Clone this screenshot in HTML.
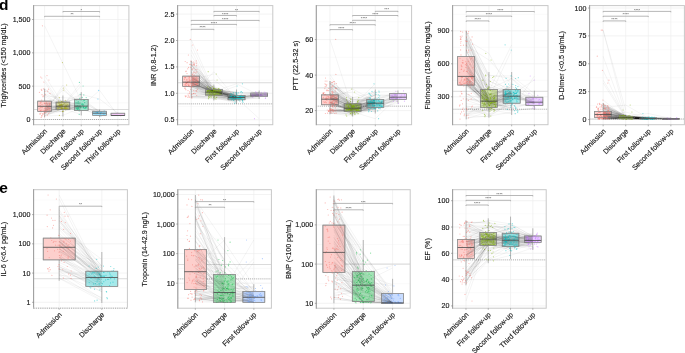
<!DOCTYPE html>
<html><head><meta charset="utf-8"><style>
html,body{margin:0;padding:0;background:#fff;width:685px;height:353px;overflow:hidden;font-family:"Liberation Sans", sans-serif;}
</style></head><body>
<svg width="685" height="353" viewBox="0 0 685 353" style="position:absolute;left:0;top:0;filter:blur(0.3px)"><style>text{font-family:"Liberation Sans", sans-serif} .ax{font-size:7.1px;fill:#1a1a1a;stroke:#1a1a1a;stroke-width:0.15px} .xl{font-size:7.2px}</style><rect width="685" height="353" fill="#fff"/><clipPath id="c0"><rect x="33.6" y="5.6" width="95.30000000000001" height="119.10000000000001"/></clipPath><g clip-path="url(#c0)"><line x1="33.6" x2="128.9" y1="102.83" y2="102.83" stroke="#f6f6f6" stroke-width="0.6"/><line x1="33.6" x2="128.9" y1="69.50" y2="69.50" stroke="#f6f6f6" stroke-width="0.6"/><line x1="33.6" x2="128.9" y1="36.17" y2="36.17" stroke="#f6f6f6" stroke-width="0.6"/><line x1="33.6" x2="128.9" y1="119.50" y2="119.50" stroke="#eeeeee" stroke-width="0.7"/><line x1="33.6" x2="128.9" y1="86.17" y2="86.17" stroke="#eeeeee" stroke-width="0.7"/><line x1="33.6" x2="128.9" y1="52.83" y2="52.83" stroke="#eeeeee" stroke-width="0.7"/><line x1="33.6" x2="128.9" y1="19.50" y2="19.50" stroke="#eeeeee" stroke-width="0.7"/><line x1="44.60" x2="44.60" y1="5.6" y2="124.7" stroke="#eeeeee" stroke-width="0.7"/><line x1="62.92" x2="62.92" y1="5.6" y2="124.7" stroke="#eeeeee" stroke-width="0.7"/><line x1="81.25" x2="81.25" y1="5.6" y2="124.7" stroke="#eeeeee" stroke-width="0.7"/><line x1="99.58" x2="99.58" y1="5.6" y2="124.7" stroke="#eeeeee" stroke-width="0.7"/><line x1="117.90" x2="117.90" y1="5.6" y2="124.7" stroke="#eeeeee" stroke-width="0.7"/><line x1="33.6" x2="128.9" y1="109.50" y2="109.50" stroke="#c2c2c2" stroke-width="0.6"/><line x1="33.6" x2="128.9" y1="119.50" y2="119.50" stroke="#7a7a7a" stroke-width="0.65" stroke-dasharray="1 0.95"/><line x1="44.60" x2="44.60" y1="88.7" y2="117.5" stroke="#8a8a8a" stroke-width="0.6"/><rect x="37.72" y="101.1" width="13.75" height="10.40" fill="#fdcfcc" stroke="#777" stroke-width="0.6"/><line x1="62.92" x2="62.92" y1="95.5" y2="116.5" stroke="#8a8a8a" stroke-width="0.6"/><rect x="56.05" y="102.1" width="13.75" height="7.60" fill="#dfe0a6" stroke="#777" stroke-width="0.6"/><line x1="81.25" x2="81.25" y1="92.1" y2="115.5" stroke="#8a8a8a" stroke-width="0.6"/><rect x="74.38" y="99.4" width="13.75" height="11.20" fill="#a6e9d2" stroke="#777" stroke-width="0.6"/><line x1="99.58" x2="99.58" y1="109.5" y2="117.2" stroke="#8a8a8a" stroke-width="0.6"/><rect x="92.70" y="111.2" width="13.75" height="4.10" fill="#a6e3fc" stroke="#777" stroke-width="0.6"/><line x1="117.90" x2="117.90" y1="112.8" y2="116" stroke="#8a8a8a" stroke-width="0.6"/><rect x="111.03" y="113.2" width="13.75" height="2.40" fill="#f7cbfb" stroke="#777" stroke-width="0.6"/><path d="M44.6 25.8L81.3 101.0M44.6 111.8L62.9 107.9M62.9 107.9L81.3 109.7M81.3 109.7L99.6 114.0M99.6 114.0L117.9 115.5M44.6 115.9L62.9 115.4M62.9 115.4L81.3 107.7M81.3 107.7L99.6 116.0M99.6 116.0L117.9 115.8M44.6 88.9L62.9 101.9M62.9 101.9L81.3 94.3M81.3 94.3L99.6 99.0M99.6 99.0L117.9 113.1M44.6 113.9L62.9 108.0M62.9 108.0L81.3 106.6M81.3 106.6L99.6 90.3M99.6 90.3L117.9 115.5M44.6 102.7L62.9 107.6M62.9 107.6L81.3 100.5M81.3 100.5L99.6 112.1M44.6 110.4L62.9 111.6M62.9 111.6L81.3 104.6M81.3 104.6L99.6 114.2M44.6 101.7L62.9 101.0M62.9 101.0L81.3 100.3M81.3 100.3L99.6 110.8M44.6 108.5L62.9 104.9M62.9 104.9L81.3 107.6M81.3 107.6L99.6 112.1M44.6 94.7L62.9 105.8M62.9 105.8L81.3 104.9M81.3 104.9L99.6 112.6M44.6 90.4L62.9 102.5M62.9 102.5L81.3 97.6M81.3 97.6L99.6 111.9M44.6 106.1L62.9 106.9M62.9 106.9L81.3 107.2M81.3 107.2L99.6 112.9M44.6 104.5L62.9 102.5M62.9 102.5L81.3 102.7M81.3 102.7L99.6 111.3M44.6 95.8L62.9 97.7M62.9 97.7L81.3 98.7M44.6 113.6L62.9 106.5M62.9 106.5L81.3 105.5M44.6 93.4L62.9 102.0M62.9 102.0L81.3 97.4M44.6 112.4L62.9 106.3M62.9 106.3L81.3 108.4M44.6 110.8L62.9 111.5M62.9 111.5L81.3 105.0M44.6 89.2L62.9 104.8M62.9 104.8L81.3 94.9M44.6 108.2L62.9 109.1M62.9 109.1L81.3 108.7M44.6 100.2L62.9 100.4M62.9 100.4L81.3 107.1M44.6 103.9L62.9 108.2M62.9 108.2L81.3 101.8M44.6 109.8L62.9 104.9M62.9 104.9L81.3 102.8M44.6 106.2L62.9 102.5M62.9 102.5L81.3 107.6M44.6 115.7L62.9 108.8M62.9 108.8L81.3 114.4M44.6 82.0L62.9 109.1M62.9 109.1L81.3 108.2M44.6 113.8L62.9 85.0M62.9 85.0L81.3 106.5M44.6 110.2L62.9 90.0M62.9 90.0L81.3 104.1M44.6 108.8L62.9 107.4M62.9 107.4L81.3 107.1M44.6 103.3L62.9 104.2M62.9 104.2L81.3 103.3M44.6 103.8L62.9 101.7M62.9 101.7L81.3 104.2M44.6 107.7L62.9 105.2M62.9 105.2L81.3 86.0M44.6 110.4L62.9 104.5M62.9 104.5L81.3 107.9M44.6 105.3L62.9 108.9M62.9 108.9L81.3 106.3M44.6 104.6L62.9 108.6M62.9 108.6L81.3 103.5M44.6 103.6L62.9 108.0M62.9 108.0L81.3 102.6M44.6 107.0L62.9 105.2M62.9 105.2L81.3 107.6M44.6 102.0L62.9 102.6M62.9 102.6L81.3 107.9M44.6 116.0L62.9 108.5M62.9 108.5L81.3 106.7M44.6 111.5L62.9 88.0M62.9 88.0L81.3 107.8M44.6 110.0L62.9 108.4M62.9 108.4L81.3 109.4M44.6 80.0L62.9 106.6M62.9 106.6L81.3 109.0M44.6 108.9L62.9 105.3M62.9 105.3L81.3 82.4M44.6 75.6L62.9 103.8M62.9 103.8L81.3 107.0M44.6 112.2L62.9 106.4M62.9 106.4L81.3 111.0M44.6 113.0L62.9 109.0M62.9 109.0L81.3 107.6M44.6 115.1L62.9 111.0M44.6 109.8L62.9 105.2M44.6 107.6L62.9 104.1M44.6 113.4L62.9 109.8M44.6 103.2L62.9 101.9M44.6 107.3L62.9 108.3M44.6 114.6L62.9 108.9M44.6 112.9L62.9 106.6M44.6 96.7L62.9 105.5M44.6 110.9L62.9 105.9M44.6 103.3L62.9 102.7M44.6 109.5L62.9 109.7M44.6 110.6L62.9 105.9M44.6 111.1L62.9 108.9M44.6 108.0L62.9 107.3" fill="none" stroke="#000" stroke-opacity="0.11" stroke-width="0.4"/><g fill="#F8766D" fill-opacity="0.5"><circle cx="42.4" cy="25.8" r=".6"/><circle cx="49.4" cy="111.8" r=".6"/><circle cx="41.8" cy="115.9" r=".6"/><circle cx="43.4" cy="88.9" r=".6"/><circle cx="40.0" cy="113.9" r=".6"/><circle cx="40.9" cy="102.7" r=".6"/><circle cx="44.8" cy="110.4" r=".6"/><circle cx="40.7" cy="101.7" r=".6"/><circle cx="44.8" cy="108.5" r=".6"/><circle cx="42.0" cy="94.7" r=".6"/><circle cx="41.7" cy="90.4" r=".6"/><circle cx="46.9" cy="106.1" r=".6"/><circle cx="42.0" cy="104.5" r=".6"/><circle cx="43.3" cy="95.8" r=".6"/><circle cx="42.6" cy="113.6" r=".6"/><circle cx="50.0" cy="93.4" r=".6"/><circle cx="44.2" cy="112.4" r=".6"/><circle cx="45.2" cy="110.8" r=".6"/><circle cx="48.5" cy="89.2" r=".6"/><circle cx="49.7" cy="108.2" r=".6"/><circle cx="41.7" cy="100.2" r=".6"/><circle cx="49.6" cy="103.9" r=".6"/><circle cx="41.2" cy="109.8" r=".6"/><circle cx="46.8" cy="106.2" r=".6"/><circle cx="41.9" cy="115.7" r=".6"/><circle cx="43.8" cy="82.0" r=".6"/><circle cx="40.1" cy="113.8" r=".6"/><circle cx="43.0" cy="110.2" r=".6"/><circle cx="39.2" cy="108.8" r=".6"/><circle cx="44.4" cy="103.3" r=".6"/><circle cx="49.6" cy="103.8" r=".6"/><circle cx="40.4" cy="107.7" r=".6"/><circle cx="40.3" cy="110.4" r=".6"/><circle cx="40.2" cy="105.3" r=".6"/><circle cx="47.6" cy="104.6" r=".6"/><circle cx="46.5" cy="103.6" r=".6"/><circle cx="42.0" cy="107.0" r=".6"/><circle cx="46.5" cy="102.0" r=".6"/><circle cx="44.5" cy="116.0" r=".6"/><circle cx="46.6" cy="111.5" r=".6"/><circle cx="46.2" cy="110.0" r=".6"/><circle cx="48.9" cy="80.0" r=".6"/><circle cx="49.3" cy="108.9" r=".6"/><circle cx="47.0" cy="75.6" r=".6"/><circle cx="46.2" cy="112.2" r=".6"/><circle cx="41.0" cy="113.0" r=".6"/><circle cx="47.4" cy="115.1" r=".6"/><circle cx="47.2" cy="109.8" r=".6"/><circle cx="42.0" cy="107.6" r=".6"/><circle cx="48.7" cy="113.4" r=".6"/><circle cx="44.6" cy="103.2" r=".6"/><circle cx="47.6" cy="107.3" r=".6"/><circle cx="42.8" cy="114.6" r=".6"/><circle cx="45.1" cy="112.9" r=".6"/><circle cx="43.0" cy="96.7" r=".6"/><circle cx="40.3" cy="110.9" r=".6"/><circle cx="40.2" cy="103.3" r=".6"/><circle cx="47.7" cy="109.5" r=".6"/><circle cx="41.1" cy="110.6" r=".6"/><circle cx="43.7" cy="111.1" r=".6"/><circle cx="48.1" cy="108.0" r=".6"/><circle cx="45.6" cy="108.2" r=".6"/><circle cx="40.7" cy="77.0" r=".6"/><circle cx="43.5" cy="113.8" r=".6"/><circle cx="41.2" cy="117.4" r=".6"/><circle cx="44.9" cy="91.5" r=".6"/><circle cx="45.3" cy="94.7" r=".6"/><circle cx="41.3" cy="89.3" r=".6"/><circle cx="41.8" cy="78.0" r=".6"/><circle cx="47.7" cy="91.2" r=".6"/><circle cx="39.4" cy="92.3" r=".6"/></g><g fill="#A3A500" fill-opacity="0.5"><circle cx="62.4" cy="62.6" r=".6"/><circle cx="58.1" cy="107.9" r=".6"/><circle cx="59.4" cy="115.4" r=".6"/><circle cx="61.5" cy="101.9" r=".6"/><circle cx="62.9" cy="108.0" r=".6"/><circle cx="65.0" cy="107.6" r=".6"/><circle cx="62.7" cy="111.6" r=".6"/><circle cx="58.5" cy="101.0" r=".6"/><circle cx="62.3" cy="104.9" r=".6"/><circle cx="59.6" cy="105.8" r=".6"/><circle cx="65.0" cy="102.5" r=".6"/><circle cx="62.0" cy="106.9" r=".6"/><circle cx="59.8" cy="102.5" r=".6"/><circle cx="59.3" cy="97.7" r=".6"/><circle cx="65.9" cy="106.5" r=".6"/><circle cx="62.7" cy="102.0" r=".6"/><circle cx="66.6" cy="106.3" r=".6"/><circle cx="62.7" cy="111.5" r=".6"/><circle cx="61.8" cy="104.8" r=".6"/><circle cx="62.6" cy="109.1" r=".6"/><circle cx="65.3" cy="100.4" r=".6"/><circle cx="66.8" cy="108.2" r=".6"/><circle cx="60.3" cy="104.9" r=".6"/><circle cx="66.9" cy="102.5" r=".6"/><circle cx="66.9" cy="108.8" r=".6"/><circle cx="65.4" cy="109.1" r=".6"/><circle cx="66.6" cy="85.0" r=".6"/><circle cx="63.8" cy="90.0" r=".6"/><circle cx="61.1" cy="107.4" r=".6"/><circle cx="59.7" cy="104.2" r=".6"/><circle cx="61.7" cy="101.7" r=".6"/><circle cx="60.4" cy="105.2" r=".6"/><circle cx="67.2" cy="104.5" r=".6"/><circle cx="67.8" cy="108.9" r=".6"/><circle cx="65.8" cy="108.6" r=".6"/><circle cx="64.6" cy="108.0" r=".6"/><circle cx="65.7" cy="105.2" r=".6"/><circle cx="63.3" cy="102.6" r=".6"/><circle cx="61.3" cy="108.5" r=".6"/><circle cx="63.7" cy="88.0" r=".6"/><circle cx="64.4" cy="108.4" r=".6"/><circle cx="64.6" cy="106.6" r=".6"/><circle cx="59.0" cy="105.3" r=".6"/><circle cx="64.0" cy="103.8" r=".6"/><circle cx="62.5" cy="106.4" r=".6"/><circle cx="58.2" cy="109.0" r=".6"/><circle cx="63.4" cy="111.0" r=".6"/><circle cx="61.4" cy="105.2" r=".6"/><circle cx="61.6" cy="104.1" r=".6"/><circle cx="57.9" cy="109.8" r=".6"/><circle cx="60.1" cy="101.9" r=".6"/><circle cx="61.3" cy="108.3" r=".6"/><circle cx="61.9" cy="108.9" r=".6"/><circle cx="65.9" cy="106.6" r=".6"/><circle cx="66.7" cy="105.5" r=".6"/><circle cx="60.4" cy="105.9" r=".6"/><circle cx="58.7" cy="102.7" r=".6"/><circle cx="65.4" cy="109.7" r=".6"/><circle cx="59.5" cy="105.9" r=".6"/><circle cx="65.6" cy="108.9" r=".6"/><circle cx="65.7" cy="107.3" r=".6"/></g><g fill="#00BF7D" fill-opacity="0.5"><circle cx="79.3" cy="109.7" r=".6"/><circle cx="78.5" cy="107.7" r=".6"/><circle cx="80.1" cy="94.3" r=".6"/><circle cx="86.5" cy="106.6" r=".6"/><circle cx="84.1" cy="100.5" r=".6"/><circle cx="82.8" cy="104.6" r=".6"/><circle cx="84.0" cy="100.3" r=".6"/><circle cx="83.7" cy="107.6" r=".6"/><circle cx="82.2" cy="104.9" r=".6"/><circle cx="86.2" cy="97.6" r=".6"/><circle cx="85.1" cy="107.2" r=".6"/><circle cx="76.0" cy="102.7" r=".6"/><circle cx="79.7" cy="98.7" r=".6"/><circle cx="77.3" cy="105.5" r=".6"/><circle cx="82.3" cy="97.4" r=".6"/><circle cx="84.8" cy="108.4" r=".6"/><circle cx="83.7" cy="105.0" r=".6"/><circle cx="83.8" cy="94.9" r=".6"/><circle cx="78.3" cy="108.7" r=".6"/><circle cx="83.2" cy="107.1" r=".6"/><circle cx="78.4" cy="101.8" r=".6"/><circle cx="77.8" cy="102.8" r=".6"/><circle cx="85.6" cy="107.6" r=".6"/><circle cx="79.2" cy="114.4" r=".6"/><circle cx="76.7" cy="108.2" r=".6"/><circle cx="79.0" cy="106.5" r=".6"/><circle cx="83.2" cy="104.1" r=".6"/><circle cx="80.5" cy="107.1" r=".6"/><circle cx="82.2" cy="103.3" r=".6"/><circle cx="81.7" cy="104.2" r=".6"/><circle cx="83.1" cy="86.0" r=".6"/><circle cx="85.7" cy="107.9" r=".6"/><circle cx="79.9" cy="106.3" r=".6"/><circle cx="79.0" cy="103.5" r=".6"/><circle cx="84.6" cy="102.6" r=".6"/><circle cx="86.3" cy="107.6" r=".6"/><circle cx="77.0" cy="107.9" r=".6"/><circle cx="83.6" cy="106.7" r=".6"/><circle cx="77.8" cy="107.8" r=".6"/><circle cx="77.7" cy="109.4" r=".6"/><circle cx="77.1" cy="109.0" r=".6"/><circle cx="79.4" cy="82.4" r=".6"/><circle cx="81.9" cy="107.0" r=".6"/><circle cx="79.2" cy="111.0" r=".6"/><circle cx="83.6" cy="107.6" r=".6"/></g><g fill="#00B0F6" fill-opacity="0.5"><circle cx="100.3" cy="114.0" r=".6"/><circle cx="100.9" cy="116.0" r=".6"/><circle cx="97.9" cy="99.0" r=".6"/><circle cx="98.6" cy="90.3" r=".6"/><circle cx="101.5" cy="112.1" r=".6"/><circle cx="103.9" cy="114.2" r=".6"/><circle cx="104.2" cy="110.8" r=".6"/><circle cx="96.1" cy="112.1" r=".6"/><circle cx="97.5" cy="112.6" r=".6"/><circle cx="97.3" cy="111.9" r=".6"/><circle cx="100.5" cy="112.9" r=".6"/><circle cx="99.4" cy="111.3" r=".6"/></g><g fill="#E76BF3" fill-opacity="0.5"><circle cx="121.5" cy="115.5" r=".6"/><circle cx="120.7" cy="115.8" r=".6"/><circle cx="117.0" cy="113.1" r=".6"/><circle cx="120.6" cy="115.5" r=".6"/></g><rect x="37.72" y="101.1" width="13.75" height="10.40" fill="none" stroke="#939393" stroke-width="0.6"/><line x1="37.72" x2="51.47" y1="106.3" y2="106.3" stroke="#4a4a4a" stroke-width="0.8"/><rect x="56.05" y="102.1" width="13.75" height="7.60" fill="none" stroke="#939393" stroke-width="0.6"/><line x1="56.05" x2="69.80" y1="106.2" y2="106.2" stroke="#4a4a4a" stroke-width="0.8"/><rect x="74.38" y="99.4" width="13.75" height="11.20" fill="none" stroke="#939393" stroke-width="0.6"/><line x1="74.38" x2="88.12" y1="106.1" y2="106.1" stroke="#4a4a4a" stroke-width="0.8"/><rect x="92.70" y="111.2" width="13.75" height="4.10" fill="none" stroke="#939393" stroke-width="0.6"/><line x1="92.70" x2="106.45" y1="113.2" y2="113.2" stroke="#4a4a4a" stroke-width="0.8"/><rect x="111.03" y="113.2" width="13.75" height="2.40" fill="none" stroke="#939393" stroke-width="0.6"/><line x1="111.03" x2="124.78" y1="115.5" y2="115.5" stroke="#4a4a4a" stroke-width="0.8"/></g><path d="M62.92 12.40V11.50H99.58V12.40" fill="none" stroke="#9a9a9a" stroke-width="0.7"/><text x="81.25" y="11.60" font-size="4" text-anchor="middle" fill="#444" font-family='"Liberation Sans", sans-serif'>*</text><path d="M44.60 17.20V16.30H99.58V17.20" fill="none" stroke="#9a9a9a" stroke-width="0.7"/><text x="72.09" y="16.40" font-size="4" text-anchor="middle" fill="#444" font-family='"Liberation Sans", sans-serif'>**</text><rect x="33.6" y="5.6" width="95.30" height="119.10" fill="none" stroke="#c8c8c8" stroke-width="1.0"/><line x1="33.6" x2="33.6" y1="5.1" y2="125.2" stroke="#959595" stroke-width="0.85"/><line x1="32.1" x2="33.6" y1="119.50" y2="119.50" stroke="#777" stroke-width="0.6"/><text x="30.40" y="122.00" class="ax" text-anchor="end">0</text><line x1="32.1" x2="33.6" y1="86.17" y2="86.17" stroke="#777" stroke-width="0.6"/><text x="30.40" y="88.67" class="ax" text-anchor="end">500</text><line x1="32.1" x2="33.6" y1="52.83" y2="52.83" stroke="#777" stroke-width="0.6"/><text x="30.40" y="55.33" class="ax" text-anchor="end">1,000</text><line x1="32.1" x2="33.6" y1="19.50" y2="19.50" stroke="#777" stroke-width="0.6"/><text x="30.40" y="22.00" class="ax" text-anchor="end">1,500</text><line x1="44.60" x2="44.60" y1="124.7" y2="126.3" stroke="#888" stroke-width="0.6"/><text transform="translate(47.70,131.60) rotate(-45)" class="ax xl" text-anchor="end">Admission</text><line x1="62.92" x2="62.92" y1="124.7" y2="126.3" stroke="#888" stroke-width="0.6"/><text transform="translate(66.02,131.60) rotate(-45)" class="ax xl" text-anchor="end">Discharge</text><line x1="81.25" x2="81.25" y1="124.7" y2="126.3" stroke="#888" stroke-width="0.6"/><text transform="translate(84.35,131.60) rotate(-45)" class="ax xl" text-anchor="end">First follow-up</text><line x1="99.58" x2="99.58" y1="124.7" y2="126.3" stroke="#888" stroke-width="0.6"/><text transform="translate(102.68,131.60) rotate(-45)" class="ax xl" text-anchor="end">Second follow-up</text><line x1="117.90" x2="117.90" y1="124.7" y2="126.3" stroke="#888" stroke-width="0.6"/><text transform="translate(121.00,131.60) rotate(-45)" class="ax xl" text-anchor="end">Third follow-up</text><text transform="translate(5.80,65.45) rotate(-90)" class="ax" text-anchor="middle">Triglycerides (<150 mg/dL)</text><clipPath id="c1"><rect x="177.6" y="5.6" width="95.20000000000002" height="119.10000000000001"/></clipPath><g clip-path="url(#c1)"><line x1="177.6" x2="272.8" y1="106.50" y2="106.50" stroke="#f6f6f6" stroke-width="0.6"/><line x1="177.6" x2="272.8" y1="80.10" y2="80.10" stroke="#f6f6f6" stroke-width="0.6"/><line x1="177.6" x2="272.8" y1="53.70" y2="53.70" stroke="#f6f6f6" stroke-width="0.6"/><line x1="177.6" x2="272.8" y1="27.30" y2="27.30" stroke="#f6f6f6" stroke-width="0.6"/><line x1="177.6" x2="272.8" y1="119.70" y2="119.70" stroke="#eeeeee" stroke-width="0.7"/><line x1="177.6" x2="272.8" y1="93.30" y2="93.30" stroke="#eeeeee" stroke-width="0.7"/><line x1="177.6" x2="272.8" y1="66.90" y2="66.90" stroke="#eeeeee" stroke-width="0.7"/><line x1="177.6" x2="272.8" y1="40.50" y2="40.50" stroke="#eeeeee" stroke-width="0.7"/><line x1="177.6" x2="272.8" y1="14.10" y2="14.10" stroke="#eeeeee" stroke-width="0.7"/><line x1="191.20" x2="191.20" y1="5.6" y2="124.7" stroke="#eeeeee" stroke-width="0.7"/><line x1="213.87" x2="213.87" y1="5.6" y2="124.7" stroke="#eeeeee" stroke-width="0.7"/><line x1="236.53" x2="236.53" y1="5.6" y2="124.7" stroke="#eeeeee" stroke-width="0.7"/><line x1="259.20" x2="259.20" y1="5.6" y2="124.7" stroke="#eeeeee" stroke-width="0.7"/><line x1="177.6" x2="272.8" y1="82.74" y2="82.74" stroke="#c2c2c2" stroke-width="0.6"/><line x1="177.6" x2="272.8" y1="103.86" y2="103.86" stroke="#7a7a7a" stroke-width="0.65" stroke-dasharray="1 0.95"/><line x1="191.20" x2="191.20" y1="60.8" y2="98.2" stroke="#8a8a8a" stroke-width="0.6"/><rect x="182.70" y="76.1" width="17.00" height="10.50" fill="#fdcfcc" stroke="#777" stroke-width="0.6"/><line x1="213.87" x2="213.87" y1="84.5" y2="100.5" stroke="#8a8a8a" stroke-width="0.6"/><rect x="205.37" y="89.5" width="17.00" height="5.60" fill="#d1e3a6" stroke="#777" stroke-width="0.6"/><line x1="236.53" x2="236.53" y1="89.5" y2="104" stroke="#8a8a8a" stroke-width="0.6"/><rect x="228.03" y="95.3" width="17.00" height="4.50" fill="#a6e9ea" stroke="#777" stroke-width="0.6"/><line x1="259.20" x2="259.20" y1="90.5" y2="99" stroke="#8a8a8a" stroke-width="0.6"/><rect x="250.70" y="93.1" width="17.00" height="3.50" fill="#ebd1ff" stroke="#777" stroke-width="0.6"/><path d="M191.2 62.1L213.9 89.6M213.9 89.6L236.5 92.7M236.5 92.7L259.2 91.9M191.2 88.2L213.9 97.2M213.9 97.2L236.5 98.5M236.5 98.5L259.2 97.3M191.2 84.3L213.9 90.9M213.9 90.9L236.5 96.6M236.5 96.6L259.2 96.5M191.2 94.4L213.9 97.4M213.9 97.4L236.5 98.3M236.5 98.3L259.2 98.5M191.2 50.0L213.9 96.8M213.9 96.8L236.5 101.0M236.5 101.0L259.2 95.9M191.2 89.7L213.9 94.7M213.9 94.7L236.5 98.1M236.5 98.1L259.2 95.5M191.2 83.7L213.9 91.2M213.9 91.2L236.5 97.6M236.5 97.6L259.2 94.2M191.2 86.7L213.9 94.5M213.9 94.5L236.5 98.4M236.5 98.4L259.2 94.5M191.2 79.3L213.9 91.5M213.9 91.5L236.5 97.9M236.5 97.9L259.2 118.7M191.2 88.2L213.9 91.4M213.9 91.4L236.5 97.3M236.5 97.3L259.2 94.8M191.2 81.5L213.9 91.0M213.9 91.0L236.5 98.2M236.5 98.2L259.2 94.9M191.2 91.4L213.9 94.9M213.9 94.9L236.5 100.7M236.5 100.7L259.2 97.8M191.2 65.7L213.9 91.6M213.9 91.6L236.5 92.5M236.5 92.5L259.2 92.4M191.2 94.0L213.9 94.9M213.9 94.9L236.5 97.5M236.5 97.5L259.2 95.0M191.2 80.7L213.9 90.5M213.9 90.5L236.5 96.4M236.5 96.4L259.2 95.4M191.2 81.0L213.9 91.4M213.9 91.4L236.5 97.7M236.5 97.7L259.2 93.7M191.2 83.2L213.9 91.3M213.9 91.3L236.5 99.6M236.5 99.6L259.2 95.4M191.2 96.1L213.9 94.3M213.9 94.3L236.5 98.3M236.5 98.3L259.2 96.5M191.2 80.6L213.9 91.2M213.9 91.2L236.5 83.8M236.5 83.8L259.2 95.1M191.2 80.3L213.9 91.0M213.9 91.0L236.5 97.6M236.5 97.6L259.2 94.7M191.2 85.2L213.9 92.9M213.9 92.9L236.5 97.6M236.5 97.6L259.2 96.1M191.2 77.7L213.9 89.3M213.9 89.3L236.5 96.5M236.5 96.5L259.2 92.4M191.2 85.6L213.9 91.2M213.9 91.2L236.5 99.8M236.5 99.8L259.2 96.1M191.2 72.0L213.9 92.5M213.9 92.5L236.5 95.5M236.5 95.5L259.2 92.1M191.2 64.2L213.9 88.0M213.9 88.0L236.5 96.0M236.5 96.0L259.2 93.7M191.2 79.0L213.9 93.6M213.9 93.6L236.5 98.8M236.5 98.8L259.2 93.1M191.2 45.0L213.9 93.1M213.9 93.1L236.5 97.2M236.5 97.2L259.2 95.2M191.2 68.8L213.9 91.0M213.9 91.0L236.5 94.0M236.5 94.0L259.2 92.4M191.2 85.4L213.9 94.6M213.9 94.6L236.5 98.3M236.5 98.3L259.2 95.9M191.2 79.9L213.9 92.4M213.9 92.4L236.5 95.9M236.5 95.9L259.2 94.9M191.2 91.9L213.9 93.0M213.9 93.0L236.5 97.7M191.2 77.8L213.9 90.8M213.9 90.8L236.5 94.9M191.2 64.9L213.9 91.9M213.9 91.9L236.5 95.4M191.2 97.3L213.9 97.0M213.9 97.0L236.5 102.0M191.2 82.9L213.9 91.5M213.9 91.5L236.5 96.3M191.2 86.4L213.9 97.3M213.9 97.3L236.5 96.7M191.2 74.1L213.9 90.3M213.9 90.3L236.5 97.7M191.2 95.8L213.9 71.7M213.9 71.7L236.5 99.6M191.2 69.4L213.9 88.0M213.9 88.0L236.5 93.9M191.2 72.7L213.9 91.5M213.9 91.5L236.5 97.0M191.2 83.4L213.9 91.2M213.9 91.2L236.5 96.7M191.2 75.6L213.9 90.3M213.9 90.3L236.5 96.3M191.2 89.2L213.9 93.2M213.9 93.2L236.5 98.4M191.2 39.4L213.9 91.0M213.9 91.0L236.5 95.5M191.2 64.3L213.9 91.4M213.9 91.4L236.5 96.2M191.2 79.4L213.9 90.6M213.9 90.6L236.5 97.8M191.2 65.0L213.9 89.8M213.9 89.8L236.5 92.8M191.2 95.8L213.9 97.2M213.9 97.2L236.5 103.3M191.2 73.6L213.9 90.3M213.9 90.3L236.5 92.7M191.2 79.6L213.9 92.3M213.9 92.3L236.5 97.6M191.2 84.4L213.9 94.6M213.9 94.6L236.5 99.8M191.2 78.5L213.9 92.1M213.9 92.1L236.5 97.0M191.2 77.1L213.9 92.0M213.9 92.0L236.5 96.7M191.2 85.3L213.9 94.2M213.9 94.2L236.5 97.7M191.2 93.6L213.9 95.4M213.9 95.4L236.5 102.3M191.2 78.1L213.9 92.1M213.9 92.1L236.5 94.1M191.2 82.5L213.9 91.4M213.9 91.4L236.5 97.5M191.2 71.8L213.9 89.2M213.9 89.2L236.5 95.4M191.2 96.7L213.9 98.7M213.9 98.7L236.5 98.8M191.2 83.7L213.9 90.4M213.9 90.4L236.5 97.4M191.2 71.6L213.9 88.7M213.9 88.7L236.5 92.1M191.2 78.3L213.9 88.8M213.9 88.8L236.5 97.0M191.2 86.3L213.9 96.3M213.9 96.3L236.5 99.7M191.2 67.3L213.9 88.7M213.9 88.7L236.5 97.4M191.2 96.9L213.9 95.7M213.9 95.7L236.5 99.7M191.2 84.6L213.9 96.0M213.9 96.0L236.5 99.2M191.2 68.3L213.9 88.3M213.9 88.3L236.5 93.0M191.2 86.3L213.9 92.7M213.9 92.7L236.5 100.0M191.2 85.7L213.9 91.1M213.9 91.1L236.5 99.7M191.2 85.9L213.9 95.0M213.9 95.0L236.5 97.0M191.2 77.6L213.9 90.6M213.9 90.6L236.5 95.0M191.2 82.8L213.9 90.4M213.9 90.4L236.5 96.6M191.2 55.0L213.9 94.8M213.9 94.8L236.5 98.4M191.2 83.1L213.9 91.1M213.9 91.1L236.5 97.2M191.2 76.3L213.9 90.2M213.9 90.2L236.5 97.3M191.2 76.2L213.9 87.5M213.9 87.5L236.5 95.8M191.2 77.1L213.9 92.1M213.9 92.1L236.5 98.0M191.2 83.1L213.9 92.0M213.9 92.0L236.5 96.9M191.2 82.7L213.9 92.0M213.9 92.0L236.5 99.3M191.2 96.0L213.9 98.7M213.9 98.7L236.5 101.1M191.2 86.9L213.9 96.2M213.9 96.2L236.5 99.5M191.2 85.1L213.9 91.5M213.9 91.5L236.5 96.6M191.2 61.2L213.9 86.9M213.9 86.9L236.5 97.0M191.2 87.2L213.9 91.3M213.9 91.3L236.5 98.0M191.2 69.5L213.9 91.5M213.9 91.5L236.5 96.8M191.2 93.6L213.9 94.6M213.9 94.6L236.5 100.3M191.2 82.7L213.9 94.2M213.9 94.2L236.5 86.0M191.2 84.2L213.9 90.8M213.9 90.8L236.5 97.4M191.2 80.5L213.9 94.0M213.9 94.0L236.5 97.4M191.2 84.5L213.9 92.3M213.9 92.3L236.5 98.6M191.2 72.9L213.9 91.4M213.9 91.4L236.5 94.9M191.2 98.0L213.9 99.0M213.9 99.0L236.5 98.8M191.2 69.8L213.9 91.0M213.9 91.0L236.5 97.0M191.2 63.2L213.9 88.6M213.9 88.6L236.5 96.9M191.2 61.5L213.9 88.5M213.9 88.5L236.5 95.9M191.2 82.1L213.9 92.8M213.9 92.8L236.5 97.2M191.2 83.7L213.9 80.0M213.9 80.0L236.5 97.0M191.2 85.6L213.9 91.7M213.9 91.7L236.5 97.5M191.2 64.3L213.9 91.2M213.9 91.2L236.5 91.7M191.2 77.0L213.9 92.4M213.9 92.4L236.5 94.1M191.2 82.1L213.9 93.8M213.9 93.8L236.5 98.7M191.2 60.9L213.9 86.3M213.9 86.3L236.5 96.1M191.2 67.4L213.9 92.0M213.9 92.0L236.5 94.0M191.2 79.0L213.9 89.6M213.9 89.6L236.5 95.1M191.2 76.5L213.9 88.9M213.9 88.9L236.5 96.5M191.2 64.9L213.9 89.9M191.2 76.6L213.9 89.6M191.2 83.9L213.9 91.2M191.2 76.9L213.9 92.5M191.2 80.1L213.9 74.0M191.2 79.9L213.9 94.0M191.2 77.3L213.9 91.4M191.2 76.4L213.9 92.0M191.2 97.2L213.9 95.7M191.2 78.8L213.9 90.0M191.2 81.2L213.9 90.1M191.2 90.6L213.9 97.4M191.2 83.9L213.9 91.9M191.2 75.1L213.9 92.7M191.2 79.8L213.9 92.3M191.2 81.5L213.9 94.1M191.2 90.7L213.9 93.6M191.2 85.0L213.9 90.8M191.2 82.0L213.9 92.9M191.2 89.5L213.9 94.0" fill="none" stroke="#000" stroke-opacity="0.11" stroke-width="0.4"/><g fill="#F8766D" fill-opacity="0.5"><circle cx="193.4" cy="62.1" r=".6"/><circle cx="185.3" cy="88.2" r=".6"/><circle cx="193.3" cy="84.3" r=".6"/><circle cx="191.6" cy="94.4" r=".6"/><circle cx="197.5" cy="50.0" r=".6"/><circle cx="185.8" cy="89.7" r=".6"/><circle cx="190.6" cy="83.7" r=".6"/><circle cx="189.2" cy="86.7" r=".6"/><circle cx="184.4" cy="79.3" r=".6"/><circle cx="184.7" cy="88.2" r=".6"/><circle cx="188.8" cy="81.5" r=".6"/><circle cx="196.8" cy="91.4" r=".6"/><circle cx="196.6" cy="65.7" r=".6"/><circle cx="188.1" cy="94.0" r=".6"/><circle cx="193.7" cy="80.7" r=".6"/><circle cx="189.8" cy="81.0" r=".6"/><circle cx="186.1" cy="83.2" r=".6"/><circle cx="186.3" cy="96.1" r=".6"/><circle cx="195.7" cy="80.6" r=".6"/><circle cx="197.6" cy="80.3" r=".6"/><circle cx="194.8" cy="85.2" r=".6"/><circle cx="185.0" cy="77.7" r=".6"/><circle cx="188.8" cy="85.6" r=".6"/><circle cx="194.0" cy="72.0" r=".6"/><circle cx="193.9" cy="64.2" r=".6"/><circle cx="193.1" cy="79.0" r=".6"/><circle cx="192.7" cy="45.0" r=".6"/><circle cx="187.7" cy="68.8" r=".6"/><circle cx="193.4" cy="85.4" r=".6"/><circle cx="186.7" cy="79.9" r=".6"/><circle cx="189.5" cy="91.9" r=".6"/><circle cx="197.0" cy="77.8" r=".6"/><circle cx="193.6" cy="64.9" r=".6"/><circle cx="187.9" cy="97.3" r=".6"/><circle cx="194.9" cy="82.9" r=".6"/><circle cx="189.4" cy="86.4" r=".6"/><circle cx="192.7" cy="74.1" r=".6"/><circle cx="188.2" cy="95.8" r=".6"/><circle cx="192.3" cy="69.4" r=".6"/><circle cx="193.9" cy="72.7" r=".6"/><circle cx="196.4" cy="83.4" r=".6"/><circle cx="193.2" cy="75.6" r=".6"/><circle cx="197.4" cy="89.2" r=".6"/><circle cx="190.3" cy="39.4" r=".6"/><circle cx="189.7" cy="64.3" r=".6"/><circle cx="196.6" cy="79.4" r=".6"/><circle cx="192.5" cy="65.0" r=".6"/><circle cx="185.2" cy="95.8" r=".6"/><circle cx="187.0" cy="73.6" r=".6"/><circle cx="194.9" cy="79.6" r=".6"/><circle cx="196.7" cy="84.4" r=".6"/><circle cx="192.8" cy="78.5" r=".6"/><circle cx="189.6" cy="77.1" r=".6"/><circle cx="186.5" cy="85.3" r=".6"/><circle cx="189.4" cy="93.6" r=".6"/><circle cx="194.7" cy="78.1" r=".6"/><circle cx="186.7" cy="82.5" r=".6"/><circle cx="196.8" cy="71.8" r=".6"/><circle cx="185.5" cy="96.7" r=".6"/><circle cx="195.7" cy="83.7" r=".6"/><circle cx="185.9" cy="71.6" r=".6"/><circle cx="189.1" cy="78.3" r=".6"/><circle cx="191.1" cy="86.3" r=".6"/><circle cx="190.7" cy="67.3" r=".6"/><circle cx="192.1" cy="96.9" r=".6"/><circle cx="188.1" cy="84.6" r=".6"/><circle cx="193.1" cy="68.3" r=".6"/><circle cx="191.7" cy="86.3" r=".6"/><circle cx="188.9" cy="85.7" r=".6"/><circle cx="188.4" cy="85.9" r=".6"/><circle cx="194.0" cy="77.6" r=".6"/><circle cx="186.4" cy="82.8" r=".6"/><circle cx="188.4" cy="55.0" r=".6"/><circle cx="186.9" cy="83.1" r=".6"/><circle cx="188.2" cy="76.3" r=".6"/><circle cx="193.0" cy="76.2" r=".6"/><circle cx="195.6" cy="77.1" r=".6"/><circle cx="192.4" cy="83.1" r=".6"/><circle cx="187.7" cy="82.7" r=".6"/><circle cx="188.9" cy="96.0" r=".6"/><circle cx="191.9" cy="86.9" r=".6"/><circle cx="185.4" cy="85.1" r=".6"/><circle cx="191.0" cy="61.2" r=".6"/><circle cx="191.3" cy="87.2" r=".6"/><circle cx="196.9" cy="69.5" r=".6"/><circle cx="193.3" cy="93.6" r=".6"/><circle cx="193.3" cy="82.7" r=".6"/><circle cx="185.3" cy="84.2" r=".6"/><circle cx="190.2" cy="80.5" r=".6"/><circle cx="196.5" cy="84.5" r=".6"/><circle cx="195.8" cy="72.9" r=".6"/><circle cx="191.8" cy="98.0" r=".6"/><circle cx="195.1" cy="69.8" r=".6"/><circle cx="196.4" cy="63.2" r=".6"/><circle cx="185.2" cy="61.5" r=".6"/><circle cx="185.8" cy="82.1" r=".6"/><circle cx="197.6" cy="83.7" r=".6"/><circle cx="191.7" cy="85.6" r=".6"/><circle cx="190.9" cy="64.3" r=".6"/><circle cx="189.1" cy="77.0" r=".6"/><circle cx="187.5" cy="82.1" r=".6"/><circle cx="196.2" cy="60.9" r=".6"/><circle cx="188.6" cy="67.4" r=".6"/><circle cx="193.3" cy="79.0" r=".6"/><circle cx="189.3" cy="76.5" r=".6"/><circle cx="194.5" cy="64.9" r=".6"/><circle cx="191.4" cy="76.6" r=".6"/><circle cx="192.8" cy="83.9" r=".6"/><circle cx="192.9" cy="76.9" r=".6"/><circle cx="192.9" cy="80.1" r=".6"/><circle cx="189.1" cy="79.9" r=".6"/><circle cx="185.5" cy="77.3" r=".6"/><circle cx="196.3" cy="76.4" r=".6"/><circle cx="189.4" cy="97.2" r=".6"/><circle cx="196.2" cy="78.8" r=".6"/><circle cx="197.3" cy="81.2" r=".6"/><circle cx="188.0" cy="90.6" r=".6"/><circle cx="188.9" cy="83.9" r=".6"/><circle cx="194.6" cy="75.1" r=".6"/><circle cx="187.0" cy="79.8" r=".6"/><circle cx="195.4" cy="81.5" r=".6"/><circle cx="196.1" cy="90.7" r=".6"/><circle cx="185.0" cy="85.0" r=".6"/><circle cx="193.9" cy="82.0" r=".6"/><circle cx="190.6" cy="89.5" r=".6"/><circle cx="187.9" cy="81.9" r=".6"/><circle cx="185.2" cy="86.5" r=".6"/><circle cx="187.1" cy="62.7" r=".6"/><circle cx="189.7" cy="82.0" r=".6"/><circle cx="192.2" cy="74.7" r=".6"/><circle cx="184.9" cy="77.7" r=".6"/><circle cx="186.1" cy="71.1" r=".6"/><circle cx="193.7" cy="93.4" r=".6"/><circle cx="194.6" cy="63.1" r=".6"/><circle cx="192.7" cy="79.8" r=".6"/><circle cx="193.7" cy="90.6" r=".6"/><circle cx="189.8" cy="79.9" r=".6"/><circle cx="196.7" cy="95.5" r=".6"/><circle cx="186.2" cy="83.6" r=".6"/><circle cx="195.2" cy="93.7" r=".6"/></g><g fill="#7CAE00" fill-opacity="0.5"><circle cx="217.4" cy="89.6" r=".6"/><circle cx="216.8" cy="97.2" r=".6"/><circle cx="213.8" cy="90.9" r=".6"/><circle cx="209.7" cy="97.4" r=".6"/><circle cx="208.6" cy="96.8" r=".6"/><circle cx="213.0" cy="94.7" r=".6"/><circle cx="208.2" cy="91.2" r=".6"/><circle cx="220.0" cy="94.5" r=".6"/><circle cx="211.7" cy="91.5" r=".6"/><circle cx="211.0" cy="91.4" r=".6"/><circle cx="218.3" cy="91.0" r=".6"/><circle cx="218.9" cy="94.9" r=".6"/><circle cx="219.8" cy="91.6" r=".6"/><circle cx="216.0" cy="94.9" r=".6"/><circle cx="207.8" cy="90.5" r=".6"/><circle cx="213.8" cy="91.4" r=".6"/><circle cx="210.4" cy="91.3" r=".6"/><circle cx="215.0" cy="94.3" r=".6"/><circle cx="216.6" cy="91.2" r=".6"/><circle cx="213.1" cy="91.0" r=".6"/><circle cx="216.1" cy="92.9" r=".6"/><circle cx="219.0" cy="89.3" r=".6"/><circle cx="211.5" cy="91.2" r=".6"/><circle cx="211.8" cy="92.5" r=".6"/><circle cx="209.0" cy="88.0" r=".6"/><circle cx="209.1" cy="93.6" r=".6"/><circle cx="218.7" cy="93.1" r=".6"/><circle cx="208.4" cy="91.0" r=".6"/><circle cx="214.1" cy="94.6" r=".6"/><circle cx="209.3" cy="92.4" r=".6"/><circle cx="218.8" cy="93.0" r=".6"/><circle cx="219.3" cy="90.8" r=".6"/><circle cx="215.7" cy="91.9" r=".6"/><circle cx="208.7" cy="97.0" r=".6"/><circle cx="211.7" cy="91.5" r=".6"/><circle cx="216.3" cy="97.3" r=".6"/><circle cx="215.9" cy="90.3" r=".6"/><circle cx="208.2" cy="71.7" r=".6"/><circle cx="214.1" cy="88.0" r=".6"/><circle cx="208.2" cy="91.5" r=".6"/><circle cx="212.8" cy="91.2" r=".6"/><circle cx="213.7" cy="90.3" r=".6"/><circle cx="215.9" cy="93.2" r=".6"/><circle cx="215.0" cy="91.0" r=".6"/><circle cx="210.2" cy="91.4" r=".6"/><circle cx="220.5" cy="90.6" r=".6"/><circle cx="215.9" cy="89.8" r=".6"/><circle cx="211.3" cy="97.2" r=".6"/><circle cx="214.3" cy="90.3" r=".6"/><circle cx="211.8" cy="92.3" r=".6"/><circle cx="214.8" cy="94.6" r=".6"/><circle cx="209.3" cy="92.1" r=".6"/><circle cx="212.1" cy="92.0" r=".6"/><circle cx="213.6" cy="94.2" r=".6"/><circle cx="211.8" cy="95.4" r=".6"/><circle cx="209.9" cy="92.1" r=".6"/><circle cx="213.1" cy="91.4" r=".6"/><circle cx="213.7" cy="89.2" r=".6"/><circle cx="215.0" cy="98.7" r=".6"/><circle cx="209.0" cy="90.4" r=".6"/><circle cx="213.9" cy="88.7" r=".6"/><circle cx="210.3" cy="88.8" r=".6"/><circle cx="210.8" cy="96.3" r=".6"/><circle cx="215.8" cy="88.7" r=".6"/><circle cx="214.1" cy="95.7" r=".6"/><circle cx="209.1" cy="96.0" r=".6"/><circle cx="219.0" cy="88.3" r=".6"/><circle cx="213.9" cy="92.7" r=".6"/><circle cx="207.4" cy="91.1" r=".6"/><circle cx="209.8" cy="95.0" r=".6"/><circle cx="220.5" cy="90.6" r=".6"/><circle cx="210.2" cy="90.4" r=".6"/><circle cx="211.3" cy="94.8" r=".6"/><circle cx="214.0" cy="91.1" r=".6"/><circle cx="218.7" cy="90.2" r=".6"/><circle cx="210.9" cy="87.5" r=".6"/><circle cx="213.7" cy="92.1" r=".6"/><circle cx="217.7" cy="92.0" r=".6"/><circle cx="219.4" cy="92.0" r=".6"/><circle cx="208.5" cy="98.7" r=".6"/><circle cx="214.6" cy="96.2" r=".6"/><circle cx="211.0" cy="91.5" r=".6"/><circle cx="207.4" cy="86.9" r=".6"/><circle cx="218.2" cy="91.3" r=".6"/><circle cx="211.2" cy="91.5" r=".6"/><circle cx="219.8" cy="94.6" r=".6"/><circle cx="217.8" cy="94.2" r=".6"/><circle cx="218.0" cy="90.8" r=".6"/><circle cx="211.1" cy="94.0" r=".6"/><circle cx="220.1" cy="92.3" r=".6"/><circle cx="207.5" cy="91.4" r=".6"/><circle cx="216.1" cy="99.0" r=".6"/><circle cx="207.8" cy="91.0" r=".6"/><circle cx="213.5" cy="88.6" r=".6"/><circle cx="218.3" cy="88.5" r=".6"/><circle cx="213.8" cy="92.8" r=".6"/><circle cx="217.1" cy="80.0" r=".6"/><circle cx="217.9" cy="91.7" r=".6"/><circle cx="215.2" cy="91.2" r=".6"/><circle cx="207.3" cy="92.4" r=".6"/><circle cx="209.8" cy="93.8" r=".6"/><circle cx="212.8" cy="86.3" r=".6"/><circle cx="215.0" cy="92.0" r=".6"/><circle cx="217.6" cy="89.6" r=".6"/><circle cx="214.0" cy="88.9" r=".6"/><circle cx="209.0" cy="89.9" r=".6"/><circle cx="212.4" cy="89.6" r=".6"/><circle cx="210.6" cy="91.2" r=".6"/><circle cx="214.6" cy="92.5" r=".6"/><circle cx="216.3" cy="74.0" r=".6"/><circle cx="210.6" cy="94.0" r=".6"/><circle cx="215.9" cy="91.4" r=".6"/><circle cx="210.0" cy="92.0" r=".6"/><circle cx="209.1" cy="95.7" r=".6"/><circle cx="216.3" cy="90.0" r=".6"/><circle cx="213.7" cy="90.1" r=".6"/><circle cx="214.0" cy="97.4" r=".6"/><circle cx="212.1" cy="91.9" r=".6"/><circle cx="214.3" cy="92.7" r=".6"/><circle cx="211.6" cy="92.3" r=".6"/><circle cx="215.3" cy="94.1" r=".6"/><circle cx="217.8" cy="93.6" r=".6"/><circle cx="211.3" cy="90.8" r=".6"/><circle cx="212.2" cy="92.9" r=".6"/><circle cx="216.9" cy="94.0" r=".6"/></g><g fill="#00BFC4" fill-opacity="0.5"><circle cx="233.3" cy="92.7" r=".6"/><circle cx="230.2" cy="98.5" r=".6"/><circle cx="243.2" cy="96.6" r=".6"/><circle cx="240.7" cy="98.3" r=".6"/><circle cx="239.7" cy="101.0" r=".6"/><circle cx="239.6" cy="98.1" r=".6"/><circle cx="234.9" cy="97.6" r=".6"/><circle cx="238.1" cy="98.4" r=".6"/><circle cx="240.2" cy="97.9" r=".6"/><circle cx="231.6" cy="97.3" r=".6"/><circle cx="240.4" cy="98.2" r=".6"/><circle cx="242.5" cy="100.7" r=".6"/><circle cx="236.0" cy="92.5" r=".6"/><circle cx="230.0" cy="97.5" r=".6"/><circle cx="242.8" cy="96.4" r=".6"/><circle cx="242.8" cy="97.7" r=".6"/><circle cx="232.1" cy="99.6" r=".6"/><circle cx="238.6" cy="98.3" r=".6"/><circle cx="242.4" cy="83.8" r=".6"/><circle cx="240.1" cy="97.6" r=".6"/><circle cx="231.9" cy="97.6" r=".6"/><circle cx="239.8" cy="96.5" r=".6"/><circle cx="231.4" cy="99.8" r=".6"/><circle cx="235.6" cy="95.5" r=".6"/><circle cx="232.8" cy="96.0" r=".6"/><circle cx="236.1" cy="98.8" r=".6"/><circle cx="240.6" cy="97.2" r=".6"/><circle cx="233.4" cy="94.0" r=".6"/><circle cx="239.9" cy="98.3" r=".6"/><circle cx="239.4" cy="95.9" r=".6"/><circle cx="233.5" cy="97.7" r=".6"/><circle cx="232.1" cy="94.9" r=".6"/><circle cx="233.2" cy="95.4" r=".6"/><circle cx="235.1" cy="102.0" r=".6"/><circle cx="240.4" cy="96.3" r=".6"/><circle cx="234.3" cy="96.7" r=".6"/><circle cx="236.4" cy="97.7" r=".6"/><circle cx="232.0" cy="99.6" r=".6"/><circle cx="230.6" cy="93.9" r=".6"/><circle cx="231.7" cy="97.0" r=".6"/><circle cx="235.3" cy="96.7" r=".6"/><circle cx="234.1" cy="96.3" r=".6"/><circle cx="236.5" cy="98.4" r=".6"/><circle cx="240.9" cy="95.5" r=".6"/><circle cx="231.1" cy="96.2" r=".6"/><circle cx="240.7" cy="97.8" r=".6"/><circle cx="238.5" cy="92.8" r=".6"/><circle cx="234.8" cy="103.3" r=".6"/><circle cx="242.3" cy="92.7" r=".6"/><circle cx="235.8" cy="97.6" r=".6"/><circle cx="233.7" cy="99.8" r=".6"/><circle cx="240.7" cy="97.0" r=".6"/><circle cx="240.7" cy="96.7" r=".6"/><circle cx="231.5" cy="97.7" r=".6"/><circle cx="243.0" cy="102.3" r=".6"/><circle cx="231.6" cy="94.1" r=".6"/><circle cx="238.7" cy="97.5" r=".6"/><circle cx="231.8" cy="95.4" r=".6"/><circle cx="239.2" cy="98.8" r=".6"/><circle cx="230.9" cy="97.4" r=".6"/><circle cx="240.5" cy="92.1" r=".6"/><circle cx="231.5" cy="97.0" r=".6"/><circle cx="238.6" cy="99.7" r=".6"/><circle cx="231.8" cy="97.4" r=".6"/><circle cx="238.9" cy="99.7" r=".6"/><circle cx="232.4" cy="99.2" r=".6"/><circle cx="237.1" cy="93.0" r=".6"/><circle cx="242.5" cy="100.0" r=".6"/><circle cx="234.5" cy="99.7" r=".6"/><circle cx="234.5" cy="97.0" r=".6"/><circle cx="229.8" cy="95.0" r=".6"/><circle cx="239.9" cy="96.6" r=".6"/><circle cx="237.3" cy="98.4" r=".6"/><circle cx="230.1" cy="97.2" r=".6"/><circle cx="236.7" cy="97.3" r=".6"/><circle cx="231.8" cy="95.8" r=".6"/><circle cx="234.2" cy="98.0" r=".6"/><circle cx="239.6" cy="96.9" r=".6"/><circle cx="235.2" cy="99.3" r=".6"/><circle cx="242.7" cy="101.1" r=".6"/><circle cx="242.3" cy="99.5" r=".6"/><circle cx="230.7" cy="96.6" r=".6"/><circle cx="242.3" cy="97.0" r=".6"/><circle cx="241.4" cy="98.0" r=".6"/><circle cx="238.4" cy="96.8" r=".6"/><circle cx="233.6" cy="100.3" r=".6"/><circle cx="237.1" cy="86.0" r=".6"/><circle cx="230.3" cy="97.4" r=".6"/><circle cx="235.7" cy="97.4" r=".6"/><circle cx="241.9" cy="98.6" r=".6"/><circle cx="237.7" cy="94.9" r=".6"/><circle cx="235.6" cy="98.8" r=".6"/><circle cx="240.8" cy="97.0" r=".6"/><circle cx="237.2" cy="96.9" r=".6"/><circle cx="240.9" cy="95.9" r=".6"/><circle cx="231.7" cy="97.2" r=".6"/><circle cx="241.4" cy="97.0" r=".6"/><circle cx="232.8" cy="97.5" r=".6"/><circle cx="241.4" cy="91.7" r=".6"/><circle cx="236.2" cy="94.1" r=".6"/><circle cx="232.6" cy="98.7" r=".6"/><circle cx="234.3" cy="96.1" r=".6"/><circle cx="236.5" cy="94.0" r=".6"/><circle cx="241.1" cy="95.1" r=".6"/><circle cx="240.9" cy="96.5" r=".6"/></g><g fill="#C77CFF" fill-opacity="0.5"><circle cx="255.5" cy="91.9" r=".6"/><circle cx="252.7" cy="97.3" r=".6"/><circle cx="254.3" cy="96.5" r=".6"/><circle cx="265.4" cy="98.5" r=".6"/><circle cx="259.9" cy="95.9" r=".6"/><circle cx="262.2" cy="95.5" r=".6"/><circle cx="256.8" cy="94.2" r=".6"/><circle cx="261.0" cy="94.5" r=".6"/><circle cx="254.5" cy="118.7" r=".6"/><circle cx="260.2" cy="94.8" r=".6"/><circle cx="257.5" cy="94.9" r=".6"/><circle cx="265.5" cy="97.8" r=".6"/><circle cx="265.9" cy="92.4" r=".6"/><circle cx="265.9" cy="95.0" r=".6"/><circle cx="261.0" cy="95.4" r=".6"/><circle cx="264.9" cy="93.7" r=".6"/><circle cx="252.9" cy="95.4" r=".6"/><circle cx="262.9" cy="96.5" r=".6"/><circle cx="252.7" cy="95.1" r=".6"/><circle cx="260.5" cy="94.7" r=".6"/><circle cx="259.7" cy="96.1" r=".6"/><circle cx="256.5" cy="92.4" r=".6"/><circle cx="259.7" cy="96.1" r=".6"/><circle cx="264.2" cy="92.1" r=".6"/><circle cx="264.7" cy="93.7" r=".6"/><circle cx="257.5" cy="93.1" r=".6"/><circle cx="256.5" cy="95.2" r=".6"/><circle cx="261.3" cy="92.4" r=".6"/><circle cx="253.8" cy="95.9" r=".6"/><circle cx="261.3" cy="94.9" r=".6"/></g><rect x="182.70" y="76.1" width="17.00" height="10.50" fill="none" stroke="#939393" stroke-width="0.6"/><line x1="182.70" x2="199.70" y1="82.2" y2="82.2" stroke="#4a4a4a" stroke-width="0.8"/><rect x="205.37" y="89.5" width="17.00" height="5.60" fill="none" stroke="#939393" stroke-width="0.6"/><line x1="205.37" x2="222.37" y1="92.1" y2="92.1" stroke="#4a4a4a" stroke-width="0.8"/><rect x="228.03" y="95.3" width="17.00" height="4.50" fill="none" stroke="#939393" stroke-width="0.6"/><line x1="228.03" x2="245.03" y1="97.5" y2="97.5" stroke="#4a4a4a" stroke-width="0.8"/><rect x="250.70" y="93.1" width="17.00" height="3.50" fill="none" stroke="#939393" stroke-width="0.6"/><line x1="250.70" x2="267.70" y1="95.0" y2="95.0" stroke="#4a4a4a" stroke-width="0.8"/></g><path d="M213.87 12.30V11.40H259.20V12.30" fill="none" stroke="#9a9a9a" stroke-width="0.7"/><text x="236.53" y="11.50" font-size="4" text-anchor="middle" fill="#444" font-family='"Liberation Sans", sans-serif'>**</text><path d="M213.87 16.40V15.50H236.53V16.40" fill="none" stroke="#9a9a9a" stroke-width="0.7"/><text x="225.20" y="15.60" font-size="4" text-anchor="middle" fill="#444" font-family='"Liberation Sans", sans-serif'>****</text><path d="M191.20 21.30V20.40H259.20V21.30" fill="none" stroke="#9a9a9a" stroke-width="0.7"/><text x="225.20" y="20.50" font-size="4" text-anchor="middle" fill="#444" font-family='"Liberation Sans", sans-serif'>****</text><path d="M191.20 25.30V24.40H236.53V25.30" fill="none" stroke="#9a9a9a" stroke-width="0.7"/><text x="213.87" y="24.50" font-size="4" text-anchor="middle" fill="#444" font-family='"Liberation Sans", sans-serif'>****</text><path d="M191.20 30.20V29.30H213.87V30.20" fill="none" stroke="#9a9a9a" stroke-width="0.7"/><text x="202.53" y="29.40" font-size="4" text-anchor="middle" fill="#444" font-family='"Liberation Sans", sans-serif'>****</text><rect x="177.6" y="5.6" width="95.20" height="119.10" fill="none" stroke="#c8c8c8" stroke-width="1.0"/><line x1="177.6" x2="177.6" y1="5.1" y2="125.2" stroke="#959595" stroke-width="0.85"/><line x1="176.1" x2="177.6" y1="119.70" y2="119.70" stroke="#777" stroke-width="0.6"/><text x="174.40" y="122.20" class="ax" text-anchor="end">0.5</text><line x1="176.1" x2="177.6" y1="93.30" y2="93.30" stroke="#777" stroke-width="0.6"/><text x="174.40" y="95.80" class="ax" text-anchor="end">1.0</text><line x1="176.1" x2="177.6" y1="66.90" y2="66.90" stroke="#777" stroke-width="0.6"/><text x="174.40" y="69.40" class="ax" text-anchor="end">1.5</text><line x1="176.1" x2="177.6" y1="40.50" y2="40.50" stroke="#777" stroke-width="0.6"/><text x="174.40" y="43.00" class="ax" text-anchor="end">2.0</text><line x1="176.1" x2="177.6" y1="14.10" y2="14.10" stroke="#777" stroke-width="0.6"/><text x="174.40" y="16.60" class="ax" text-anchor="end">2.5</text><line x1="191.20" x2="191.20" y1="124.7" y2="126.3" stroke="#888" stroke-width="0.6"/><text transform="translate(194.30,131.60) rotate(-45)" class="ax xl" text-anchor="end">Admission</text><line x1="213.87" x2="213.87" y1="124.7" y2="126.3" stroke="#888" stroke-width="0.6"/><text transform="translate(216.97,131.60) rotate(-45)" class="ax xl" text-anchor="end">Discharge</text><line x1="236.53" x2="236.53" y1="124.7" y2="126.3" stroke="#888" stroke-width="0.6"/><text transform="translate(239.63,131.60) rotate(-45)" class="ax xl" text-anchor="end">First follow-up</text><line x1="259.20" x2="259.20" y1="124.7" y2="126.3" stroke="#888" stroke-width="0.6"/><text transform="translate(262.30,131.60) rotate(-45)" class="ax xl" text-anchor="end">Second follow-up</text><text transform="translate(156.10,65.45) rotate(-90)" class="ax" text-anchor="middle">INR (0.8-1.2)</text><clipPath id="c2"><rect x="316.3" y="5.6" width="95.30000000000001" height="119.10000000000001"/></clipPath><g clip-path="url(#c2)"><line x1="316.3" x2="411.6" y1="92.85" y2="92.85" stroke="#f6f6f6" stroke-width="0.6"/><line x1="316.3" x2="411.6" y1="57.35" y2="57.35" stroke="#f6f6f6" stroke-width="0.6"/><line x1="316.3" x2="411.6" y1="21.85" y2="21.85" stroke="#f6f6f6" stroke-width="0.6"/><line x1="316.3" x2="411.6" y1="110.60" y2="110.60" stroke="#eeeeee" stroke-width="0.7"/><line x1="316.3" x2="411.6" y1="75.10" y2="75.10" stroke="#eeeeee" stroke-width="0.7"/><line x1="316.3" x2="411.6" y1="39.60" y2="39.60" stroke="#eeeeee" stroke-width="0.7"/><line x1="329.91" x2="329.91" y1="5.6" y2="124.7" stroke="#eeeeee" stroke-width="0.7"/><line x1="352.60" x2="352.60" y1="5.6" y2="124.7" stroke="#eeeeee" stroke-width="0.7"/><line x1="375.30" x2="375.30" y1="5.6" y2="124.7" stroke="#eeeeee" stroke-width="0.7"/><line x1="397.99" x2="397.99" y1="5.6" y2="124.7" stroke="#eeeeee" stroke-width="0.7"/><line x1="316.3" x2="411.6" y1="87.88" y2="87.88" stroke="#c2c2c2" stroke-width="0.6"/><line x1="316.3" x2="411.6" y1="106.16" y2="106.16" stroke="#7a7a7a" stroke-width="0.65" stroke-dasharray="1 0.95"/><line x1="329.91" x2="329.91" y1="81" y2="114.3" stroke="#8a8a8a" stroke-width="0.6"/><rect x="321.41" y="94.9" width="17.02" height="9.90" fill="#fdcfcc" stroke="#777" stroke-width="0.6"/><line x1="352.60" x2="352.60" y1="96.8" y2="116.5" stroke="#8a8a8a" stroke-width="0.6"/><rect x="344.10" y="103.8" width="17.02" height="7.60" fill="#d1e3a6" stroke="#777" stroke-width="0.6"/><line x1="375.30" x2="375.30" y1="89.5" y2="113.5" stroke="#8a8a8a" stroke-width="0.6"/><rect x="366.79" y="99.6" width="17.02" height="7.80" fill="#a6e9ea" stroke="#777" stroke-width="0.6"/><line x1="397.99" x2="397.99" y1="90.5" y2="103.5" stroke="#8a8a8a" stroke-width="0.6"/><rect x="389.48" y="93.7" width="17.02" height="5.90" fill="#ebd1ff" stroke="#777" stroke-width="0.6"/><path d="M329.9 110.9L352.6 109.1M352.6 109.1L375.3 106.2M375.3 106.2L398.0 101.2M329.9 93.2L352.6 104.7M352.6 104.7L375.3 97.5M375.3 97.5L398.0 94.3M329.9 78.0L352.6 103.9M352.6 103.9L375.3 102.4M375.3 102.4L398.0 97.8M329.9 86.7L352.6 107.4M352.6 107.4L375.3 99.7M375.3 99.7L398.0 91.3M329.9 102.5L352.6 110.6M352.6 110.6L375.3 105.5M375.3 105.5L398.0 99.3M329.9 94.9L352.6 107.4M352.6 107.4L375.3 104.1M375.3 104.1L398.0 94.7M329.9 104.6L352.6 111.9M352.6 111.9L375.3 118.7M375.3 118.7L398.0 96.9M329.9 101.9L352.6 108.5M352.6 108.5L375.3 104.5M375.3 104.5L398.0 95.8M329.9 111.7L352.6 110.5M352.6 110.5L375.3 104.7M375.3 104.7L398.0 100.9M329.9 100.7L352.6 109.6M352.6 109.6L375.3 105.1M375.3 105.1L398.0 94.9M329.9 105.6L352.6 108.7M352.6 108.7L375.3 109.9M375.3 109.9L398.0 97.4M329.9 111.2L352.6 109.5M352.6 109.5L375.3 111.7M375.3 111.7L398.0 101.3M329.9 104.5L352.6 111.1M352.6 111.1L375.3 103.3M375.3 103.3L398.0 98.4M329.9 112.6L352.6 114.3M352.6 114.3L375.3 108.3M375.3 108.3L398.0 98.7M329.9 96.8L352.6 107.0M352.6 107.0L375.3 100.1M375.3 100.1L398.0 93.3M329.9 83.8L352.6 97.7M352.6 97.7L375.3 92.1M375.3 92.1L398.0 90.9M329.9 95.5L352.6 104.6M352.6 104.6L375.3 100.9M375.3 100.9L398.0 96.2M329.9 90.1L352.6 105.9M352.6 105.9L375.3 94.8M375.3 94.8L398.0 95.0M329.9 113.5L352.6 109.6M352.6 109.6L375.3 107.9M375.3 107.9L398.0 103.3M329.9 91.1L352.6 102.2M352.6 102.2L375.3 95.8M375.3 95.8L398.0 95.0M329.9 107.9L352.6 112.6M352.6 112.6L375.3 106.0M375.3 106.0L398.0 98.2M329.9 98.2L352.6 109.3M352.6 109.3L375.3 105.3M375.3 105.3L398.0 93.8M329.9 81.1L352.6 97.6M352.6 97.6L375.3 98.3M375.3 98.3L398.0 96.0M329.9 105.9L352.6 109.9M352.6 109.9L375.3 103.0M375.3 103.0L398.0 97.8M329.9 110.2L352.6 108.6M352.6 108.6L375.3 105.7M375.3 105.7L398.0 99.6M329.9 93.8L352.6 106.3M352.6 106.3L375.3 100.8M375.3 100.8L398.0 97.8M329.9 111.4L352.6 108.7M352.6 108.7L375.3 107.8M375.3 107.8L398.0 98.2M329.9 102.1L352.6 109.7M352.6 109.7L375.3 107.3M375.3 107.3L398.0 95.7M329.9 104.7L352.6 108.4M352.6 108.4L375.3 108.2M375.3 108.2L398.0 99.4M329.9 110.9L352.6 110.0M352.6 110.0L375.3 103.8M375.3 103.8L398.0 98.8M329.9 39.4L352.6 108.6M352.6 108.6L375.3 98.3M329.9 110.0L352.6 112.9M352.6 112.9L375.3 106.3M329.9 96.8L352.6 108.4M352.6 108.4L375.3 101.5M329.9 109.9L352.6 114.8M352.6 114.8L375.3 107.3M329.9 97.9L352.6 104.4M352.6 104.4L375.3 102.8M329.9 84.6L352.6 100.7M352.6 100.7L375.3 91.4M329.9 95.6L352.6 106.8M352.6 106.8L375.3 100.7M329.9 95.9L352.6 108.3M352.6 108.3L375.3 103.9M329.9 103.2L352.6 109.2M352.6 109.2L375.3 108.6M329.9 102.4L352.6 111.3M352.6 111.3L375.3 101.5M329.9 100.3L352.6 108.1M352.6 108.1L375.3 106.4M329.9 100.3L352.6 89.0M352.6 89.0L375.3 101.4M329.9 85.9L352.6 106.9M352.6 106.9L375.3 94.0M329.9 91.6L352.6 106.2M352.6 106.2L375.3 101.8M329.9 85.9L352.6 105.8M352.6 105.8L375.3 83.8M329.9 96.7L352.6 106.8M352.6 106.8L375.3 102.5M329.9 100.9L352.6 107.2M352.6 107.2L375.3 102.4M329.9 100.3L352.6 105.2M352.6 105.2L375.3 105.4M329.9 104.1L352.6 110.4M352.6 110.4L375.3 109.7M329.9 99.1L352.6 108.3M352.6 108.3L375.3 104.9M329.9 74.4L352.6 108.7M352.6 108.7L375.3 103.1M329.9 98.4L352.6 108.8M352.6 108.8L375.3 103.8M329.9 88.4L352.6 108.1M352.6 108.1L375.3 94.5M329.9 109.2L352.6 113.4M352.6 113.4L375.3 107.1M329.9 81.7L352.6 105.7M352.6 105.7L375.3 102.2M329.9 94.4L352.6 105.6M352.6 105.6L375.3 103.6M329.9 87.1L352.6 103.7M352.6 103.7L375.3 97.8M329.9 110.0L352.6 110.3M352.6 110.3L375.3 111.5M329.9 104.7L352.6 109.5M352.6 109.5L375.3 101.9M329.9 84.8L352.6 106.5M352.6 106.5L375.3 92.7M329.9 86.7L352.6 107.6M352.6 107.6L375.3 102.9M329.9 106.5L352.6 107.1M352.6 107.1L375.3 107.9M329.9 98.5L352.6 106.5M352.6 106.5L375.3 103.4M329.9 102.8L352.6 109.0M352.6 109.0L375.3 102.5M329.9 105.9L352.6 113.7M352.6 113.7L375.3 106.2M329.9 83.5L352.6 99.3M352.6 99.3L375.3 102.4M329.9 95.3L352.6 102.2M352.6 102.2L375.3 98.6M329.9 113.2L352.6 116.1M352.6 116.1L375.3 108.1M329.9 83.9L352.6 98.8M352.6 98.8L375.3 101.0M329.9 83.7L352.6 100.0M352.6 100.0L375.3 100.1M329.9 107.4L352.6 113.2M352.6 113.2L375.3 107.3M329.9 111.1L352.6 111.1M352.6 111.1L375.3 106.2M329.9 82.4L352.6 106.9M352.6 106.9L375.3 102.1M329.9 97.4L352.6 109.4M352.6 109.4L375.3 104.8M329.9 97.7L352.6 105.8M352.6 105.8L375.3 100.8M329.9 102.2L352.6 111.2M352.6 111.2L375.3 108.5M329.9 92.6L352.6 103.4M352.6 103.4L375.3 103.6M329.9 97.9L352.6 110.3M352.6 110.3L375.3 102.9M329.9 90.2L352.6 99.8M352.6 99.8L375.3 100.0M329.9 88.6L352.6 104.7M352.6 104.7L375.3 93.2M329.9 105.5L352.6 113.7M352.6 113.7L375.3 105.8M329.9 81.5L352.6 101.5M352.6 101.5L375.3 95.5M329.9 93.3L352.6 103.9M352.6 103.9L375.3 99.1M329.9 102.7L352.6 110.2M352.6 110.2L375.3 102.1M329.9 104.7L352.6 109.8M352.6 109.8L375.3 107.5M329.9 96.6L352.6 107.0M352.6 107.0L375.3 99.2M329.9 103.3L352.6 111.3M352.6 111.3L375.3 109.1M329.9 113.5L352.6 113.9M352.6 113.9L375.3 105.1M329.9 81.1L352.6 106.3M352.6 106.3L375.3 91.0M329.9 111.0L352.6 109.5M352.6 109.5L375.3 108.0M329.9 110.2L352.6 112.4M352.6 112.4L375.3 103.6M329.9 95.0L352.6 105.0M352.6 105.0L375.3 99.7M329.9 88.4L352.6 104.8M352.6 104.8L375.3 94.8M329.9 90.7L352.6 103.7M352.6 103.7L375.3 100.5M329.9 88.7L352.6 108.2M352.6 108.2L375.3 101.9M329.9 95.3L352.6 92.0M352.6 92.0L375.3 102.4M329.9 110.2L352.6 109.9M352.6 109.9L375.3 110.9M329.9 93.2L352.6 104.2M352.6 104.2L375.3 104.0M329.9 103.5L352.6 107.2M352.6 107.2L375.3 105.4M329.9 95.6L352.6 105.3M352.6 105.3L375.3 102.8M329.9 97.2L352.6 106.7M352.6 106.7L375.3 100.2M329.9 89.1L352.6 106.0M352.6 106.0L375.3 102.4M329.9 97.8L352.6 109.8M352.6 109.8L375.3 100.6M329.9 99.2L352.6 110.2M352.6 110.2L375.3 102.6M329.9 109.7L352.6 110.9M352.6 110.9L375.3 108.9M329.9 98.3L352.6 105.1M329.9 82.5L352.6 103.9M329.9 104.4L352.6 109.8M329.9 94.7L352.6 101.4M329.9 96.1L352.6 103.8M329.9 101.6L352.6 111.6M329.9 96.8L352.6 107.8M329.9 108.6L352.6 112.4M329.9 102.7L352.6 111.3M329.9 101.8L352.6 108.5M329.9 102.7L352.6 110.4M329.9 99.1L352.6 108.7M329.9 110.9L352.6 110.5M329.9 113.2L352.6 109.3M329.9 93.7L352.6 108.7M329.9 97.3L352.6 107.5M329.9 98.0L352.6 107.7M329.9 94.6L352.6 106.2M329.9 92.7L352.6 101.8M329.9 110.4L352.6 114.9" fill="none" stroke="#000" stroke-opacity="0.11" stroke-width="0.4"/><g fill="#F8766D" fill-opacity="0.5"><circle cx="332.6" cy="110.9" r=".6"/><circle cx="323.1" cy="93.2" r=".6"/><circle cx="325.5" cy="78.0" r=".6"/><circle cx="333.0" cy="86.7" r=".6"/><circle cx="324.6" cy="102.5" r=".6"/><circle cx="333.6" cy="94.9" r=".6"/><circle cx="334.2" cy="104.6" r=".6"/><circle cx="325.4" cy="101.9" r=".6"/><circle cx="333.4" cy="111.7" r=".6"/><circle cx="333.3" cy="100.7" r=".6"/><circle cx="335.8" cy="105.6" r=".6"/><circle cx="335.0" cy="111.2" r=".6"/><circle cx="331.7" cy="104.5" r=".6"/><circle cx="330.6" cy="112.6" r=".6"/><circle cx="328.1" cy="96.8" r=".6"/><circle cx="325.0" cy="83.8" r=".6"/><circle cx="334.0" cy="95.5" r=".6"/><circle cx="326.4" cy="90.1" r=".6"/><circle cx="334.7" cy="113.5" r=".6"/><circle cx="335.3" cy="91.1" r=".6"/><circle cx="335.4" cy="107.9" r=".6"/><circle cx="336.3" cy="98.2" r=".6"/><circle cx="326.9" cy="81.1" r=".6"/><circle cx="333.1" cy="105.9" r=".6"/><circle cx="336.2" cy="110.2" r=".6"/><circle cx="323.6" cy="93.8" r=".6"/><circle cx="328.5" cy="111.4" r=".6"/><circle cx="331.9" cy="102.1" r=".6"/><circle cx="327.9" cy="104.7" r=".6"/><circle cx="328.6" cy="110.9" r=".6"/><circle cx="335.7" cy="39.4" r=".6"/><circle cx="331.0" cy="110.0" r=".6"/><circle cx="328.4" cy="96.8" r=".6"/><circle cx="331.6" cy="109.9" r=".6"/><circle cx="336.5" cy="97.9" r=".6"/><circle cx="325.8" cy="84.6" r=".6"/><circle cx="333.1" cy="95.6" r=".6"/><circle cx="332.0" cy="95.9" r=".6"/><circle cx="332.1" cy="103.2" r=".6"/><circle cx="334.9" cy="102.4" r=".6"/><circle cx="333.8" cy="100.3" r=".6"/><circle cx="326.9" cy="100.3" r=".6"/><circle cx="332.2" cy="85.9" r=".6"/><circle cx="332.2" cy="91.6" r=".6"/><circle cx="326.4" cy="85.9" r=".6"/><circle cx="332.4" cy="96.7" r=".6"/><circle cx="329.4" cy="100.9" r=".6"/><circle cx="336.1" cy="100.3" r=".6"/><circle cx="334.6" cy="104.1" r=".6"/><circle cx="325.7" cy="99.1" r=".6"/><circle cx="335.9" cy="74.4" r=".6"/><circle cx="336.5" cy="98.4" r=".6"/><circle cx="328.8" cy="88.4" r=".6"/><circle cx="330.0" cy="109.2" r=".6"/><circle cx="334.5" cy="81.7" r=".6"/><circle cx="325.5" cy="94.4" r=".6"/><circle cx="331.7" cy="87.1" r=".6"/><circle cx="327.3" cy="110.0" r=".6"/><circle cx="324.4" cy="104.7" r=".6"/><circle cx="326.8" cy="84.8" r=".6"/><circle cx="325.2" cy="86.7" r=".6"/><circle cx="331.3" cy="106.5" r=".6"/><circle cx="334.7" cy="98.5" r=".6"/><circle cx="336.6" cy="102.8" r=".6"/><circle cx="332.8" cy="105.9" r=".6"/><circle cx="336.3" cy="83.5" r=".6"/><circle cx="335.8" cy="95.3" r=".6"/><circle cx="336.2" cy="113.2" r=".6"/><circle cx="334.5" cy="83.9" r=".6"/><circle cx="330.2" cy="83.7" r=".6"/><circle cx="332.9" cy="107.4" r=".6"/><circle cx="330.9" cy="111.1" r=".6"/><circle cx="331.8" cy="82.4" r=".6"/><circle cx="323.3" cy="97.4" r=".6"/><circle cx="326.2" cy="97.7" r=".6"/><circle cx="330.0" cy="102.2" r=".6"/><circle cx="324.1" cy="92.6" r=".6"/><circle cx="335.0" cy="97.9" r=".6"/><circle cx="327.5" cy="90.2" r=".6"/><circle cx="324.8" cy="88.6" r=".6"/><circle cx="332.4" cy="105.5" r=".6"/><circle cx="333.4" cy="81.5" r=".6"/><circle cx="323.4" cy="93.3" r=".6"/><circle cx="326.3" cy="102.7" r=".6"/><circle cx="331.3" cy="104.7" r=".6"/><circle cx="330.4" cy="96.6" r=".6"/><circle cx="334.4" cy="103.3" r=".6"/><circle cx="325.4" cy="113.5" r=".6"/><circle cx="325.2" cy="81.1" r=".6"/><circle cx="329.5" cy="111.0" r=".6"/><circle cx="330.5" cy="110.2" r=".6"/><circle cx="330.0" cy="95.0" r=".6"/><circle cx="336.3" cy="88.4" r=".6"/><circle cx="328.5" cy="90.7" r=".6"/><circle cx="335.5" cy="88.7" r=".6"/><circle cx="332.6" cy="95.3" r=".6"/><circle cx="329.2" cy="110.2" r=".6"/><circle cx="323.2" cy="93.2" r=".6"/><circle cx="329.3" cy="103.5" r=".6"/><circle cx="331.6" cy="95.6" r=".6"/><circle cx="331.7" cy="97.2" r=".6"/><circle cx="332.0" cy="89.1" r=".6"/><circle cx="330.2" cy="97.8" r=".6"/><circle cx="326.3" cy="99.2" r=".6"/><circle cx="332.6" cy="109.7" r=".6"/><circle cx="326.9" cy="98.3" r=".6"/><circle cx="332.6" cy="82.5" r=".6"/><circle cx="334.6" cy="104.4" r=".6"/><circle cx="330.2" cy="94.7" r=".6"/><circle cx="327.0" cy="96.1" r=".6"/><circle cx="335.8" cy="101.6" r=".6"/><circle cx="334.2" cy="96.8" r=".6"/><circle cx="331.0" cy="108.6" r=".6"/><circle cx="329.3" cy="102.7" r=".6"/><circle cx="323.8" cy="101.8" r=".6"/><circle cx="331.9" cy="102.7" r=".6"/><circle cx="330.9" cy="99.1" r=".6"/><circle cx="328.8" cy="110.9" r=".6"/><circle cx="327.6" cy="113.2" r=".6"/><circle cx="332.6" cy="93.7" r=".6"/><circle cx="329.0" cy="97.3" r=".6"/><circle cx="332.5" cy="98.0" r=".6"/><circle cx="324.6" cy="94.6" r=".6"/><circle cx="332.1" cy="92.7" r=".6"/><circle cx="333.5" cy="110.4" r=".6"/><circle cx="333.8" cy="109.8" r=".6"/><circle cx="330.2" cy="108.9" r=".6"/><circle cx="325.0" cy="94.7" r=".6"/><circle cx="330.7" cy="98.0" r=".6"/><circle cx="332.5" cy="109.5" r=".6"/><circle cx="332.9" cy="99.5" r=".6"/><circle cx="325.9" cy="98.9" r=".6"/><circle cx="332.0" cy="91.7" r=".6"/><circle cx="333.1" cy="92.6" r=".6"/><circle cx="334.4" cy="105.0" r=".6"/><circle cx="330.7" cy="102.6" r=".6"/><circle cx="331.8" cy="112.9" r=".6"/><circle cx="327.0" cy="90.8" r=".6"/><circle cx="332.3" cy="101.7" r=".6"/><circle cx="327.9" cy="98.4" r=".6"/></g><g fill="#7CAE00" fill-opacity="0.5"><circle cx="354.4" cy="109.1" r=".6"/><circle cx="355.7" cy="104.7" r=".6"/><circle cx="347.5" cy="103.9" r=".6"/><circle cx="353.7" cy="107.4" r=".6"/><circle cx="357.5" cy="110.6" r=".6"/><circle cx="358.8" cy="107.4" r=".6"/><circle cx="351.1" cy="111.9" r=".6"/><circle cx="356.1" cy="108.5" r=".6"/><circle cx="359.3" cy="110.5" r=".6"/><circle cx="357.6" cy="109.6" r=".6"/><circle cx="358.1" cy="108.7" r=".6"/><circle cx="356.3" cy="109.5" r=".6"/><circle cx="346.7" cy="111.1" r=".6"/><circle cx="354.8" cy="114.3" r=".6"/><circle cx="349.6" cy="107.0" r=".6"/><circle cx="346.4" cy="97.7" r=".6"/><circle cx="350.9" cy="104.6" r=".6"/><circle cx="348.5" cy="105.9" r=".6"/><circle cx="346.4" cy="109.6" r=".6"/><circle cx="357.9" cy="102.2" r=".6"/><circle cx="356.9" cy="112.6" r=".6"/><circle cx="358.4" cy="109.3" r=".6"/><circle cx="358.8" cy="97.6" r=".6"/><circle cx="351.2" cy="109.9" r=".6"/><circle cx="359.0" cy="108.6" r=".6"/><circle cx="353.1" cy="106.3" r=".6"/><circle cx="349.2" cy="108.7" r=".6"/><circle cx="354.0" cy="109.7" r=".6"/><circle cx="350.1" cy="108.4" r=".6"/><circle cx="358.1" cy="110.0" r=".6"/><circle cx="350.0" cy="108.6" r=".6"/><circle cx="354.2" cy="112.9" r=".6"/><circle cx="349.7" cy="108.4" r=".6"/><circle cx="346.0" cy="114.8" r=".6"/><circle cx="350.5" cy="104.4" r=".6"/><circle cx="358.8" cy="100.7" r=".6"/><circle cx="354.3" cy="106.8" r=".6"/><circle cx="355.2" cy="108.3" r=".6"/><circle cx="353.0" cy="109.2" r=".6"/><circle cx="349.7" cy="111.3" r=".6"/><circle cx="354.2" cy="108.1" r=".6"/><circle cx="351.7" cy="89.0" r=".6"/><circle cx="352.4" cy="106.9" r=".6"/><circle cx="354.1" cy="106.2" r=".6"/><circle cx="353.0" cy="105.8" r=".6"/><circle cx="353.1" cy="106.8" r=".6"/><circle cx="352.0" cy="107.2" r=".6"/><circle cx="353.2" cy="105.2" r=".6"/><circle cx="356.4" cy="110.4" r=".6"/><circle cx="352.9" cy="108.3" r=".6"/><circle cx="350.7" cy="108.7" r=".6"/><circle cx="350.3" cy="108.8" r=".6"/><circle cx="358.7" cy="108.1" r=".6"/><circle cx="350.7" cy="113.4" r=".6"/><circle cx="352.1" cy="105.7" r=".6"/><circle cx="351.3" cy="105.6" r=".6"/><circle cx="352.9" cy="103.7" r=".6"/><circle cx="351.1" cy="110.3" r=".6"/><circle cx="349.8" cy="109.5" r=".6"/><circle cx="353.8" cy="106.5" r=".6"/><circle cx="352.7" cy="107.6" r=".6"/><circle cx="358.3" cy="107.1" r=".6"/><circle cx="356.1" cy="106.5" r=".6"/><circle cx="346.7" cy="109.0" r=".6"/><circle cx="358.1" cy="113.7" r=".6"/><circle cx="350.9" cy="99.3" r=".6"/><circle cx="347.5" cy="102.2" r=".6"/><circle cx="346.7" cy="116.1" r=".6"/><circle cx="350.8" cy="98.8" r=".6"/><circle cx="357.8" cy="100.0" r=".6"/><circle cx="351.9" cy="113.2" r=".6"/><circle cx="359.0" cy="111.1" r=".6"/><circle cx="351.9" cy="106.9" r=".6"/><circle cx="349.6" cy="109.4" r=".6"/><circle cx="353.1" cy="105.8" r=".6"/><circle cx="350.8" cy="111.2" r=".6"/><circle cx="350.4" cy="103.4" r=".6"/><circle cx="356.5" cy="110.3" r=".6"/><circle cx="346.6" cy="99.8" r=".6"/><circle cx="357.3" cy="104.7" r=".6"/><circle cx="350.2" cy="113.7" r=".6"/><circle cx="357.8" cy="101.5" r=".6"/><circle cx="349.1" cy="103.9" r=".6"/><circle cx="356.0" cy="110.2" r=".6"/><circle cx="355.9" cy="109.8" r=".6"/><circle cx="354.0" cy="107.0" r=".6"/><circle cx="353.1" cy="111.3" r=".6"/><circle cx="355.2" cy="113.9" r=".6"/><circle cx="356.7" cy="106.3" r=".6"/><circle cx="348.8" cy="109.5" r=".6"/><circle cx="352.1" cy="112.4" r=".6"/><circle cx="346.6" cy="105.0" r=".6"/><circle cx="354.6" cy="104.8" r=".6"/><circle cx="356.8" cy="103.7" r=".6"/><circle cx="354.9" cy="108.2" r=".6"/><circle cx="354.6" cy="92.0" r=".6"/><circle cx="352.0" cy="109.9" r=".6"/><circle cx="350.3" cy="104.2" r=".6"/><circle cx="351.7" cy="107.2" r=".6"/><circle cx="353.2" cy="105.3" r=".6"/><circle cx="348.2" cy="106.7" r=".6"/><circle cx="359.0" cy="106.0" r=".6"/><circle cx="356.4" cy="109.8" r=".6"/><circle cx="348.3" cy="110.2" r=".6"/><circle cx="356.4" cy="110.9" r=".6"/><circle cx="347.1" cy="105.1" r=".6"/><circle cx="349.2" cy="103.9" r=".6"/><circle cx="347.8" cy="109.8" r=".6"/><circle cx="350.5" cy="101.4" r=".6"/><circle cx="346.4" cy="103.8" r=".6"/><circle cx="354.5" cy="111.6" r=".6"/><circle cx="352.1" cy="107.8" r=".6"/><circle cx="354.2" cy="112.4" r=".6"/><circle cx="346.1" cy="111.3" r=".6"/><circle cx="356.8" cy="108.5" r=".6"/><circle cx="358.1" cy="110.4" r=".6"/><circle cx="349.4" cy="108.7" r=".6"/><circle cx="358.0" cy="110.5" r=".6"/><circle cx="348.6" cy="109.3" r=".6"/><circle cx="346.7" cy="108.7" r=".6"/><circle cx="347.1" cy="107.5" r=".6"/><circle cx="348.6" cy="107.7" r=".6"/><circle cx="348.5" cy="106.2" r=".6"/><circle cx="357.4" cy="101.8" r=".6"/><circle cx="351.9" cy="114.9" r=".6"/></g><g fill="#00BFC4" fill-opacity="0.5"><circle cx="376.3" cy="106.2" r=".6"/><circle cx="378.7" cy="97.5" r=".6"/><circle cx="372.6" cy="102.4" r=".6"/><circle cx="373.5" cy="99.7" r=".6"/><circle cx="374.5" cy="105.5" r=".6"/><circle cx="378.2" cy="104.1" r=".6"/><circle cx="378.6" cy="118.7" r=".6"/><circle cx="368.9" cy="104.5" r=".6"/><circle cx="376.9" cy="104.7" r=".6"/><circle cx="372.8" cy="105.1" r=".6"/><circle cx="369.3" cy="109.9" r=".6"/><circle cx="368.7" cy="111.7" r=".6"/><circle cx="381.8" cy="103.3" r=".6"/><circle cx="374.0" cy="108.3" r=".6"/><circle cx="371.1" cy="100.1" r=".6"/><circle cx="379.1" cy="92.1" r=".6"/><circle cx="379.0" cy="100.9" r=".6"/><circle cx="370.3" cy="94.8" r=".6"/><circle cx="376.1" cy="107.9" r=".6"/><circle cx="379.7" cy="95.8" r=".6"/><circle cx="377.7" cy="106.0" r=".6"/><circle cx="379.6" cy="105.3" r=".6"/><circle cx="377.0" cy="98.3" r=".6"/><circle cx="373.3" cy="103.0" r=".6"/><circle cx="381.1" cy="105.7" r=".6"/><circle cx="373.4" cy="100.8" r=".6"/><circle cx="370.4" cy="107.8" r=".6"/><circle cx="381.0" cy="107.3" r=".6"/><circle cx="375.1" cy="108.2" r=".6"/><circle cx="381.0" cy="103.8" r=".6"/><circle cx="370.5" cy="98.3" r=".6"/><circle cx="381.9" cy="106.3" r=".6"/><circle cx="379.7" cy="101.5" r=".6"/><circle cx="370.3" cy="107.3" r=".6"/><circle cx="371.7" cy="102.8" r=".6"/><circle cx="372.0" cy="91.4" r=".6"/><circle cx="374.4" cy="100.7" r=".6"/><circle cx="380.2" cy="103.9" r=".6"/><circle cx="380.2" cy="108.6" r=".6"/><circle cx="370.7" cy="101.5" r=".6"/><circle cx="382.0" cy="106.4" r=".6"/><circle cx="378.0" cy="101.4" r=".6"/><circle cx="369.4" cy="94.0" r=".6"/><circle cx="370.7" cy="101.8" r=".6"/><circle cx="374.0" cy="83.8" r=".6"/><circle cx="370.5" cy="102.5" r=".6"/><circle cx="374.1" cy="102.4" r=".6"/><circle cx="374.4" cy="105.4" r=".6"/><circle cx="368.6" cy="109.7" r=".6"/><circle cx="378.1" cy="104.9" r=".6"/><circle cx="374.7" cy="103.1" r=".6"/><circle cx="369.8" cy="103.8" r=".6"/><circle cx="376.0" cy="94.5" r=".6"/><circle cx="381.8" cy="107.1" r=".6"/><circle cx="382.0" cy="102.2" r=".6"/><circle cx="376.7" cy="103.6" r=".6"/><circle cx="370.0" cy="97.8" r=".6"/><circle cx="371.5" cy="111.5" r=".6"/><circle cx="376.3" cy="101.9" r=".6"/><circle cx="376.0" cy="92.7" r=".6"/><circle cx="372.1" cy="102.9" r=".6"/><circle cx="378.6" cy="107.9" r=".6"/><circle cx="374.6" cy="103.4" r=".6"/><circle cx="381.4" cy="102.5" r=".6"/><circle cx="374.0" cy="106.2" r=".6"/><circle cx="368.7" cy="102.4" r=".6"/><circle cx="369.2" cy="98.6" r=".6"/><circle cx="379.1" cy="108.1" r=".6"/><circle cx="368.7" cy="101.0" r=".6"/><circle cx="382.1" cy="100.1" r=".6"/><circle cx="370.5" cy="107.3" r=".6"/><circle cx="380.1" cy="106.2" r=".6"/><circle cx="371.2" cy="102.1" r=".6"/><circle cx="368.8" cy="104.8" r=".6"/><circle cx="376.2" cy="100.8" r=".6"/><circle cx="371.1" cy="108.5" r=".6"/><circle cx="372.7" cy="103.6" r=".6"/><circle cx="369.9" cy="102.9" r=".6"/><circle cx="373.9" cy="100.0" r=".6"/><circle cx="369.0" cy="93.2" r=".6"/><circle cx="372.7" cy="105.8" r=".6"/><circle cx="371.0" cy="95.5" r=".6"/><circle cx="379.4" cy="99.1" r=".6"/><circle cx="372.6" cy="102.1" r=".6"/><circle cx="368.9" cy="107.5" r=".6"/><circle cx="374.5" cy="99.2" r=".6"/><circle cx="373.0" cy="109.1" r=".6"/><circle cx="379.2" cy="105.1" r=".6"/><circle cx="378.9" cy="91.0" r=".6"/><circle cx="378.9" cy="108.0" r=".6"/><circle cx="376.3" cy="103.6" r=".6"/><circle cx="376.5" cy="99.7" r=".6"/><circle cx="378.3" cy="94.8" r=".6"/><circle cx="373.7" cy="100.5" r=".6"/><circle cx="381.4" cy="101.9" r=".6"/><circle cx="372.0" cy="102.4" r=".6"/><circle cx="377.7" cy="110.9" r=".6"/><circle cx="373.0" cy="104.0" r=".6"/><circle cx="379.7" cy="105.4" r=".6"/><circle cx="373.3" cy="102.8" r=".6"/><circle cx="378.4" cy="100.2" r=".6"/><circle cx="369.2" cy="102.4" r=".6"/><circle cx="374.0" cy="100.6" r=".6"/><circle cx="371.2" cy="102.6" r=".6"/><circle cx="375.1" cy="108.9" r=".6"/></g><g fill="#C77CFF" fill-opacity="0.5"><circle cx="404.5" cy="101.2" r=".6"/><circle cx="404.6" cy="94.3" r=".6"/><circle cx="400.9" cy="97.8" r=".6"/><circle cx="395.8" cy="91.3" r=".6"/><circle cx="391.6" cy="99.3" r=".6"/><circle cx="395.4" cy="94.7" r=".6"/><circle cx="400.9" cy="96.9" r=".6"/><circle cx="404.7" cy="95.8" r=".6"/><circle cx="396.8" cy="100.9" r=".6"/><circle cx="394.4" cy="94.9" r=".6"/><circle cx="393.6" cy="97.4" r=".6"/><circle cx="393.4" cy="101.3" r=".6"/><circle cx="393.1" cy="98.4" r=".6"/><circle cx="396.1" cy="98.7" r=".6"/><circle cx="393.1" cy="93.3" r=".6"/><circle cx="403.5" cy="90.9" r=".6"/><circle cx="392.2" cy="96.2" r=".6"/><circle cx="395.1" cy="95.0" r=".6"/><circle cx="398.5" cy="103.3" r=".6"/><circle cx="401.6" cy="95.0" r=".6"/><circle cx="399.2" cy="98.2" r=".6"/><circle cx="398.8" cy="93.8" r=".6"/><circle cx="397.1" cy="96.0" r=".6"/><circle cx="397.4" cy="97.8" r=".6"/><circle cx="394.6" cy="99.6" r=".6"/><circle cx="391.5" cy="97.8" r=".6"/><circle cx="396.7" cy="98.2" r=".6"/><circle cx="392.2" cy="95.7" r=".6"/><circle cx="404.7" cy="99.4" r=".6"/><circle cx="391.6" cy="98.8" r=".6"/></g><rect x="321.41" y="94.9" width="17.02" height="9.90" fill="none" stroke="#939393" stroke-width="0.6"/><line x1="321.41" x2="338.42" y1="99.2" y2="99.2" stroke="#4a4a4a" stroke-width="0.8"/><rect x="344.10" y="103.8" width="17.02" height="7.60" fill="none" stroke="#939393" stroke-width="0.6"/><line x1="344.10" x2="361.11" y1="108.2" y2="108.2" stroke="#4a4a4a" stroke-width="0.8"/><rect x="366.79" y="99.6" width="17.02" height="7.80" fill="none" stroke="#939393" stroke-width="0.6"/><line x1="366.79" x2="383.80" y1="103.2" y2="103.2" stroke="#4a4a4a" stroke-width="0.8"/><rect x="389.48" y="93.7" width="17.02" height="5.90" fill="none" stroke="#939393" stroke-width="0.6"/><line x1="389.48" x2="406.49" y1="97.2" y2="97.2" stroke="#4a4a4a" stroke-width="0.8"/></g><path d="M375.30 12.20V11.30H397.99V12.20" fill="none" stroke="#9a9a9a" stroke-width="0.7"/><text x="386.64" y="11.40" font-size="4" text-anchor="middle" fill="#444" font-family='"Liberation Sans", sans-serif'>***</text><path d="M352.60 16.40V15.50H397.99V16.40" fill="none" stroke="#9a9a9a" stroke-width="0.7"/><text x="375.30" y="15.60" font-size="4" text-anchor="middle" fill="#444" font-family='"Liberation Sans", sans-serif'>****</text><path d="M352.60 21.20V20.30H375.30V21.20" fill="none" stroke="#9a9a9a" stroke-width="0.7"/><text x="363.95" y="20.40" font-size="4" text-anchor="middle" fill="#444" font-family='"Liberation Sans", sans-serif'>****</text><path d="M329.91 25.60V24.70H375.30V25.60" fill="none" stroke="#9a9a9a" stroke-width="0.7"/><text x="352.60" y="24.80" font-size="4" text-anchor="middle" fill="#444" font-family='"Liberation Sans", sans-serif'>****</text><path d="M329.91 30.50V29.60H352.60V30.50" fill="none" stroke="#9a9a9a" stroke-width="0.7"/><text x="341.26" y="29.70" font-size="4" text-anchor="middle" fill="#444" font-family='"Liberation Sans", sans-serif'>****</text><rect x="316.3" y="5.6" width="95.30" height="119.10" fill="none" stroke="#c8c8c8" stroke-width="1.0"/><line x1="316.3" x2="316.3" y1="5.1" y2="125.2" stroke="#959595" stroke-width="0.85"/><line x1="314.8" x2="316.3" y1="110.60" y2="110.60" stroke="#777" stroke-width="0.6"/><text x="313.10" y="113.10" class="ax" text-anchor="end">20</text><line x1="314.8" x2="316.3" y1="75.10" y2="75.10" stroke="#777" stroke-width="0.6"/><text x="313.10" y="77.60" class="ax" text-anchor="end">40</text><line x1="314.8" x2="316.3" y1="39.60" y2="39.60" stroke="#777" stroke-width="0.6"/><text x="313.10" y="42.10" class="ax" text-anchor="end">60</text><line x1="329.91" x2="329.91" y1="124.7" y2="126.3" stroke="#888" stroke-width="0.6"/><text transform="translate(333.01,131.60) rotate(-45)" class="ax xl" text-anchor="end">Admission</text><line x1="352.60" x2="352.60" y1="124.7" y2="126.3" stroke="#888" stroke-width="0.6"/><text transform="translate(355.70,131.60) rotate(-45)" class="ax xl" text-anchor="end">Discharge</text><line x1="375.30" x2="375.30" y1="124.7" y2="126.3" stroke="#888" stroke-width="0.6"/><text transform="translate(378.40,131.60) rotate(-45)" class="ax xl" text-anchor="end">First follow-up</text><line x1="397.99" x2="397.99" y1="124.7" y2="126.3" stroke="#888" stroke-width="0.6"/><text transform="translate(401.09,131.60) rotate(-45)" class="ax xl" text-anchor="end">Second follow-up</text><text transform="translate(298.10,65.45) rotate(-90)" class="ax" text-anchor="middle">PTT (22.5-32 s)</text><clipPath id="c3"><rect x="452.6" y="5.6" width="95.39999999999998" height="119.10000000000001"/></clipPath><g clip-path="url(#c3)"><line x1="452.6" x2="548.0" y1="113.30" y2="113.30" stroke="#f6f6f6" stroke-width="0.6"/><line x1="452.6" x2="548.0" y1="80.30" y2="80.30" stroke="#f6f6f6" stroke-width="0.6"/><line x1="452.6" x2="548.0" y1="47.30" y2="47.30" stroke="#f6f6f6" stroke-width="0.6"/><line x1="452.6" x2="548.0" y1="14.30" y2="14.30" stroke="#f6f6f6" stroke-width="0.6"/><line x1="452.6" x2="548.0" y1="96.80" y2="96.80" stroke="#eeeeee" stroke-width="0.7"/><line x1="452.6" x2="548.0" y1="63.80" y2="63.80" stroke="#eeeeee" stroke-width="0.7"/><line x1="452.6" x2="548.0" y1="30.80" y2="30.80" stroke="#eeeeee" stroke-width="0.7"/><line x1="466.23" x2="466.23" y1="5.6" y2="124.7" stroke="#eeeeee" stroke-width="0.7"/><line x1="488.94" x2="488.94" y1="5.6" y2="124.7" stroke="#eeeeee" stroke-width="0.7"/><line x1="511.66" x2="511.66" y1="5.6" y2="124.7" stroke="#eeeeee" stroke-width="0.7"/><line x1="534.37" x2="534.37" y1="5.6" y2="124.7" stroke="#eeeeee" stroke-width="0.7"/><line x1="452.6" x2="548.0" y1="91.30" y2="91.30" stroke="#c2c2c2" stroke-width="0.6"/><line x1="452.6" x2="548.0" y1="109.23" y2="109.23" stroke="#7a7a7a" stroke-width="0.65" stroke-dasharray="1 0.95"/><line x1="466.23" x2="466.23" y1="30.8" y2="119.3" stroke="#8a8a8a" stroke-width="0.6"/><rect x="457.71" y="56.5" width="17.04" height="28.60" fill="#fdcfcc" stroke="#777" stroke-width="0.6"/><line x1="488.94" x2="488.94" y1="72" y2="117.7" stroke="#8a8a8a" stroke-width="0.6"/><rect x="480.43" y="89.5" width="17.04" height="18.10" fill="#d1e3a6" stroke="#777" stroke-width="0.6"/><line x1="511.66" x2="511.66" y1="72" y2="115" stroke="#8a8a8a" stroke-width="0.6"/><rect x="503.14" y="89.3" width="17.04" height="13.90" fill="#a6e9ea" stroke="#777" stroke-width="0.6"/><line x1="534.37" x2="534.37" y1="90.7" y2="110" stroke="#8a8a8a" stroke-width="0.6"/><rect x="525.85" y="97.2" width="17.04" height="8.40" fill="#ebd1ff" stroke="#777" stroke-width="0.6"/><path d="M466.2 115.0L488.9 102.4M488.9 102.4L511.7 110.0M511.7 110.0L534.4 76.0M466.2 36.3L488.9 94.8M488.9 94.8L511.7 89.1M511.7 89.1L534.4 98.2M466.2 79.5L488.9 97.4M488.9 97.4L511.7 93.5M511.7 93.5L534.4 104.4M466.2 72.9L488.9 96.2M488.9 96.2L511.7 94.4M511.7 94.4L534.4 80.0M466.2 80.2L488.9 102.8M488.9 102.8L511.7 92.6M511.7 92.6L534.4 100.5M466.2 62.5L488.9 101.3M488.9 101.3L511.7 86.3M511.7 86.3L534.4 102.5M466.2 82.0L488.9 107.4M488.9 107.4L511.7 97.6M511.7 97.6L534.4 101.3M466.2 60.3L488.9 88.9M488.9 88.9L511.7 90.6M511.7 90.6L534.4 98.6M466.2 85.0L488.9 97.9M488.9 97.9L511.7 93.9M511.7 93.9L534.4 102.6M466.2 31.1L488.9 75.8M488.9 75.8L511.7 75.9M511.7 75.9L534.4 93.6M466.2 50.1L488.9 89.0M488.9 89.0L511.7 96.1M511.7 96.1L534.4 95.3M466.2 81.5L488.9 101.6M488.9 101.6L511.7 93.5M511.7 93.5L534.4 103.3M466.2 84.4L488.9 103.8M488.9 103.8L511.7 95.0M511.7 95.0L534.4 101.7M466.2 31.4L488.9 75.1M488.9 75.1L511.7 78.3M511.7 78.3L534.4 96.8M466.2 94.3L488.9 100.3M488.9 100.3L511.7 109.4M511.7 109.4L534.4 101.7M466.2 65.3L488.9 102.3M488.9 102.3L511.7 98.3M511.7 98.3L534.4 98.7M466.2 109.4L488.9 108.3M488.9 108.3L511.7 110.9M511.7 110.9L534.4 108.2M466.2 85.1L488.9 102.9M488.9 102.9L511.7 107.9M511.7 107.9L534.4 101.8M466.2 66.0L488.9 102.2M488.9 102.2L511.7 91.6M511.7 91.6L534.4 103.9M466.2 85.0L488.9 104.6M488.9 104.6L511.7 95.5M511.7 95.5L534.4 103.0M466.2 113.9L488.9 102.4M488.9 102.4L511.7 110.7M511.7 110.7L534.4 108.2M466.2 70.2L488.9 105.1M488.9 105.1L511.7 96.1M511.7 96.1L534.4 103.4M466.2 78.1L488.9 103.6M488.9 103.6L511.7 98.0M511.7 98.0L534.4 103.5M466.2 77.1L488.9 98.4M488.9 98.4L511.7 97.5M511.7 97.5L534.4 102.2M466.2 83.5L488.9 105.2M488.9 105.2L511.7 105.6M511.7 105.6L534.4 104.0M466.2 76.1L488.9 105.1M488.9 105.1L511.7 98.4M511.7 98.4L534.4 101.6M466.2 76.9L488.9 98.8M488.9 98.8L511.7 99.5M511.7 99.5L534.4 99.5M466.2 98.9L488.9 101.3M488.9 101.3L511.7 103.9M511.7 103.9L534.4 106.4M466.2 82.1L488.9 96.0M488.9 96.0L511.7 96.3M511.7 96.3L534.4 100.0M466.2 31.7L488.9 89.2M488.9 89.2L511.7 78.5M511.7 78.5L534.4 100.9M466.2 50.0L488.9 98.3M488.9 98.3L511.7 93.5M466.2 62.8L488.9 96.6M488.9 96.6L511.7 93.0M466.2 82.7L488.9 105.0M488.9 105.0L511.7 93.7M466.2 115.7L488.9 116.7M488.9 116.7L511.7 101.7M466.2 108.0L488.9 111.2M488.9 111.2L511.7 107.1M466.2 115.7L488.9 110.0M488.9 110.0L511.7 97.5M466.2 45.2L488.9 101.4M488.9 101.4L511.7 77.7M466.2 40.8L488.9 80.2M488.9 80.2L511.7 94.1M466.2 82.7L488.9 107.7M488.9 107.7L511.7 96.0M466.2 59.0L488.9 100.3M488.9 100.3L511.7 84.0M466.2 58.3L488.9 90.8M488.9 90.8L511.7 93.7M466.2 45.5L488.9 60.0M488.9 60.0L511.7 84.3M466.2 39.6L488.9 53.3M488.9 53.3L511.7 95.5M466.2 87.0L488.9 99.1M488.9 99.1L511.7 102.4M466.2 80.7L488.9 102.3M488.9 102.3L511.7 97.5M466.2 78.2L488.9 95.8M488.9 95.8L511.7 97.4M466.2 54.9L488.9 101.7M488.9 101.7L511.7 88.7M466.2 77.6L488.9 101.6M488.9 101.6L511.7 101.3M466.2 44.2L488.9 99.2M488.9 99.2L511.7 84.3M466.2 74.7L488.9 106.5M488.9 106.5L511.7 90.2M466.2 56.6L488.9 102.3M488.9 102.3L511.7 96.4M466.2 37.4L488.9 90.9M488.9 90.9L511.7 44.8M466.2 79.2L488.9 108.3M488.9 108.3L511.7 102.8M466.2 84.4L488.9 109.4M488.9 109.4L511.7 100.9M466.2 80.2L488.9 98.5M488.9 98.5L511.7 50.0M466.2 63.1L488.9 101.7M488.9 101.7L511.7 92.1M466.2 81.9L488.9 108.8M488.9 108.8L511.7 95.9M466.2 109.9L488.9 103.6M488.9 103.6L511.7 106.3M466.2 103.8L488.9 105.6M488.9 105.6L511.7 100.0M466.2 32.0L488.9 94.6M488.9 94.6L511.7 93.8M466.2 38.5L488.9 95.1M488.9 95.1L511.7 86.6M466.2 71.2L488.9 89.3M488.9 89.3L511.7 94.0M466.2 50.2L488.9 99.8M488.9 99.8L511.7 85.6M466.2 77.0L488.9 96.1M488.9 96.1L511.7 94.8M466.2 100.4L488.9 107.4M488.9 107.4L511.7 100.3M466.2 93.5L488.9 107.6M488.9 107.6L511.7 103.9M466.2 77.8L488.9 94.3M488.9 94.3L511.7 91.3M466.2 65.1L488.9 93.9M488.9 93.9L511.7 87.6M466.2 45.0L488.9 90.3M488.9 90.3L511.7 96.5M466.2 81.8L488.9 106.0M488.9 106.0L511.7 97.2M466.2 79.9L488.9 106.9M488.9 106.9L511.7 95.8M466.2 79.1L488.9 102.6M488.9 102.6L511.7 92.7M466.2 49.9L488.9 100.9M488.9 100.9L511.7 91.3M466.2 61.6L488.9 102.0M488.9 102.0L511.7 95.5M466.2 52.1L488.9 81.5M488.9 81.5L511.7 89.0M466.2 79.1L488.9 99.5M488.9 99.5L511.7 92.4M466.2 107.0L488.9 114.4M488.9 114.4L511.7 101.2M466.2 36.9L488.9 76.7M488.9 76.7L511.7 92.9M466.2 81.6L488.9 99.7M488.9 99.7L511.7 99.7M466.2 96.0L488.9 106.1M488.9 106.1L511.7 100.1M466.2 83.8L488.9 101.5M488.9 101.5L511.7 98.5M466.2 77.8L488.9 104.4M488.9 104.4L511.7 91.0M466.2 111.1L488.9 110.6M488.9 110.6L511.7 105.3M466.2 77.7L488.9 104.5M488.9 104.5L511.7 91.7M466.2 84.2L488.9 100.5M488.9 100.5L511.7 98.9M466.2 58.0L488.9 87.0M488.9 87.0L511.7 93.5M466.2 114.2L488.9 109.3M488.9 109.3L511.7 113.7M466.2 117.8L488.9 116.1M488.9 116.1L511.7 112.2M466.2 43.0L488.9 84.3M488.9 84.3L511.7 93.5M466.2 108.4L488.9 115.4M488.9 115.4L511.7 103.8M466.2 78.1L488.9 94.0M488.9 94.0L511.7 98.4M466.2 71.5L488.9 97.6M488.9 97.6L511.7 98.9M466.2 85.9L488.9 108.4M488.9 108.4L511.7 102.0M466.2 66.7L488.9 99.7M488.9 99.7L511.7 89.8M466.2 67.6L488.9 102.9M488.9 102.9L511.7 96.6M466.2 41.3L488.9 101.1M488.9 101.1L511.7 91.5M466.2 77.5L488.9 105.5M488.9 105.5L511.7 93.3M466.2 36.1L488.9 93.8M488.9 93.8L511.7 90.9M466.2 84.8L488.9 102.3M488.9 102.3L511.7 108.2M466.2 77.6L488.9 106.4M488.9 106.4L511.7 94.2M466.2 69.2L488.9 97.7M488.9 97.7L511.7 92.5M466.2 99.0L488.9 101.3M488.9 101.3L511.7 96.9M466.2 84.6L488.9 103.7M488.9 103.7L511.7 99.4M466.2 39.9L488.9 87.2M488.9 87.2L511.7 90.1M466.2 93.3L488.9 108.1M488.9 108.1L511.7 100.8M466.2 119.1L488.9 111.2M466.2 81.8L488.9 101.6M466.2 63.8L488.9 103.6M466.2 83.6L488.9 99.4M466.2 111.9L488.9 109.8M466.2 105.9L488.9 110.6M466.2 33.6L488.9 90.2M466.2 41.4L488.9 100.0M466.2 67.4L488.9 97.7M466.2 85.5L488.9 101.7M466.2 98.8L488.9 104.6M466.2 64.2L488.9 103.8M466.2 69.5L488.9 102.5M466.2 39.4L488.9 77.5M466.2 83.5L488.9 97.6M466.2 80.2L488.9 103.3M466.2 71.3L488.9 95.4M466.2 68.0L488.9 88.3M466.2 83.0L488.9 98.5M466.2 106.2L488.9 107.3" fill="none" stroke="#000" stroke-opacity="0.11" stroke-width="0.4"/><g fill="#F8766D" fill-opacity="0.5"><circle cx="468.2" cy="115.0" r=".6"/><circle cx="460.3" cy="36.3" r=".6"/><circle cx="471.1" cy="79.5" r=".6"/><circle cx="469.8" cy="72.9" r=".6"/><circle cx="472.7" cy="80.2" r=".6"/><circle cx="462.3" cy="62.5" r=".6"/><circle cx="462.2" cy="82.0" r=".6"/><circle cx="462.8" cy="60.3" r=".6"/><circle cx="468.9" cy="85.0" r=".6"/><circle cx="466.3" cy="31.1" r=".6"/><circle cx="471.0" cy="50.1" r=".6"/><circle cx="467.0" cy="81.5" r=".6"/><circle cx="462.3" cy="84.4" r=".6"/><circle cx="460.7" cy="31.4" r=".6"/><circle cx="468.9" cy="94.3" r=".6"/><circle cx="466.5" cy="65.3" r=".6"/><circle cx="462.4" cy="109.4" r=".6"/><circle cx="461.1" cy="85.1" r=".6"/><circle cx="461.4" cy="66.0" r=".6"/><circle cx="470.6" cy="85.0" r=".6"/><circle cx="460.5" cy="113.9" r=".6"/><circle cx="464.2" cy="70.2" r=".6"/><circle cx="469.2" cy="78.1" r=".6"/><circle cx="461.8" cy="77.1" r=".6"/><circle cx="463.7" cy="83.5" r=".6"/><circle cx="471.7" cy="76.1" r=".6"/><circle cx="469.9" cy="76.9" r=".6"/><circle cx="471.2" cy="98.9" r=".6"/><circle cx="465.5" cy="82.1" r=".6"/><circle cx="468.6" cy="31.7" r=".6"/><circle cx="466.5" cy="50.0" r=".6"/><circle cx="463.1" cy="62.8" r=".6"/><circle cx="469.6" cy="82.7" r=".6"/><circle cx="466.6" cy="115.7" r=".6"/><circle cx="463.1" cy="108.0" r=".6"/><circle cx="464.2" cy="115.7" r=".6"/><circle cx="463.5" cy="45.2" r=".6"/><circle cx="465.4" cy="40.8" r=".6"/><circle cx="459.5" cy="82.7" r=".6"/><circle cx="470.8" cy="59.0" r=".6"/><circle cx="460.0" cy="58.3" r=".6"/><circle cx="460.8" cy="45.5" r=".6"/><circle cx="461.0" cy="39.6" r=".6"/><circle cx="470.4" cy="87.0" r=".6"/><circle cx="461.2" cy="80.7" r=".6"/><circle cx="471.9" cy="78.2" r=".6"/><circle cx="461.0" cy="54.9" r=".6"/><circle cx="472.7" cy="77.6" r=".6"/><circle cx="472.5" cy="44.2" r=".6"/><circle cx="470.3" cy="74.7" r=".6"/><circle cx="469.4" cy="56.6" r=".6"/><circle cx="461.0" cy="37.4" r=".6"/><circle cx="464.6" cy="79.2" r=".6"/><circle cx="461.7" cy="84.4" r=".6"/><circle cx="465.7" cy="80.2" r=".6"/><circle cx="462.8" cy="63.1" r=".6"/><circle cx="466.5" cy="81.9" r=".6"/><circle cx="467.1" cy="109.9" r=".6"/><circle cx="462.5" cy="103.8" r=".6"/><circle cx="462.6" cy="32.0" r=".6"/><circle cx="460.7" cy="38.5" r=".6"/><circle cx="467.6" cy="71.2" r=".6"/><circle cx="468.4" cy="50.2" r=".6"/><circle cx="461.2" cy="77.0" r=".6"/><circle cx="468.4" cy="100.4" r=".6"/><circle cx="461.8" cy="93.5" r=".6"/><circle cx="471.6" cy="77.8" r=".6"/><circle cx="461.3" cy="65.1" r=".6"/><circle cx="466.2" cy="45.0" r=".6"/><circle cx="463.7" cy="81.8" r=".6"/><circle cx="464.2" cy="79.9" r=".6"/><circle cx="466.1" cy="79.1" r=".6"/><circle cx="460.6" cy="49.9" r=".6"/><circle cx="465.9" cy="61.6" r=".6"/><circle cx="468.3" cy="52.1" r=".6"/><circle cx="466.3" cy="79.1" r=".6"/><circle cx="471.6" cy="107.0" r=".6"/><circle cx="472.1" cy="36.9" r=".6"/><circle cx="470.6" cy="81.6" r=".6"/><circle cx="460.1" cy="96.0" r=".6"/><circle cx="460.9" cy="83.8" r=".6"/><circle cx="465.4" cy="77.8" r=".6"/><circle cx="463.7" cy="111.1" r=".6"/><circle cx="471.1" cy="77.7" r=".6"/><circle cx="472.8" cy="84.2" r=".6"/><circle cx="471.4" cy="58.0" r=".6"/><circle cx="464.4" cy="114.2" r=".6"/><circle cx="468.6" cy="117.8" r=".6"/><circle cx="460.6" cy="43.0" r=".6"/><circle cx="466.4" cy="108.4" r=".6"/><circle cx="472.2" cy="78.1" r=".6"/><circle cx="466.4" cy="71.5" r=".6"/><circle cx="463.8" cy="85.9" r=".6"/><circle cx="461.9" cy="66.7" r=".6"/><circle cx="473.0" cy="67.6" r=".6"/><circle cx="467.2" cy="41.3" r=".6"/><circle cx="462.4" cy="77.5" r=".6"/><circle cx="462.1" cy="36.1" r=".6"/><circle cx="460.1" cy="84.8" r=".6"/><circle cx="468.4" cy="77.6" r=".6"/><circle cx="461.5" cy="69.2" r=".6"/><circle cx="466.2" cy="99.0" r=".6"/><circle cx="468.4" cy="84.6" r=".6"/><circle cx="471.0" cy="39.9" r=".6"/><circle cx="471.3" cy="93.3" r=".6"/><circle cx="460.0" cy="119.1" r=".6"/><circle cx="467.7" cy="81.8" r=".6"/><circle cx="466.6" cy="63.8" r=".6"/><circle cx="465.2" cy="83.6" r=".6"/><circle cx="461.5" cy="111.9" r=".6"/><circle cx="459.5" cy="105.9" r=".6"/><circle cx="468.1" cy="33.6" r=".6"/><circle cx="466.5" cy="41.4" r=".6"/><circle cx="465.9" cy="67.4" r=".6"/><circle cx="472.4" cy="85.5" r=".6"/><circle cx="463.3" cy="98.8" r=".6"/><circle cx="470.0" cy="64.2" r=".6"/><circle cx="461.2" cy="69.5" r=".6"/><circle cx="460.4" cy="39.4" r=".6"/><circle cx="467.0" cy="83.5" r=".6"/><circle cx="464.2" cy="80.2" r=".6"/><circle cx="463.7" cy="71.3" r=".6"/><circle cx="468.6" cy="68.0" r=".6"/><circle cx="460.0" cy="83.0" r=".6"/><circle cx="472.3" cy="106.2" r=".6"/><circle cx="460.0" cy="104.9" r=".6"/><circle cx="461.8" cy="93.9" r=".6"/><circle cx="466.5" cy="37.1" r=".6"/><circle cx="461.2" cy="91.7" r=".6"/><circle cx="461.0" cy="41.5" r=".6"/><circle cx="466.8" cy="63.1" r=".6"/><circle cx="461.6" cy="79.1" r=".6"/><circle cx="472.0" cy="75.8" r=".6"/><circle cx="459.7" cy="72.6" r=".6"/><circle cx="464.7" cy="83.2" r=".6"/><circle cx="469.6" cy="81.6" r=".6"/><circle cx="468.3" cy="61.3" r=".6"/><circle cx="465.5" cy="64.6" r=".6"/><circle cx="461.2" cy="100.4" r=".6"/><circle cx="460.4" cy="82.1" r=".6"/></g><g fill="#7CAE00" fill-opacity="0.5"><circle cx="493.0" cy="102.4" r=".6"/><circle cx="489.4" cy="94.8" r=".6"/><circle cx="490.5" cy="97.4" r=".6"/><circle cx="482.8" cy="96.2" r=".6"/><circle cx="495.3" cy="102.8" r=".6"/><circle cx="482.5" cy="101.3" r=".6"/><circle cx="494.8" cy="107.4" r=".6"/><circle cx="485.5" cy="88.9" r=".6"/><circle cx="484.7" cy="97.9" r=".6"/><circle cx="485.7" cy="75.8" r=".6"/><circle cx="487.9" cy="89.0" r=".6"/><circle cx="495.5" cy="101.6" r=".6"/><circle cx="483.4" cy="103.8" r=".6"/><circle cx="485.7" cy="75.1" r=".6"/><circle cx="486.7" cy="100.3" r=".6"/><circle cx="493.1" cy="102.3" r=".6"/><circle cx="487.0" cy="108.3" r=".6"/><circle cx="491.4" cy="102.9" r=".6"/><circle cx="492.2" cy="102.2" r=".6"/><circle cx="485.2" cy="104.6" r=".6"/><circle cx="490.0" cy="102.4" r=".6"/><circle cx="483.9" cy="105.1" r=".6"/><circle cx="490.4" cy="103.6" r=".6"/><circle cx="490.3" cy="98.4" r=".6"/><circle cx="489.4" cy="105.2" r=".6"/><circle cx="495.6" cy="105.1" r=".6"/><circle cx="494.4" cy="98.8" r=".6"/><circle cx="488.1" cy="101.3" r=".6"/><circle cx="484.0" cy="96.0" r=".6"/><circle cx="487.7" cy="89.2" r=".6"/><circle cx="482.6" cy="98.3" r=".6"/><circle cx="486.7" cy="96.6" r=".6"/><circle cx="489.4" cy="105.0" r=".6"/><circle cx="484.9" cy="116.7" r=".6"/><circle cx="493.9" cy="111.2" r=".6"/><circle cx="491.6" cy="110.0" r=".6"/><circle cx="485.7" cy="101.4" r=".6"/><circle cx="482.7" cy="80.2" r=".6"/><circle cx="484.8" cy="107.7" r=".6"/><circle cx="491.1" cy="100.3" r=".6"/><circle cx="485.0" cy="90.8" r=".6"/><circle cx="491.1" cy="60.0" r=".6"/><circle cx="485.8" cy="53.3" r=".6"/><circle cx="486.7" cy="99.1" r=".6"/><circle cx="491.7" cy="102.3" r=".6"/><circle cx="493.8" cy="95.8" r=".6"/><circle cx="488.4" cy="101.7" r=".6"/><circle cx="487.8" cy="101.6" r=".6"/><circle cx="490.1" cy="99.2" r=".6"/><circle cx="483.9" cy="106.5" r=".6"/><circle cx="494.2" cy="102.3" r=".6"/><circle cx="482.4" cy="90.9" r=".6"/><circle cx="491.0" cy="108.3" r=".6"/><circle cx="494.1" cy="109.4" r=".6"/><circle cx="493.4" cy="98.5" r=".6"/><circle cx="488.2" cy="101.7" r=".6"/><circle cx="489.2" cy="108.8" r=".6"/><circle cx="490.7" cy="103.6" r=".6"/><circle cx="489.5" cy="105.6" r=".6"/><circle cx="483.1" cy="94.6" r=".6"/><circle cx="494.5" cy="95.1" r=".6"/><circle cx="488.7" cy="89.3" r=".6"/><circle cx="486.2" cy="99.8" r=".6"/><circle cx="491.4" cy="96.1" r=".6"/><circle cx="484.1" cy="107.4" r=".6"/><circle cx="490.1" cy="107.6" r=".6"/><circle cx="490.5" cy="94.3" r=".6"/><circle cx="491.1" cy="93.9" r=".6"/><circle cx="490.5" cy="90.3" r=".6"/><circle cx="491.8" cy="106.0" r=".6"/><circle cx="486.7" cy="106.9" r=".6"/><circle cx="494.6" cy="102.6" r=".6"/><circle cx="493.9" cy="100.9" r=".6"/><circle cx="482.6" cy="102.0" r=".6"/><circle cx="490.4" cy="81.5" r=".6"/><circle cx="486.3" cy="99.5" r=".6"/><circle cx="484.5" cy="114.4" r=".6"/><circle cx="493.8" cy="76.7" r=".6"/><circle cx="487.5" cy="99.7" r=".6"/><circle cx="495.5" cy="106.1" r=".6"/><circle cx="487.8" cy="101.5" r=".6"/><circle cx="494.5" cy="104.4" r=".6"/><circle cx="494.8" cy="110.6" r=".6"/><circle cx="494.2" cy="104.5" r=".6"/><circle cx="494.5" cy="100.5" r=".6"/><circle cx="489.4" cy="87.0" r=".6"/><circle cx="493.7" cy="109.3" r=".6"/><circle cx="490.8" cy="116.1" r=".6"/><circle cx="486.5" cy="84.3" r=".6"/><circle cx="485.2" cy="115.4" r=".6"/><circle cx="490.0" cy="94.0" r=".6"/><circle cx="494.3" cy="97.6" r=".6"/><circle cx="491.4" cy="108.4" r=".6"/><circle cx="486.4" cy="99.7" r=".6"/><circle cx="484.5" cy="102.9" r=".6"/><circle cx="482.8" cy="101.1" r=".6"/><circle cx="489.2" cy="105.5" r=".6"/><circle cx="486.0" cy="93.8" r=".6"/><circle cx="491.5" cy="102.3" r=".6"/><circle cx="495.7" cy="106.4" r=".6"/><circle cx="494.6" cy="97.7" r=".6"/><circle cx="492.9" cy="101.3" r=".6"/><circle cx="484.6" cy="103.7" r=".6"/><circle cx="488.5" cy="87.2" r=".6"/><circle cx="492.1" cy="108.1" r=".6"/><circle cx="489.9" cy="111.2" r=".6"/><circle cx="490.1" cy="101.6" r=".6"/><circle cx="488.4" cy="103.6" r=".6"/><circle cx="484.2" cy="99.4" r=".6"/><circle cx="490.2" cy="109.8" r=".6"/><circle cx="482.7" cy="110.6" r=".6"/><circle cx="482.5" cy="90.2" r=".6"/><circle cx="493.4" cy="100.0" r=".6"/><circle cx="482.7" cy="97.7" r=".6"/><circle cx="494.8" cy="101.7" r=".6"/><circle cx="488.6" cy="104.6" r=".6"/><circle cx="490.7" cy="103.8" r=".6"/><circle cx="490.9" cy="102.5" r=".6"/><circle cx="492.6" cy="77.5" r=".6"/><circle cx="487.8" cy="97.6" r=".6"/><circle cx="482.3" cy="103.3" r=".6"/><circle cx="485.5" cy="95.4" r=".6"/><circle cx="487.6" cy="88.3" r=".6"/><circle cx="494.0" cy="98.5" r=".6"/><circle cx="495.5" cy="107.3" r=".6"/></g><g fill="#00BFC4" fill-opacity="0.5"><circle cx="516.8" cy="110.0" r=".6"/><circle cx="516.5" cy="89.1" r=".6"/><circle cx="515.0" cy="93.5" r=".6"/><circle cx="505.4" cy="94.4" r=".6"/><circle cx="505.3" cy="92.6" r=".6"/><circle cx="507.0" cy="86.3" r=".6"/><circle cx="516.0" cy="97.6" r=".6"/><circle cx="517.9" cy="90.6" r=".6"/><circle cx="505.6" cy="93.9" r=".6"/><circle cx="511.1" cy="75.9" r=".6"/><circle cx="508.1" cy="96.1" r=".6"/><circle cx="514.6" cy="93.5" r=".6"/><circle cx="513.8" cy="95.0" r=".6"/><circle cx="506.1" cy="78.3" r=".6"/><circle cx="507.2" cy="109.4" r=".6"/><circle cx="510.9" cy="98.3" r=".6"/><circle cx="517.9" cy="110.9" r=".6"/><circle cx="515.5" cy="107.9" r=".6"/><circle cx="509.1" cy="91.6" r=".6"/><circle cx="505.4" cy="95.5" r=".6"/><circle cx="514.6" cy="110.7" r=".6"/><circle cx="517.3" cy="96.1" r=".6"/><circle cx="516.7" cy="98.0" r=".6"/><circle cx="508.3" cy="97.5" r=".6"/><circle cx="514.3" cy="105.6" r=".6"/><circle cx="514.7" cy="98.4" r=".6"/><circle cx="506.9" cy="99.5" r=".6"/><circle cx="505.3" cy="103.9" r=".6"/><circle cx="517.4" cy="96.3" r=".6"/><circle cx="515.6" cy="78.5" r=".6"/><circle cx="515.9" cy="93.5" r=".6"/><circle cx="516.4" cy="93.0" r=".6"/><circle cx="508.1" cy="93.7" r=".6"/><circle cx="516.9" cy="101.7" r=".6"/><circle cx="510.5" cy="107.1" r=".6"/><circle cx="506.9" cy="97.5" r=".6"/><circle cx="518.3" cy="77.7" r=".6"/><circle cx="514.3" cy="94.1" r=".6"/><circle cx="515.9" cy="96.0" r=".6"/><circle cx="508.7" cy="84.0" r=".6"/><circle cx="506.3" cy="93.7" r=".6"/><circle cx="512.9" cy="84.3" r=".6"/><circle cx="513.4" cy="95.5" r=".6"/><circle cx="506.8" cy="102.4" r=".6"/><circle cx="514.7" cy="97.5" r=".6"/><circle cx="511.3" cy="97.4" r=".6"/><circle cx="516.6" cy="88.7" r=".6"/><circle cx="508.8" cy="101.3" r=".6"/><circle cx="505.5" cy="84.3" r=".6"/><circle cx="515.7" cy="90.2" r=".6"/><circle cx="512.1" cy="96.4" r=".6"/><circle cx="505.1" cy="44.8" r=".6"/><circle cx="512.0" cy="102.8" r=".6"/><circle cx="505.5" cy="100.9" r=".6"/><circle cx="511.2" cy="50.0" r=".6"/><circle cx="513.1" cy="92.1" r=".6"/><circle cx="510.2" cy="95.9" r=".6"/><circle cx="515.0" cy="106.3" r=".6"/><circle cx="509.6" cy="100.0" r=".6"/><circle cx="505.0" cy="93.8" r=".6"/><circle cx="517.9" cy="86.6" r=".6"/><circle cx="511.1" cy="94.0" r=".6"/><circle cx="515.7" cy="85.6" r=".6"/><circle cx="511.2" cy="94.8" r=".6"/><circle cx="510.9" cy="100.3" r=".6"/><circle cx="512.1" cy="103.9" r=".6"/><circle cx="505.3" cy="91.3" r=".6"/><circle cx="515.7" cy="87.6" r=".6"/><circle cx="508.3" cy="96.5" r=".6"/><circle cx="505.4" cy="97.2" r=".6"/><circle cx="514.0" cy="95.8" r=".6"/><circle cx="513.8" cy="92.7" r=".6"/><circle cx="510.1" cy="91.3" r=".6"/><circle cx="516.8" cy="95.5" r=".6"/><circle cx="506.4" cy="89.0" r=".6"/><circle cx="516.9" cy="92.4" r=".6"/><circle cx="510.4" cy="101.2" r=".6"/><circle cx="506.0" cy="92.9" r=".6"/><circle cx="512.9" cy="99.7" r=".6"/><circle cx="516.6" cy="100.1" r=".6"/><circle cx="514.8" cy="98.5" r=".6"/><circle cx="515.3" cy="91.0" r=".6"/><circle cx="510.8" cy="105.3" r=".6"/><circle cx="517.8" cy="91.7" r=".6"/><circle cx="508.0" cy="98.9" r=".6"/><circle cx="516.4" cy="93.5" r=".6"/><circle cx="515.2" cy="113.7" r=".6"/><circle cx="517.6" cy="112.2" r=".6"/><circle cx="505.6" cy="93.5" r=".6"/><circle cx="512.4" cy="103.8" r=".6"/><circle cx="512.0" cy="98.4" r=".6"/><circle cx="517.7" cy="98.9" r=".6"/><circle cx="508.0" cy="102.0" r=".6"/><circle cx="518.1" cy="89.8" r=".6"/><circle cx="514.7" cy="96.6" r=".6"/><circle cx="505.7" cy="91.5" r=".6"/><circle cx="515.7" cy="93.3" r=".6"/><circle cx="507.2" cy="90.9" r=".6"/><circle cx="516.1" cy="108.2" r=".6"/><circle cx="509.5" cy="94.2" r=".6"/><circle cx="513.7" cy="92.5" r=".6"/><circle cx="511.9" cy="96.9" r=".6"/><circle cx="512.5" cy="99.4" r=".6"/><circle cx="508.4" cy="90.1" r=".6"/><circle cx="511.8" cy="100.8" r=".6"/></g><g fill="#C77CFF" fill-opacity="0.5"><circle cx="530.3" cy="76.0" r=".6"/><circle cx="536.2" cy="98.2" r=".6"/><circle cx="528.4" cy="104.4" r=".6"/><circle cx="534.3" cy="80.0" r=".6"/><circle cx="541.0" cy="100.5" r=".6"/><circle cx="541.1" cy="102.5" r=".6"/><circle cx="533.4" cy="101.3" r=".6"/><circle cx="532.9" cy="98.6" r=".6"/><circle cx="534.0" cy="102.6" r=".6"/><circle cx="528.9" cy="93.6" r=".6"/><circle cx="537.8" cy="95.3" r=".6"/><circle cx="540.9" cy="103.3" r=".6"/><circle cx="532.6" cy="101.7" r=".6"/><circle cx="532.2" cy="96.8" r=".6"/><circle cx="540.9" cy="101.7" r=".6"/><circle cx="533.5" cy="98.7" r=".6"/><circle cx="534.9" cy="108.2" r=".6"/><circle cx="530.3" cy="101.8" r=".6"/><circle cx="539.3" cy="103.9" r=".6"/><circle cx="534.4" cy="103.0" r=".6"/><circle cx="532.7" cy="108.2" r=".6"/><circle cx="539.1" cy="103.4" r=".6"/><circle cx="528.0" cy="103.5" r=".6"/><circle cx="529.9" cy="102.2" r=".6"/><circle cx="539.0" cy="104.0" r=".6"/><circle cx="527.9" cy="101.6" r=".6"/><circle cx="539.6" cy="99.5" r=".6"/><circle cx="533.9" cy="106.4" r=".6"/><circle cx="538.6" cy="100.0" r=".6"/><circle cx="531.0" cy="100.9" r=".6"/></g><rect x="457.71" y="56.5" width="17.04" height="28.60" fill="none" stroke="#939393" stroke-width="0.6"/><line x1="457.71" x2="474.75" y1="76.4" y2="76.4" stroke="#4a4a4a" stroke-width="0.8"/><rect x="480.43" y="89.5" width="17.04" height="18.10" fill="none" stroke="#939393" stroke-width="0.6"/><line x1="480.43" x2="497.46" y1="101.2" y2="101.2" stroke="#4a4a4a" stroke-width="0.8"/><rect x="503.14" y="89.3" width="17.04" height="13.90" fill="none" stroke="#939393" stroke-width="0.6"/><line x1="503.14" x2="520.17" y1="96.2" y2="96.2" stroke="#4a4a4a" stroke-width="0.8"/><rect x="525.85" y="97.2" width="17.04" height="8.40" fill="none" stroke="#939393" stroke-width="0.6"/><line x1="525.85" x2="542.89" y1="102.2" y2="102.2" stroke="#4a4a4a" stroke-width="0.8"/></g><path d="M466.23 12.40V11.50H534.37V12.40" fill="none" stroke="#9a9a9a" stroke-width="0.7"/><text x="500.30" y="11.60" font-size="4" text-anchor="middle" fill="#444" font-family='"Liberation Sans", sans-serif'>****</text><path d="M466.23 17.00V16.10H511.66V17.00" fill="none" stroke="#9a9a9a" stroke-width="0.7"/><text x="488.94" y="16.20" font-size="4" text-anchor="middle" fill="#444" font-family='"Liberation Sans", sans-serif'>****</text><path d="M466.23 21.80V20.90H488.94V21.80" fill="none" stroke="#9a9a9a" stroke-width="0.7"/><text x="477.59" y="21.00" font-size="4" text-anchor="middle" fill="#444" font-family='"Liberation Sans", sans-serif'>****</text><rect x="452.6" y="5.6" width="95.40" height="119.10" fill="none" stroke="#c8c8c8" stroke-width="1.0"/><line x1="452.6" x2="452.6" y1="5.1" y2="125.2" stroke="#959595" stroke-width="0.85"/><line x1="451.1" x2="452.6" y1="96.80" y2="96.80" stroke="#777" stroke-width="0.6"/><text x="449.40" y="99.30" class="ax" text-anchor="end">300</text><line x1="451.1" x2="452.6" y1="63.80" y2="63.80" stroke="#777" stroke-width="0.6"/><text x="449.40" y="66.30" class="ax" text-anchor="end">600</text><line x1="451.1" x2="452.6" y1="30.80" y2="30.80" stroke="#777" stroke-width="0.6"/><text x="449.40" y="33.30" class="ax" text-anchor="end">900</text><line x1="466.23" x2="466.23" y1="124.7" y2="126.3" stroke="#888" stroke-width="0.6"/><text transform="translate(469.33,131.60) rotate(-45)" class="ax xl" text-anchor="end">Admission</text><line x1="488.94" x2="488.94" y1="124.7" y2="126.3" stroke="#888" stroke-width="0.6"/><text transform="translate(492.04,131.60) rotate(-45)" class="ax xl" text-anchor="end">Discharge</text><line x1="511.66" x2="511.66" y1="124.7" y2="126.3" stroke="#888" stroke-width="0.6"/><text transform="translate(514.76,131.60) rotate(-45)" class="ax xl" text-anchor="end">First follow-up</text><line x1="534.37" x2="534.37" y1="124.7" y2="126.3" stroke="#888" stroke-width="0.6"/><text transform="translate(537.47,131.60) rotate(-45)" class="ax xl" text-anchor="end">Second follow-up</text><text transform="translate(430.30,65.45) rotate(-90)" class="ax" text-anchor="middle">Fibrinogen (180-350 mg/dL)</text><clipPath id="c4"><rect x="589.6" y="5.6" width="94.79999999999995" height="119.10000000000001"/></clipPath><g clip-path="url(#c4)"><line x1="589.6" x2="684.4" y1="105.56" y2="105.56" stroke="#f6f6f6" stroke-width="0.6"/><line x1="589.6" x2="684.4" y1="77.69" y2="77.69" stroke="#f6f6f6" stroke-width="0.6"/><line x1="589.6" x2="684.4" y1="49.81" y2="49.81" stroke="#f6f6f6" stroke-width="0.6"/><line x1="589.6" x2="684.4" y1="21.94" y2="21.94" stroke="#f6f6f6" stroke-width="0.6"/><line x1="589.6" x2="684.4" y1="119.50" y2="119.50" stroke="#eeeeee" stroke-width="0.7"/><line x1="589.6" x2="684.4" y1="91.62" y2="91.62" stroke="#eeeeee" stroke-width="0.7"/><line x1="589.6" x2="684.4" y1="63.75" y2="63.75" stroke="#eeeeee" stroke-width="0.7"/><line x1="589.6" x2="684.4" y1="35.88" y2="35.88" stroke="#eeeeee" stroke-width="0.7"/><line x1="589.6" x2="684.4" y1="8.00" y2="8.00" stroke="#eeeeee" stroke-width="0.7"/><line x1="603.14" x2="603.14" y1="5.6" y2="124.7" stroke="#eeeeee" stroke-width="0.7"/><line x1="625.71" x2="625.71" y1="5.6" y2="124.7" stroke="#eeeeee" stroke-width="0.7"/><line x1="648.29" x2="648.29" y1="5.6" y2="124.7" stroke="#eeeeee" stroke-width="0.7"/><line x1="670.86" x2="670.86" y1="5.6" y2="124.7" stroke="#eeeeee" stroke-width="0.7"/><line x1="589.6" x2="684.4" y1="118.94" y2="118.94" stroke="#7a7a7a" stroke-width="0.65" stroke-dasharray="1 0.95"/><line x1="603.14" x2="603.14" y1="103" y2="119.3" stroke="#8a8a8a" stroke-width="0.6"/><rect x="594.68" y="111.5" width="16.93" height="5.80" fill="#fdcfcc" stroke="#777" stroke-width="0.6"/><line x1="625.71" x2="625.71" y1="114.5" y2="119.3" stroke="#8a8a8a" stroke-width="0.6"/><rect x="617.25" y="116.6" width="16.93" height="2.00" fill="#d1e3a6" stroke="#777" stroke-width="0.6"/><line x1="648.29" x2="648.29" y1="116.5" y2="119.3" stroke="#8a8a8a" stroke-width="0.6"/><rect x="639.82" y="117.9" width="16.93" height="1.00" fill="#a6e9ea" stroke="#777" stroke-width="0.6"/><line x1="670.86" x2="670.86" y1="117.6" y2="119.4" stroke="#8a8a8a" stroke-width="0.6"/><rect x="662.39" y="118.5" width="16.93" height="0.70" fill="#ebd1ff" stroke="#777" stroke-width="0.6"/><path d="M603.1 117.3L625.7 118.5M625.7 118.5L648.3 118.5M648.3 118.5L670.9 118.8M603.1 103.3L625.7 115.6M625.7 115.6L648.3 117.8M648.3 117.8L670.9 117.6M603.1 107.1L625.7 115.7M625.7 115.7L648.3 117.5M648.3 117.5L670.9 118.0M603.1 115.6L625.7 117.6M625.7 117.6L648.3 118.1M648.3 118.1L670.9 118.9M603.1 107.1L625.7 115.4M625.7 115.4L648.3 118.4M648.3 118.4L670.9 118.8M603.1 111.3L625.7 115.7M625.7 115.7L648.3 118.1M648.3 118.1L670.9 118.4M603.1 111.7L625.7 117.2M625.7 117.2L648.3 117.8M648.3 117.8L670.9 118.5M603.1 104.1L625.7 115.6M625.7 115.6L648.3 118.4M648.3 118.4L670.9 118.2M603.1 110.0L625.7 116.5M625.7 116.5L648.3 118.3M648.3 118.3L670.9 118.7M603.1 116.0L625.7 117.3M625.7 117.3L648.3 118.5M648.3 118.5L670.9 118.7M603.1 118.4L625.7 118.4M625.7 118.4L648.3 118.6M648.3 118.6L670.9 119.2M603.1 104.9L625.7 116.4M625.7 116.4L648.3 117.8M648.3 117.8L670.9 118.2M603.1 80.2L625.7 117.2M625.7 117.2L648.3 118.5M648.3 118.5L670.9 118.7M603.1 118.5L625.7 118.9M625.7 118.9L648.3 119.2M648.3 119.2L670.9 119.1M603.1 105.8L625.7 115.9M625.7 115.9L648.3 113.5M648.3 113.5L670.9 118.5M603.1 112.0L625.7 117.4M625.7 117.4L648.3 118.3M648.3 118.3L670.9 118.3M603.1 112.7L625.7 117.6M625.7 117.6L648.3 118.5M648.3 118.5L670.9 118.9M603.1 114.7L625.7 118.3M625.7 118.3L648.3 118.5M648.3 118.5L670.9 119.1M603.1 118.1L625.7 118.6M625.7 118.6L648.3 118.6M648.3 118.6L670.9 119.2M603.1 113.3L625.7 117.2M625.7 117.2L648.3 118.7M648.3 118.7L670.9 119.1M603.1 116.1L625.7 117.3M625.7 117.3L648.3 118.8M648.3 118.8L670.9 118.7M603.1 117.0L625.7 117.8M625.7 117.8L648.3 118.9M648.3 118.9L670.9 119.0M603.1 117.9L625.7 118.5M625.7 118.5L648.3 118.6M648.3 118.6L670.9 118.9M603.1 115.1L625.7 118.3M625.7 118.3L648.3 118.1M648.3 118.1L670.9 119.2M603.1 117.1L625.7 117.5M625.7 117.5L648.3 118.6M648.3 118.6L670.9 118.8M603.1 108.3L625.7 117.1M625.7 117.1L648.3 117.3M648.3 117.3L670.9 118.7M603.1 116.4L625.7 117.7M625.7 117.7L648.3 118.3M648.3 118.3L670.9 119.1M603.1 115.8L625.7 117.8M625.7 117.8L648.3 118.7M648.3 118.7L670.9 119.0M603.1 110.6L625.7 117.4M625.7 117.4L648.3 117.3M648.3 117.3L670.9 118.7M603.1 104.1L625.7 115.9M625.7 115.9L648.3 118.0M648.3 118.0L670.9 118.7M603.1 118.5L625.7 119.1M625.7 119.1L648.3 118.8M603.1 114.5L625.7 117.7M625.7 117.7L648.3 118.5M603.1 104.2L625.7 115.9M625.7 115.9L648.3 117.6M603.1 109.0L625.7 117.6M625.7 117.6L648.3 117.2M603.1 113.1L625.7 117.5M625.7 117.5L648.3 118.7M603.1 108.1L625.7 115.8M625.7 115.8L648.3 118.5M603.1 119.2L625.7 118.1M625.7 118.1L648.3 118.8M603.1 117.8L625.7 118.4M625.7 118.4L648.3 118.7M603.1 107.5L625.7 116.3M625.7 116.3L648.3 118.3M603.1 117.5L625.7 118.2M625.7 118.2L648.3 119.1M603.1 113.3L625.7 116.4M625.7 116.4L648.3 118.7M603.1 109.3L625.7 116.7M625.7 116.7L648.3 117.4M603.1 113.6L625.7 117.1M625.7 117.1L648.3 118.3M603.1 118.2L625.7 117.9M625.7 117.9L648.3 118.7M603.1 113.0L625.7 117.5M625.7 117.5L648.3 118.4M603.1 117.9L625.7 119.0M625.7 119.0L648.3 119.0M603.1 116.9L625.7 118.0M625.7 118.0L648.3 118.7M603.1 108.4L625.7 117.0M625.7 117.0L648.3 118.1M603.1 100.0L625.7 117.9M625.7 117.9L648.3 118.2M603.1 107.9L625.7 105.0M625.7 105.0L648.3 118.1M603.1 111.3L625.7 117.0M625.7 117.0L648.3 118.4M603.1 117.6L625.7 118.3M625.7 118.3L648.3 118.6M603.1 114.0L625.7 118.1M625.7 118.1L648.3 118.3M603.1 114.1L625.7 116.8M625.7 116.8L648.3 118.0M603.1 118.7L625.7 119.2M625.7 119.2L648.3 118.9M603.1 119.3L625.7 117.9M625.7 117.9L648.3 118.6M603.1 114.7L625.7 117.5M625.7 117.5L648.3 118.6M603.1 117.8L625.7 118.2M625.7 118.2L648.3 119.0M603.1 110.2L625.7 116.6M625.7 116.6L648.3 118.1M603.1 109.2L625.7 117.0M625.7 117.0L648.3 118.4M603.1 113.3L625.7 116.4M625.7 116.4L648.3 118.2M603.1 115.1L625.7 117.8M625.7 117.8L648.3 118.6M603.1 117.5L625.7 117.6M625.7 117.6L648.3 118.6M603.1 114.4L625.7 116.7M625.7 116.7L648.3 118.5M603.1 115.5L625.7 117.6M625.7 117.6L648.3 118.7M603.1 119.2L625.7 118.9M625.7 118.9L648.3 118.8M603.1 118.5L625.7 118.2M625.7 118.2L648.3 118.7M603.1 105.6L625.7 117.2M625.7 117.2L648.3 117.7M603.1 106.5L625.7 117.2M625.7 117.2L648.3 117.0M603.1 112.1L625.7 118.1M625.7 118.1L648.3 117.6M603.1 111.8L625.7 116.9M625.7 116.9L648.3 118.6M603.1 108.9L625.7 117.0M625.7 117.0L648.3 117.1M603.1 107.2L625.7 115.8M625.7 115.8L648.3 117.6M603.1 119.3L625.7 118.7M625.7 118.7L648.3 118.8M603.1 108.2L625.7 116.8M625.7 116.8L648.3 118.5M603.1 112.8L625.7 118.1M625.7 118.1L648.3 118.2M603.1 119.0L625.7 118.6M625.7 118.6L648.3 118.7M603.1 56.2L625.7 118.4M625.7 118.4L648.3 119.0M603.1 115.9L625.7 117.9M625.7 117.9L648.3 118.5M603.1 113.0L625.7 118.1M625.7 118.1L648.3 118.0M603.1 115.3L625.7 117.5M625.7 117.5L648.3 118.1M603.1 117.1L625.7 117.6M625.7 117.6L648.3 118.9M603.1 118.2L625.7 119.0M625.7 119.0L648.3 118.7M603.1 111.9L625.7 117.7M625.7 117.7L648.3 118.3M603.1 115.4L625.7 117.3M625.7 117.3L648.3 118.9M603.1 116.1L625.7 118.7M625.7 118.7L648.3 118.8M603.1 105.7L625.7 116.7M625.7 116.7L648.3 118.0M603.1 112.5L625.7 117.6M625.7 117.6L648.3 118.7M603.1 118.2L625.7 118.1M625.7 118.1L648.3 118.8M603.1 30.1L625.7 117.2M625.7 117.2L648.3 118.3M603.1 117.5L625.7 117.7M625.7 117.7L648.3 118.7M603.1 117.2L625.7 118.3M625.7 118.3L648.3 118.9M603.1 110.1L625.7 116.1M625.7 116.1L648.3 118.2M603.1 116.3L625.7 112.0M625.7 112.0L648.3 118.7M603.1 104.3L625.7 118.0M625.7 118.0L648.3 118.7M603.1 113.8L625.7 117.6M625.7 117.6L648.3 118.7M603.1 113.5L625.7 116.8M625.7 116.8L648.3 117.9M603.1 83.0L625.7 118.3M625.7 118.3L648.3 118.9M603.1 115.5L625.7 117.5M625.7 117.5L648.3 118.6M603.1 70.3L625.7 118.9M625.7 118.9L648.3 118.9M603.1 113.6L625.7 118.2M625.7 118.2L648.3 117.9M603.1 118.6L625.7 119.0M625.7 119.0L648.3 118.7M603.1 118.0L625.7 118.4M625.7 118.4L648.3 119.1M603.1 115.8L625.7 117.8M625.7 117.8L648.3 118.8M603.1 111.6L625.7 116.9M625.7 116.9L648.3 118.6M603.1 112.4L625.7 116.1M603.1 116.8L625.7 118.8M603.1 108.2L625.7 117.7M603.1 106.0L625.7 117.6M603.1 119.2L625.7 118.8M603.1 105.7L625.7 115.4M603.1 116.7L625.7 118.4M603.1 118.3L625.7 117.9M603.1 113.2L625.7 117.0M603.1 118.6L625.7 118.6M603.1 110.4L625.7 117.6M603.1 108.1L625.7 116.5M603.1 116.9L625.7 118.0M603.1 30.1L625.7 110.0M603.1 116.9L625.7 117.7M603.1 117.6L625.7 118.8M603.1 116.7L625.7 118.4M603.1 118.4L625.7 118.1M603.1 116.5L625.7 118.4M603.1 118.0L625.7 117.8" fill="none" stroke="#000" stroke-opacity="0.11" stroke-width="0.4"/><g fill="#F8766D" fill-opacity="0.5"><circle cx="601.2" cy="117.3" r=".6"/><circle cx="599.3" cy="103.3" r=".6"/><circle cx="608.3" cy="107.1" r=".6"/><circle cx="600.8" cy="115.6" r=".6"/><circle cx="600.0" cy="107.1" r=".6"/><circle cx="601.0" cy="111.3" r=".6"/><circle cx="603.8" cy="111.7" r=".6"/><circle cx="597.5" cy="104.1" r=".6"/><circle cx="598.7" cy="110.0" r=".6"/><circle cx="597.3" cy="116.0" r=".6"/><circle cx="599.3" cy="118.4" r=".6"/><circle cx="601.5" cy="104.9" r=".6"/><circle cx="608.9" cy="80.2" r=".6"/><circle cx="598.8" cy="118.5" r=".6"/><circle cx="605.2" cy="105.8" r=".6"/><circle cx="605.4" cy="112.0" r=".6"/><circle cx="604.2" cy="112.7" r=".6"/><circle cx="608.0" cy="114.7" r=".6"/><circle cx="598.6" cy="118.1" r=".6"/><circle cx="609.5" cy="113.3" r=".6"/><circle cx="605.6" cy="116.1" r=".6"/><circle cx="597.3" cy="117.0" r=".6"/><circle cx="603.9" cy="117.9" r=".6"/><circle cx="598.8" cy="115.1" r=".6"/><circle cx="597.3" cy="117.1" r=".6"/><circle cx="598.5" cy="108.3" r=".6"/><circle cx="602.0" cy="116.4" r=".6"/><circle cx="603.6" cy="115.8" r=".6"/><circle cx="608.3" cy="110.6" r=".6"/><circle cx="599.9" cy="104.1" r=".6"/><circle cx="605.0" cy="118.5" r=".6"/><circle cx="605.6" cy="114.5" r=".6"/><circle cx="603.5" cy="104.2" r=".6"/><circle cx="598.0" cy="109.0" r=".6"/><circle cx="603.0" cy="113.1" r=".6"/><circle cx="608.7" cy="108.1" r=".6"/><circle cx="608.9" cy="119.2" r=".6"/><circle cx="603.4" cy="117.8" r=".6"/><circle cx="602.0" cy="107.5" r=".6"/><circle cx="597.4" cy="117.5" r=".6"/><circle cx="605.6" cy="113.3" r=".6"/><circle cx="605.1" cy="109.3" r=".6"/><circle cx="603.2" cy="113.6" r=".6"/><circle cx="598.9" cy="118.2" r=".6"/><circle cx="605.4" cy="113.0" r=".6"/><circle cx="606.9" cy="117.9" r=".6"/><circle cx="600.3" cy="116.9" r=".6"/><circle cx="604.9" cy="108.4" r=".6"/><circle cx="602.9" cy="100.0" r=".6"/><circle cx="604.7" cy="107.9" r=".6"/><circle cx="609.1" cy="111.3" r=".6"/><circle cx="600.0" cy="117.6" r=".6"/><circle cx="603.3" cy="114.0" r=".6"/><circle cx="597.1" cy="114.1" r=".6"/><circle cx="604.7" cy="118.7" r=".6"/><circle cx="599.5" cy="119.3" r=".6"/><circle cx="601.5" cy="114.7" r=".6"/><circle cx="601.3" cy="117.8" r=".6"/><circle cx="598.7" cy="110.2" r=".6"/><circle cx="600.8" cy="109.2" r=".6"/><circle cx="609.7" cy="113.3" r=".6"/><circle cx="600.7" cy="115.1" r=".6"/><circle cx="606.2" cy="117.5" r=".6"/><circle cx="600.4" cy="114.4" r=".6"/><circle cx="597.1" cy="115.5" r=".6"/><circle cx="598.4" cy="119.2" r=".6"/><circle cx="599.9" cy="118.5" r=".6"/><circle cx="604.7" cy="105.6" r=".6"/><circle cx="601.3" cy="106.5" r=".6"/><circle cx="604.3" cy="112.1" r=".6"/><circle cx="604.9" cy="111.8" r=".6"/><circle cx="608.9" cy="108.9" r=".6"/><circle cx="596.4" cy="107.2" r=".6"/><circle cx="606.0" cy="119.3" r=".6"/><circle cx="597.9" cy="108.2" r=".6"/><circle cx="609.6" cy="112.8" r=".6"/><circle cx="609.4" cy="119.0" r=".6"/><circle cx="597.3" cy="56.2" r=".6"/><circle cx="605.6" cy="115.9" r=".6"/><circle cx="607.7" cy="113.0" r=".6"/><circle cx="597.6" cy="115.3" r=".6"/><circle cx="598.5" cy="117.1" r=".6"/><circle cx="607.1" cy="118.2" r=".6"/><circle cx="608.9" cy="111.9" r=".6"/><circle cx="609.1" cy="115.4" r=".6"/><circle cx="607.0" cy="116.1" r=".6"/><circle cx="607.8" cy="105.7" r=".6"/><circle cx="607.6" cy="112.5" r=".6"/><circle cx="602.5" cy="118.2" r=".6"/><circle cx="601.3" cy="30.1" r=".6"/><circle cx="597.0" cy="117.5" r=".6"/><circle cx="599.4" cy="117.2" r=".6"/><circle cx="607.8" cy="110.1" r=".6"/><circle cx="606.7" cy="116.3" r=".6"/><circle cx="599.7" cy="104.3" r=".6"/><circle cx="609.2" cy="113.8" r=".6"/><circle cx="597.3" cy="113.5" r=".6"/><circle cx="607.8" cy="83.0" r=".6"/><circle cx="600.7" cy="115.5" r=".6"/><circle cx="602.4" cy="70.3" r=".6"/><circle cx="604.6" cy="113.6" r=".6"/><circle cx="600.9" cy="118.6" r=".6"/><circle cx="602.1" cy="118.0" r=".6"/><circle cx="604.5" cy="115.8" r=".6"/><circle cx="609.4" cy="111.6" r=".6"/><circle cx="600.1" cy="112.4" r=".6"/><circle cx="604.7" cy="116.8" r=".6"/><circle cx="605.2" cy="108.2" r=".6"/><circle cx="607.5" cy="106.0" r=".6"/><circle cx="602.7" cy="119.2" r=".6"/><circle cx="602.1" cy="105.7" r=".6"/><circle cx="599.4" cy="116.7" r=".6"/><circle cx="598.0" cy="118.3" r=".6"/><circle cx="605.2" cy="113.2" r=".6"/><circle cx="602.7" cy="118.6" r=".6"/><circle cx="608.3" cy="110.4" r=".6"/><circle cx="606.8" cy="108.1" r=".6"/><circle cx="606.9" cy="116.9" r=".6"/><circle cx="602.4" cy="30.1" r=".6"/><circle cx="603.6" cy="116.9" r=".6"/><circle cx="606.4" cy="117.6" r=".6"/><circle cx="601.4" cy="116.7" r=".6"/><circle cx="606.1" cy="118.4" r=".6"/><circle cx="605.9" cy="116.5" r=".6"/><circle cx="601.5" cy="118.0" r=".6"/><circle cx="596.6" cy="106.8" r=".6"/><circle cx="599.5" cy="117.9" r=".6"/><circle cx="599.2" cy="117.4" r=".6"/><circle cx="599.8" cy="111.8" r=".6"/><circle cx="599.3" cy="112.3" r=".6"/><circle cx="609.2" cy="114.1" r=".6"/><circle cx="599.8" cy="118.6" r=".6"/><circle cx="598.7" cy="118.2" r=".6"/><circle cx="597.9" cy="109.9" r=".6"/><circle cx="602.3" cy="109.1" r=".6"/><circle cx="604.8" cy="113.0" r=".6"/><circle cx="598.5" cy="112.3" r=".6"/><circle cx="607.3" cy="117.9" r=".6"/><circle cx="605.9" cy="111.8" r=".6"/><circle cx="603.0" cy="116.2" r=".6"/></g><g fill="#7CAE00" fill-opacity="0.5"><circle cx="630.8" cy="118.5" r=".6"/><circle cx="628.3" cy="115.6" r=".6"/><circle cx="620.9" cy="115.7" r=".6"/><circle cx="623.4" cy="117.6" r=".6"/><circle cx="629.8" cy="115.4" r=".6"/><circle cx="623.2" cy="115.7" r=".6"/><circle cx="629.3" cy="117.2" r=".6"/><circle cx="622.8" cy="115.6" r=".6"/><circle cx="631.2" cy="116.5" r=".6"/><circle cx="632.2" cy="117.3" r=".6"/><circle cx="619.0" cy="118.4" r=".6"/><circle cx="619.2" cy="116.4" r=".6"/><circle cx="630.0" cy="117.2" r=".6"/><circle cx="625.9" cy="118.9" r=".6"/><circle cx="622.0" cy="115.9" r=".6"/><circle cx="622.7" cy="117.4" r=".6"/><circle cx="631.8" cy="117.6" r=".6"/><circle cx="631.7" cy="118.3" r=".6"/><circle cx="625.4" cy="118.6" r=".6"/><circle cx="620.2" cy="117.2" r=".6"/><circle cx="621.6" cy="117.3" r=".6"/><circle cx="621.5" cy="117.8" r=".6"/><circle cx="625.2" cy="118.5" r=".6"/><circle cx="620.7" cy="118.3" r=".6"/><circle cx="620.2" cy="117.5" r=".6"/><circle cx="627.7" cy="117.1" r=".6"/><circle cx="632.1" cy="117.7" r=".6"/><circle cx="632.0" cy="117.8" r=".6"/><circle cx="622.1" cy="117.4" r=".6"/><circle cx="619.7" cy="115.9" r=".6"/><circle cx="622.6" cy="119.1" r=".6"/><circle cx="626.9" cy="117.7" r=".6"/><circle cx="622.0" cy="115.9" r=".6"/><circle cx="619.0" cy="117.6" r=".6"/><circle cx="621.2" cy="117.5" r=".6"/><circle cx="624.1" cy="115.8" r=".6"/><circle cx="627.6" cy="118.1" r=".6"/><circle cx="626.0" cy="118.4" r=".6"/><circle cx="625.1" cy="116.3" r=".6"/><circle cx="624.0" cy="118.2" r=".6"/><circle cx="632.3" cy="116.4" r=".6"/><circle cx="631.8" cy="116.7" r=".6"/><circle cx="620.9" cy="117.1" r=".6"/><circle cx="619.6" cy="117.9" r=".6"/><circle cx="630.7" cy="117.5" r=".6"/><circle cx="632.2" cy="119.0" r=".6"/><circle cx="631.0" cy="118.0" r=".6"/><circle cx="625.3" cy="117.0" r=".6"/><circle cx="625.9" cy="117.9" r=".6"/><circle cx="630.2" cy="105.0" r=".6"/><circle cx="619.8" cy="117.0" r=".6"/><circle cx="623.2" cy="118.3" r=".6"/><circle cx="623.0" cy="118.1" r=".6"/><circle cx="621.8" cy="116.8" r=".6"/><circle cx="626.5" cy="119.2" r=".6"/><circle cx="627.6" cy="117.9" r=".6"/><circle cx="620.0" cy="117.5" r=".6"/><circle cx="627.5" cy="118.2" r=".6"/><circle cx="627.4" cy="116.6" r=".6"/><circle cx="630.3" cy="117.0" r=".6"/><circle cx="629.3" cy="116.4" r=".6"/><circle cx="625.1" cy="117.8" r=".6"/><circle cx="628.8" cy="117.6" r=".6"/><circle cx="631.4" cy="116.7" r=".6"/><circle cx="625.3" cy="117.6" r=".6"/><circle cx="626.5" cy="118.9" r=".6"/><circle cx="622.6" cy="118.2" r=".6"/><circle cx="631.6" cy="117.2" r=".6"/><circle cx="628.3" cy="117.2" r=".6"/><circle cx="629.9" cy="118.1" r=".6"/><circle cx="622.9" cy="116.9" r=".6"/><circle cx="628.5" cy="117.0" r=".6"/><circle cx="619.5" cy="115.8" r=".6"/><circle cx="631.4" cy="118.7" r=".6"/><circle cx="631.7" cy="116.8" r=".6"/><circle cx="625.9" cy="118.1" r=".6"/><circle cx="632.4" cy="118.6" r=".6"/><circle cx="628.0" cy="118.4" r=".6"/><circle cx="630.8" cy="117.9" r=".6"/><circle cx="627.0" cy="118.1" r=".6"/><circle cx="620.4" cy="117.5" r=".6"/><circle cx="619.6" cy="117.6" r=".6"/><circle cx="630.0" cy="119.0" r=".6"/><circle cx="631.9" cy="117.7" r=".6"/><circle cx="631.9" cy="117.3" r=".6"/><circle cx="629.8" cy="118.7" r=".6"/><circle cx="624.2" cy="116.7" r=".6"/><circle cx="622.5" cy="117.6" r=".6"/><circle cx="627.8" cy="118.1" r=".6"/><circle cx="623.7" cy="117.2" r=".6"/><circle cx="620.9" cy="117.7" r=".6"/><circle cx="629.3" cy="118.3" r=".6"/><circle cx="624.7" cy="116.1" r=".6"/><circle cx="631.9" cy="112.0" r=".6"/><circle cx="619.6" cy="118.0" r=".6"/><circle cx="623.3" cy="117.6" r=".6"/><circle cx="627.7" cy="116.8" r=".6"/><circle cx="621.2" cy="118.3" r=".6"/><circle cx="624.6" cy="117.5" r=".6"/><circle cx="631.8" cy="118.9" r=".6"/><circle cx="632.4" cy="118.2" r=".6"/><circle cx="623.6" cy="119.0" r=".6"/><circle cx="626.1" cy="118.4" r=".6"/><circle cx="620.2" cy="117.8" r=".6"/><circle cx="629.9" cy="116.9" r=".6"/><circle cx="625.3" cy="116.1" r=".6"/><circle cx="628.2" cy="118.8" r=".6"/><circle cx="621.4" cy="117.7" r=".6"/><circle cx="625.2" cy="117.6" r=".6"/><circle cx="630.7" cy="118.8" r=".6"/><circle cx="623.7" cy="115.4" r=".6"/><circle cx="624.0" cy="118.4" r=".6"/><circle cx="621.4" cy="117.9" r=".6"/><circle cx="626.7" cy="117.0" r=".6"/><circle cx="620.2" cy="118.6" r=".6"/><circle cx="621.1" cy="117.6" r=".6"/><circle cx="626.5" cy="116.5" r=".6"/><circle cx="625.0" cy="118.0" r=".6"/><circle cx="623.1" cy="110.0" r=".6"/><circle cx="620.2" cy="117.7" r=".6"/><circle cx="631.8" cy="118.8" r=".6"/><circle cx="630.0" cy="118.4" r=".6"/><circle cx="619.1" cy="118.1" r=".6"/><circle cx="620.6" cy="118.4" r=".6"/><circle cx="624.3" cy="117.8" r=".6"/></g><g fill="#00BFC4" fill-opacity="0.5"><circle cx="653.2" cy="118.5" r=".6"/><circle cx="650.7" cy="117.8" r=".6"/><circle cx="651.5" cy="117.5" r=".6"/><circle cx="650.0" cy="118.1" r=".6"/><circle cx="648.4" cy="118.4" r=".6"/><circle cx="653.1" cy="118.1" r=".6"/><circle cx="651.0" cy="117.8" r=".6"/><circle cx="646.1" cy="118.4" r=".6"/><circle cx="648.9" cy="118.3" r=".6"/><circle cx="645.6" cy="118.5" r=".6"/><circle cx="653.7" cy="118.6" r=".6"/><circle cx="651.2" cy="117.8" r=".6"/><circle cx="642.4" cy="118.5" r=".6"/><circle cx="651.3" cy="119.2" r=".6"/><circle cx="642.9" cy="113.5" r=".6"/><circle cx="652.4" cy="118.3" r=".6"/><circle cx="650.0" cy="118.5" r=".6"/><circle cx="653.6" cy="118.5" r=".6"/><circle cx="652.5" cy="118.6" r=".6"/><circle cx="652.6" cy="118.7" r=".6"/><circle cx="652.5" cy="118.8" r=".6"/><circle cx="652.7" cy="118.9" r=".6"/><circle cx="652.7" cy="118.6" r=".6"/><circle cx="647.1" cy="118.1" r=".6"/><circle cx="644.8" cy="118.6" r=".6"/><circle cx="654.0" cy="117.3" r=".6"/><circle cx="651.9" cy="118.3" r=".6"/><circle cx="647.2" cy="118.7" r=".6"/><circle cx="654.4" cy="117.3" r=".6"/><circle cx="650.3" cy="118.0" r=".6"/><circle cx="649.1" cy="118.8" r=".6"/><circle cx="652.9" cy="118.5" r=".6"/><circle cx="650.1" cy="117.6" r=".6"/><circle cx="651.8" cy="117.2" r=".6"/><circle cx="647.4" cy="118.7" r=".6"/><circle cx="645.5" cy="118.5" r=".6"/><circle cx="647.1" cy="118.8" r=".6"/><circle cx="651.5" cy="118.7" r=".6"/><circle cx="644.4" cy="118.3" r=".6"/><circle cx="644.2" cy="119.1" r=".6"/><circle cx="652.8" cy="118.7" r=".6"/><circle cx="652.5" cy="117.4" r=".6"/><circle cx="644.5" cy="118.3" r=".6"/><circle cx="645.7" cy="118.7" r=".6"/><circle cx="642.0" cy="118.4" r=".6"/><circle cx="650.7" cy="119.0" r=".6"/><circle cx="644.8" cy="118.7" r=".6"/><circle cx="647.5" cy="118.1" r=".6"/><circle cx="647.7" cy="118.2" r=".6"/><circle cx="652.5" cy="118.1" r=".6"/><circle cx="646.6" cy="118.4" r=".6"/><circle cx="654.0" cy="118.6" r=".6"/><circle cx="654.9" cy="118.3" r=".6"/><circle cx="641.5" cy="118.0" r=".6"/><circle cx="646.2" cy="118.9" r=".6"/><circle cx="641.7" cy="118.6" r=".6"/><circle cx="653.3" cy="118.6" r=".6"/><circle cx="652.6" cy="119.0" r=".6"/><circle cx="649.6" cy="118.1" r=".6"/><circle cx="643.8" cy="118.4" r=".6"/><circle cx="647.9" cy="118.2" r=".6"/><circle cx="650.2" cy="118.6" r=".6"/><circle cx="645.5" cy="118.6" r=".6"/><circle cx="646.3" cy="118.5" r=".6"/><circle cx="648.5" cy="118.7" r=".6"/><circle cx="650.2" cy="118.8" r=".6"/><circle cx="647.3" cy="118.7" r=".6"/><circle cx="646.9" cy="117.7" r=".6"/><circle cx="649.4" cy="117.0" r=".6"/><circle cx="644.8" cy="117.6" r=".6"/><circle cx="654.7" cy="118.6" r=".6"/><circle cx="642.7" cy="117.1" r=".6"/><circle cx="646.8" cy="117.6" r=".6"/><circle cx="642.3" cy="118.8" r=".6"/><circle cx="645.7" cy="118.5" r=".6"/><circle cx="645.5" cy="118.2" r=".6"/><circle cx="644.3" cy="118.7" r=".6"/><circle cx="654.9" cy="119.0" r=".6"/><circle cx="648.1" cy="118.5" r=".6"/><circle cx="647.3" cy="118.0" r=".6"/><circle cx="650.2" cy="118.1" r=".6"/><circle cx="643.9" cy="118.9" r=".6"/><circle cx="653.1" cy="118.7" r=".6"/><circle cx="643.5" cy="118.3" r=".6"/><circle cx="647.8" cy="118.9" r=".6"/><circle cx="642.0" cy="118.8" r=".6"/><circle cx="649.6" cy="118.0" r=".6"/><circle cx="647.1" cy="118.7" r=".6"/><circle cx="645.8" cy="118.8" r=".6"/><circle cx="645.9" cy="118.3" r=".6"/><circle cx="645.3" cy="118.7" r=".6"/><circle cx="651.8" cy="118.9" r=".6"/><circle cx="642.3" cy="118.2" r=".6"/><circle cx="646.0" cy="118.7" r=".6"/><circle cx="650.7" cy="118.7" r=".6"/><circle cx="652.7" cy="118.7" r=".6"/><circle cx="653.2" cy="117.9" r=".6"/><circle cx="646.0" cy="118.9" r=".6"/><circle cx="649.7" cy="118.6" r=".6"/><circle cx="647.2" cy="118.9" r=".6"/><circle cx="651.3" cy="117.9" r=".6"/><circle cx="650.8" cy="118.7" r=".6"/><circle cx="653.0" cy="119.1" r=".6"/><circle cx="642.0" cy="118.8" r=".6"/><circle cx="652.2" cy="118.6" r=".6"/></g><g fill="#C77CFF" fill-opacity="0.5"><circle cx="664.2" cy="118.8" r=".6"/><circle cx="676.7" cy="117.6" r=".6"/><circle cx="676.8" cy="118.0" r=".6"/><circle cx="674.7" cy="118.9" r=".6"/><circle cx="669.0" cy="118.8" r=".6"/><circle cx="670.6" cy="118.4" r=".6"/><circle cx="674.2" cy="118.5" r=".6"/><circle cx="667.8" cy="118.2" r=".6"/><circle cx="676.4" cy="118.7" r=".6"/><circle cx="669.7" cy="118.7" r=".6"/><circle cx="669.1" cy="119.2" r=".6"/><circle cx="667.1" cy="118.2" r=".6"/><circle cx="668.9" cy="118.7" r=".6"/><circle cx="676.7" cy="119.1" r=".6"/><circle cx="666.0" cy="118.5" r=".6"/><circle cx="667.5" cy="118.3" r=".6"/><circle cx="668.6" cy="118.9" r=".6"/><circle cx="676.6" cy="119.1" r=".6"/><circle cx="664.8" cy="119.2" r=".6"/><circle cx="668.3" cy="119.1" r=".6"/><circle cx="670.4" cy="118.7" r=".6"/><circle cx="669.6" cy="119.0" r=".6"/><circle cx="670.6" cy="118.9" r=".6"/><circle cx="675.5" cy="119.2" r=".6"/><circle cx="674.3" cy="118.8" r=".6"/><circle cx="669.2" cy="118.7" r=".6"/><circle cx="672.2" cy="119.1" r=".6"/><circle cx="665.6" cy="119.0" r=".6"/><circle cx="668.4" cy="118.7" r=".6"/><circle cx="670.9" cy="118.7" r=".6"/></g><rect x="594.68" y="111.5" width="16.93" height="5.80" fill="none" stroke="#939393" stroke-width="0.6"/><line x1="594.68" x2="611.61" y1="114.5" y2="114.5" stroke="#4a4a4a" stroke-width="0.8"/><rect x="617.25" y="116.6" width="16.93" height="2.00" fill="none" stroke="#939393" stroke-width="0.6"/><line x1="617.25" x2="634.18" y1="117.7" y2="117.7" stroke="#4a4a4a" stroke-width="0.8"/><rect x="639.82" y="117.9" width="16.93" height="1.00" fill="none" stroke="#939393" stroke-width="0.6"/><line x1="639.82" x2="656.75" y1="118.5" y2="118.5" stroke="#4a4a4a" stroke-width="0.8"/><rect x="662.39" y="118.5" width="16.93" height="0.70" fill="none" stroke="#939393" stroke-width="0.6"/><line x1="662.39" x2="679.32" y1="118.9" y2="118.9" stroke="#4a4a4a" stroke-width="0.8"/></g><path d="M603.14 12.30V11.40H670.86V12.30" fill="none" stroke="#9a9a9a" stroke-width="0.7"/><text x="637.00" y="11.50" font-size="4" text-anchor="middle" fill="#444" font-family='"Liberation Sans", sans-serif'>****</text><path d="M603.14 17.10V16.20H648.29V17.10" fill="none" stroke="#9a9a9a" stroke-width="0.7"/><text x="625.71" y="16.30" font-size="4" text-anchor="middle" fill="#444" font-family='"Liberation Sans", sans-serif'>****</text><path d="M603.14 21.80V20.90H625.71V21.80" fill="none" stroke="#9a9a9a" stroke-width="0.7"/><text x="614.43" y="21.00" font-size="4" text-anchor="middle" fill="#444" font-family='"Liberation Sans", sans-serif'>****</text><rect x="589.6" y="5.6" width="94.80" height="119.10" fill="none" stroke="#c8c8c8" stroke-width="1.0"/><line x1="589.6" x2="589.6" y1="5.1" y2="125.2" stroke="#959595" stroke-width="0.85"/><line x1="588.1" x2="589.6" y1="119.50" y2="119.50" stroke="#777" stroke-width="0.6"/><text x="586.40" y="122.00" class="ax" text-anchor="end">0</text><line x1="588.1" x2="589.6" y1="91.62" y2="91.62" stroke="#777" stroke-width="0.6"/><text x="586.40" y="94.12" class="ax" text-anchor="end">25</text><line x1="588.1" x2="589.6" y1="63.75" y2="63.75" stroke="#777" stroke-width="0.6"/><text x="586.40" y="66.25" class="ax" text-anchor="end">50</text><line x1="588.1" x2="589.6" y1="35.88" y2="35.88" stroke="#777" stroke-width="0.6"/><text x="586.40" y="38.38" class="ax" text-anchor="end">75</text><line x1="588.1" x2="589.6" y1="8.00" y2="8.00" stroke="#777" stroke-width="0.6"/><text x="586.40" y="10.50" class="ax" text-anchor="end">100</text><line x1="603.14" x2="603.14" y1="124.7" y2="126.3" stroke="#888" stroke-width="0.6"/><text transform="translate(606.24,131.60) rotate(-45)" class="ax xl" text-anchor="end">Admission</text><line x1="625.71" x2="625.71" y1="124.7" y2="126.3" stroke="#888" stroke-width="0.6"/><text transform="translate(628.81,131.60) rotate(-45)" class="ax xl" text-anchor="end">Discharge</text><line x1="648.29" x2="648.29" y1="124.7" y2="126.3" stroke="#888" stroke-width="0.6"/><text transform="translate(651.39,131.60) rotate(-45)" class="ax xl" text-anchor="end">First follow-up</text><line x1="670.86" x2="670.86" y1="124.7" y2="126.3" stroke="#888" stroke-width="0.6"/><text transform="translate(673.96,131.60) rotate(-45)" class="ax xl" text-anchor="end">Second follow-up</text><text transform="translate(564.30,65.45) rotate(-90)" class="ax" text-anchor="middle">D-Dimer (<0.5 ug/mL)</text><clipPath id="c5"><rect x="33.6" y="189.7" width="93.80000000000001" height="118.5"/></clipPath><g clip-path="url(#c5)"><line x1="33.6" x2="127.4" y1="287.68" y2="287.68" stroke="#f6f6f6" stroke-width="0.6"/><line x1="33.6" x2="127.4" y1="258.45" y2="258.45" stroke="#f6f6f6" stroke-width="0.6"/><line x1="33.6" x2="127.4" y1="229.22" y2="229.22" stroke="#f6f6f6" stroke-width="0.6"/><line x1="33.6" x2="127.4" y1="199.98" y2="199.98" stroke="#f6f6f6" stroke-width="0.6"/><line x1="33.6" x2="127.4" y1="302.30" y2="302.30" stroke="#eeeeee" stroke-width="0.7"/><line x1="33.6" x2="127.4" y1="273.07" y2="273.07" stroke="#eeeeee" stroke-width="0.7"/><line x1="33.6" x2="127.4" y1="243.83" y2="243.83" stroke="#eeeeee" stroke-width="0.7"/><line x1="33.6" x2="127.4" y1="214.60" y2="214.60" stroke="#eeeeee" stroke-width="0.7"/><line x1="59.18" x2="59.18" y1="189.7" y2="308.2" stroke="#eeeeee" stroke-width="0.7"/><line x1="101.82" x2="101.82" y1="189.7" y2="308.2" stroke="#eeeeee" stroke-width="0.7"/><line x1="33.6" x2="127.4" y1="278.73" y2="278.73" stroke="#c2c2c2" stroke-width="0.6"/><line x1="59.18" x2="59.18" y1="207.2" y2="280.8" stroke="#8a8a8a" stroke-width="0.6"/><rect x="43.19" y="238.1" width="31.98" height="21.80" fill="#fdcfcc" stroke="#777" stroke-width="0.6"/><line x1="101.82" x2="101.82" y1="252" y2="303" stroke="#8a8a8a" stroke-width="0.6"/><rect x="85.83" y="271.2" width="31.98" height="15.40" fill="#a6e9ea" stroke="#777" stroke-width="0.6"/><path d="M59.2 266.5L101.8 286.5M59.2 264.7L101.8 286.9M59.2 220.3L101.8 277.5M59.2 233.4L101.8 271.2M59.2 278.4L101.8 300.9M59.2 245.2L101.8 272.2M59.2 251.3L101.8 276.0M59.2 227.9L101.8 259.4M59.2 242.0L101.8 277.0M59.2 237.8L101.8 272.9M59.2 248.6L101.8 274.1M59.2 251.3L101.8 277.0M59.2 239.5L101.8 268.4M59.2 269.5L101.8 279.5M59.2 218.1L101.8 276.6M59.2 262.3L101.8 282.6M59.2 250.8L101.8 274.0M59.2 275.3L101.8 300.2M59.2 225.3L101.8 268.7M59.2 248.4L101.8 281.3M59.2 246.0L101.8 272.5M59.2 238.5L101.8 274.4M59.2 268.9L101.8 287.9M59.2 249.1L101.8 275.3M59.2 221.4L101.8 266.0M59.2 235.4L101.8 266.5M59.2 245.2L101.8 281.7M59.2 216.2L101.8 271.8M59.2 222.6L101.8 270.6M59.2 244.7L101.8 276.5M59.2 195.0L101.8 278.7M59.2 199.0L101.8 283.8M59.2 266.5L101.8 291.9M59.2 241.4L101.8 267.0M59.2 241.2L101.8 276.1M59.2 257.6L101.8 276.9M59.2 239.2L101.8 272.1M59.2 216.2L101.8 274.3M59.2 212.3L101.8 272.3M59.2 244.9L101.8 283.7M59.2 243.3L101.8 271.8M59.2 256.9L101.8 289.8M59.2 246.3L101.8 274.0M59.2 258.1L101.8 285.7M59.2 268.9L101.8 283.9M59.2 241.1L101.8 276.2M59.2 220.3L101.8 271.8M59.2 215.2L101.8 266.1M59.2 267.5L101.8 279.4M59.2 271.0L101.8 279.3M59.2 244.8L101.8 282.2M59.2 257.5L101.8 284.0M59.2 252.2L101.8 283.7M59.2 274.1L101.8 291.6M59.2 226.6L101.8 273.0M59.2 255.5L101.8 285.8M59.2 209.8L101.8 276.3M59.2 271.2L101.8 298.7M59.2 240.5L101.8 279.9M59.2 275.2L101.8 279.1M59.2 269.7L101.8 286.5M59.2 260.7L101.8 276.0M59.2 241.8L101.8 278.3M59.2 278.1L101.8 297.6M59.2 242.3L101.8 277.4M59.2 241.6L101.8 275.7M59.2 249.3L101.8 278.9M59.2 255.2L101.8 282.9M59.2 268.7L101.8 289.2M59.2 229.3L101.8 276.7" fill="none" stroke="#000" stroke-opacity="0.11" stroke-width="0.4"/><g fill="#F8766D" fill-opacity="0.5"><circle cx="58.0" cy="266.5" r=".6"/><circle cx="59.0" cy="264.7" r=".6"/><circle cx="55.0" cy="220.3" r=".6"/><circle cx="70.6" cy="233.4" r=".6"/><circle cx="71.1" cy="278.4" r=".6"/><circle cx="58.2" cy="245.2" r=".6"/><circle cx="63.3" cy="251.3" r=".6"/><circle cx="52.6" cy="227.9" r=".6"/><circle cx="64.0" cy="242.0" r=".6"/><circle cx="50.8" cy="237.8" r=".6"/><circle cx="47.0" cy="248.6" r=".6"/><circle cx="47.6" cy="251.3" r=".6"/><circle cx="68.7" cy="239.5" r=".6"/><circle cx="62.7" cy="269.5" r=".6"/><circle cx="51.5" cy="218.1" r=".6"/><circle cx="64.1" cy="262.3" r=".6"/><circle cx="54.5" cy="250.8" r=".6"/><circle cx="51.9" cy="275.3" r=".6"/><circle cx="53.5" cy="225.3" r=".6"/><circle cx="68.7" cy="248.4" r=".6"/><circle cx="59.7" cy="246.0" r=".6"/><circle cx="64.7" cy="238.5" r=".6"/><circle cx="59.0" cy="268.9" r=".6"/><circle cx="60.0" cy="249.1" r=".6"/><circle cx="61.4" cy="221.4" r=".6"/><circle cx="58.8" cy="235.4" r=".6"/><circle cx="55.6" cy="245.2" r=".6"/><circle cx="65.0" cy="216.2" r=".6"/><circle cx="65.3" cy="222.6" r=".6"/><circle cx="68.9" cy="244.7" r=".6"/><circle cx="48.1" cy="195.0" r=".6"/><circle cx="56.4" cy="199.0" r=".6"/><circle cx="67.3" cy="266.5" r=".6"/><circle cx="54.0" cy="241.4" r=".6"/><circle cx="63.8" cy="241.2" r=".6"/><circle cx="49.2" cy="257.6" r=".6"/><circle cx="65.9" cy="239.2" r=".6"/><circle cx="68.0" cy="216.2" r=".6"/><circle cx="64.3" cy="212.3" r=".6"/><circle cx="62.3" cy="244.9" r=".6"/><circle cx="66.7" cy="243.3" r=".6"/><circle cx="68.2" cy="256.9" r=".6"/><circle cx="67.1" cy="246.3" r=".6"/><circle cx="68.1" cy="258.1" r=".6"/><circle cx="48.2" cy="268.9" r=".6"/><circle cx="70.5" cy="241.1" r=".6"/><circle cx="52.9" cy="220.3" r=".6"/><circle cx="47.1" cy="215.2" r=".6"/><circle cx="49.5" cy="267.5" r=".6"/><circle cx="71.2" cy="271.0" r=".6"/><circle cx="59.9" cy="244.8" r=".6"/><circle cx="60.0" cy="257.5" r=".6"/><circle cx="59.1" cy="252.2" r=".6"/><circle cx="68.7" cy="274.1" r=".6"/><circle cx="47.3" cy="226.6" r=".6"/><circle cx="59.4" cy="255.5" r=".6"/><circle cx="50.2" cy="209.8" r=".6"/><circle cx="48.9" cy="271.2" r=".6"/><circle cx="51.7" cy="240.5" r=".6"/><circle cx="70.5" cy="275.2" r=".6"/><circle cx="50.2" cy="269.7" r=".6"/><circle cx="61.5" cy="260.7" r=".6"/><circle cx="59.2" cy="241.8" r=".6"/><circle cx="63.4" cy="278.1" r=".6"/><circle cx="53.3" cy="242.3" r=".6"/><circle cx="55.9" cy="241.6" r=".6"/><circle cx="57.7" cy="249.3" r=".6"/><circle cx="61.3" cy="255.2" r=".6"/><circle cx="47.7" cy="268.7" r=".6"/><circle cx="63.6" cy="229.3" r=".6"/></g><g fill="#00BFC4" fill-opacity="0.5"><circle cx="93.2" cy="286.5" r=".6"/><circle cx="89.8" cy="286.9" r=".6"/><circle cx="98.6" cy="277.5" r=".6"/><circle cx="111.9" cy="271.2" r=".6"/><circle cx="94.6" cy="300.9" r=".6"/><circle cx="103.7" cy="272.2" r=".6"/><circle cx="111.8" cy="276.0" r=".6"/><circle cx="96.7" cy="259.4" r=".6"/><circle cx="94.8" cy="277.0" r=".6"/><circle cx="109.7" cy="272.9" r=".6"/><circle cx="99.2" cy="274.1" r=".6"/><circle cx="95.2" cy="277.0" r=".6"/><circle cx="96.2" cy="268.4" r=".6"/><circle cx="97.8" cy="279.5" r=".6"/><circle cx="103.8" cy="276.6" r=".6"/><circle cx="89.2" cy="282.6" r=".6"/><circle cx="89.2" cy="274.0" r=".6"/><circle cx="97.1" cy="300.2" r=".6"/><circle cx="113.9" cy="268.7" r=".6"/><circle cx="97.1" cy="281.3" r=".6"/><circle cx="94.6" cy="272.5" r=".6"/><circle cx="99.8" cy="274.4" r=".6"/><circle cx="90.7" cy="287.9" r=".6"/><circle cx="106.0" cy="275.3" r=".6"/><circle cx="89.1" cy="266.0" r=".6"/><circle cx="110.7" cy="266.5" r=".6"/><circle cx="103.8" cy="281.7" r=".6"/><circle cx="107.8" cy="271.8" r=".6"/><circle cx="113.4" cy="270.6" r=".6"/><circle cx="112.1" cy="276.5" r=".6"/><circle cx="110.7" cy="278.7" r=".6"/><circle cx="99.7" cy="283.8" r=".6"/><circle cx="106.6" cy="291.9" r=".6"/><circle cx="98.3" cy="267.0" r=".6"/><circle cx="101.1" cy="276.1" r=".6"/><circle cx="104.5" cy="276.9" r=".6"/><circle cx="93.5" cy="272.1" r=".6"/><circle cx="110.1" cy="274.3" r=".6"/><circle cx="103.9" cy="272.3" r=".6"/><circle cx="95.4" cy="283.7" r=".6"/><circle cx="97.5" cy="271.8" r=".6"/><circle cx="99.9" cy="289.8" r=".6"/><circle cx="91.3" cy="274.0" r=".6"/><circle cx="109.6" cy="285.7" r=".6"/><circle cx="93.5" cy="283.9" r=".6"/><circle cx="102.6" cy="276.2" r=".6"/><circle cx="92.6" cy="271.8" r=".6"/><circle cx="103.5" cy="266.1" r=".6"/><circle cx="107.6" cy="279.4" r=".6"/><circle cx="108.7" cy="279.3" r=".6"/><circle cx="113.0" cy="282.2" r=".6"/><circle cx="99.0" cy="284.0" r=".6"/><circle cx="102.5" cy="283.7" r=".6"/><circle cx="106.3" cy="291.6" r=".6"/><circle cx="92.8" cy="273.0" r=".6"/><circle cx="101.5" cy="285.8" r=".6"/><circle cx="94.1" cy="276.3" r=".6"/><circle cx="107.3" cy="298.7" r=".6"/><circle cx="105.6" cy="279.9" r=".6"/><circle cx="98.9" cy="279.1" r=".6"/><circle cx="92.4" cy="286.5" r=".6"/><circle cx="110.4" cy="276.0" r=".6"/><circle cx="91.0" cy="278.3" r=".6"/><circle cx="106.9" cy="297.6" r=".6"/><circle cx="109.5" cy="277.4" r=".6"/><circle cx="104.0" cy="275.7" r=".6"/><circle cx="114.4" cy="278.9" r=".6"/><circle cx="110.5" cy="282.9" r=".6"/><circle cx="94.5" cy="289.2" r=".6"/><circle cx="100.4" cy="276.7" r=".6"/></g><rect x="43.19" y="238.1" width="31.98" height="21.80" fill="none" stroke="#939393" stroke-width="0.6"/><line x1="43.19" x2="75.17" y1="247.3" y2="247.3" stroke="#4a4a4a" stroke-width="0.8"/><rect x="85.83" y="271.2" width="31.98" height="15.40" fill="none" stroke="#939393" stroke-width="0.6"/><line x1="85.83" x2="117.81" y1="277.5" y2="277.5" stroke="#4a4a4a" stroke-width="0.8"/></g><path d="M59.18 207.10V206.20H101.82V207.10" fill="none" stroke="#9a9a9a" stroke-width="0.7"/><text x="80.50" y="206.30" font-size="4" text-anchor="middle" fill="#444" font-family='"Liberation Sans", sans-serif'>**</text><rect x="33.6" y="189.7" width="93.80" height="118.50" fill="none" stroke="#c8c8c8" stroke-width="1.0"/><line x1="33.6" x2="33.6" y1="189.2" y2="308.7" stroke="#959595" stroke-width="0.85"/><line x1="33.6" x2="127.4" y1="308.2" y2="308.2" stroke="#fff" stroke-width="1.2"/><line x1="33.6" x2="127.4" y1="308.2" y2="308.2" stroke="#888" stroke-width="0.7" stroke-dasharray="1.1 1.1"/><line x1="32.1" x2="33.6" y1="302.30" y2="302.30" stroke="#777" stroke-width="0.6"/><text x="30.40" y="304.80" class="ax" text-anchor="end">1</text><line x1="32.1" x2="33.6" y1="273.07" y2="273.07" stroke="#777" stroke-width="0.6"/><text x="30.40" y="275.57" class="ax" text-anchor="end">10</text><line x1="32.1" x2="33.6" y1="243.83" y2="243.83" stroke="#777" stroke-width="0.6"/><text x="30.40" y="246.33" class="ax" text-anchor="end">100</text><line x1="32.1" x2="33.6" y1="214.60" y2="214.60" stroke="#777" stroke-width="0.6"/><text x="30.40" y="217.10" class="ax" text-anchor="end">1,000</text><line x1="59.18" x2="59.18" y1="308.2" y2="309.8" stroke="#888" stroke-width="0.6"/><text transform="translate(62.28,315.10) rotate(-45)" class="ax xl" text-anchor="end">Admission</text><line x1="101.82" x2="101.82" y1="308.2" y2="309.8" stroke="#888" stroke-width="0.6"/><text transform="translate(104.92,315.10) rotate(-45)" class="ax xl" text-anchor="end">Discharge</text><text transform="translate(5.90,249.25) rotate(-90)" class="ax" text-anchor="middle">IL-6 (<6.4 pg/mL)</text><clipPath id="c6"><rect x="177.8" y="189.7" width="93.59999999999997" height="118.5"/></clipPath><g clip-path="url(#c6)"><line x1="177.8" x2="271.4" y1="297.98" y2="297.98" stroke="#f6f6f6" stroke-width="0.6"/><line x1="177.8" x2="271.4" y1="268.42" y2="268.42" stroke="#f6f6f6" stroke-width="0.6"/><line x1="177.8" x2="271.4" y1="238.85" y2="238.85" stroke="#f6f6f6" stroke-width="0.6"/><line x1="177.8" x2="271.4" y1="209.28" y2="209.28" stroke="#f6f6f6" stroke-width="0.6"/><line x1="177.8" x2="271.4" y1="283.20" y2="283.20" stroke="#eeeeee" stroke-width="0.7"/><line x1="177.8" x2="271.4" y1="253.63" y2="253.63" stroke="#eeeeee" stroke-width="0.7"/><line x1="177.8" x2="271.4" y1="224.07" y2="224.07" stroke="#eeeeee" stroke-width="0.7"/><line x1="177.8" x2="271.4" y1="194.50" y2="194.50" stroke="#eeeeee" stroke-width="0.7"/><line x1="195.35" x2="195.35" y1="189.7" y2="308.2" stroke="#eeeeee" stroke-width="0.7"/><line x1="224.60" x2="224.60" y1="189.7" y2="308.2" stroke="#eeeeee" stroke-width="0.7"/><line x1="253.85" x2="253.85" y1="189.7" y2="308.2" stroke="#eeeeee" stroke-width="0.7"/><line x1="177.8" x2="271.4" y1="264.50" y2="264.50" stroke="#c2c2c2" stroke-width="0.6"/><line x1="177.8" x2="271.4" y1="278.88" y2="278.88" stroke="#7a7a7a" stroke-width="0.65" stroke-dasharray="1 0.95"/><line x1="195.35" x2="195.35" y1="195.1" y2="302.3" stroke="#8a8a8a" stroke-width="0.6"/><rect x="184.38" y="249.5" width="21.94" height="40.20" fill="#fdcfcc" stroke="#777" stroke-width="0.6"/><line x1="224.60" x2="224.60" y1="237.1" y2="302.3" stroke="#8a8a8a" stroke-width="0.6"/><rect x="213.63" y="274.4" width="21.94" height="27.90" fill="#a6e7b9" stroke="#777" stroke-width="0.6"/><line x1="253.85" x2="253.85" y1="284.2" y2="302.3" stroke="#8a8a8a" stroke-width="0.6"/><rect x="242.88" y="291.3" width="21.94" height="11.00" fill="#c8dcff" stroke="#777" stroke-width="0.6"/><path d="M195.3 294.0L224.6 298.5M224.6 298.5L253.8 301.5M195.3 264.8L224.6 288.7M224.6 288.7L253.8 300.5M195.3 298.4L224.6 302.3M224.6 302.3L253.8 300.4M195.3 274.1L224.6 280.9M224.6 280.9L253.8 298.5M195.3 250.7L224.6 265.2M224.6 265.2L253.8 296.9M195.3 233.7L224.6 280.3M224.6 280.3L253.8 291.0M195.3 217.0L224.6 292.5M224.6 292.5L253.8 296.7M195.3 217.3L224.6 287.1M224.6 287.1L253.8 286.5M195.3 248.4L224.6 288.5M224.6 288.5L253.8 288.2M195.3 199.2L224.6 289.5M224.6 289.5L253.8 287.1M195.3 252.6L224.6 292.3M224.6 292.3L253.8 294.8M195.3 291.3L224.6 292.8M224.6 292.8L253.8 302.3M195.3 287.9L224.6 300.6M224.6 300.6L253.8 300.2M195.3 299.6L224.6 293.8M224.6 293.8L253.8 302.3M195.3 256.1L224.6 266.9M224.6 266.9L253.8 295.4M195.3 297.6L224.6 302.3M224.6 302.3L253.8 301.0M195.3 264.4L224.6 275.4M224.6 275.4L253.8 294.9M195.3 249.9L224.6 291.7M224.6 291.7L253.8 295.0M195.3 283.4L224.6 289.1M224.6 289.1L253.8 240.0M195.3 204.9L224.6 261.9M224.6 261.9L253.8 290.8M195.3 300.2L224.6 302.3M224.6 302.3L253.8 298.8M195.3 278.3L224.6 299.7M224.6 299.7L253.8 301.1M195.3 268.4L224.6 284.0M224.6 284.0L253.8 292.9M195.3 277.4L224.6 295.9M224.6 295.9L253.8 296.5M195.3 283.6L224.6 283.6M224.6 283.6L253.8 295.1M195.3 298.4L224.6 297.7M224.6 297.7L253.8 299.8M195.3 290.8L224.6 295.7M224.6 295.7L253.8 302.3M195.3 284.3L224.6 288.5M224.6 288.5L253.8 295.5M195.3 277.2L224.6 282.1M224.6 282.1L253.8 302.3M195.3 280.0L224.6 300.6M224.6 300.6L253.8 295.1M195.3 236.2L224.6 274.6M224.6 274.6L253.8 296.6M195.3 219.3L224.6 272.7M224.6 272.7L253.8 288.5M195.3 293.5L224.6 299.5M224.6 299.5L253.8 302.3M195.3 199.7L224.6 242.2M224.6 242.2L253.8 285.5M195.3 292.1L224.6 302.3M224.6 302.3L253.8 298.3M195.3 280.3L224.6 301.1M224.6 301.1L253.8 296.1M195.3 255.5L224.6 296.0M224.6 296.0L253.8 297.5M195.3 291.4L224.6 302.1M224.6 302.1L253.8 262.0M195.3 297.1L224.6 299.4M224.6 299.4L253.8 302.3M195.3 279.1L224.6 295.6M224.6 295.6L253.8 302.3M195.3 259.0L224.6 271.8M224.6 271.8L253.8 297.5M195.3 250.8L224.6 275.0M224.6 275.0L253.8 293.6M195.3 276.7L224.6 299.9M224.6 299.9L253.8 293.0M195.3 268.4L224.6 292.9M224.6 292.9L253.8 299.8M195.3 287.0L224.6 290.6M224.6 290.6L253.8 299.2M195.3 273.7L224.6 284.6M224.6 284.6L253.8 297.4M195.3 250.0L224.6 272.8M224.6 272.8L253.8 292.3M195.3 300.7L224.6 294.7M224.6 294.7L253.8 302.3M195.3 246.4L224.6 289.0M224.6 289.0L253.8 298.7M195.3 265.9L224.6 287.1M224.6 287.1L253.8 295.9M195.3 289.5L224.6 293.9M224.6 293.9L253.8 295.6M195.3 218.3L224.6 289.7M224.6 289.7L253.8 293.1M195.3 199.9L224.6 279.0M224.6 279.0L253.8 294.3M195.3 215.9L224.6 250.6M224.6 250.6L253.8 292.2M195.3 241.2L224.6 287.8M224.6 287.8L253.8 258.7M195.3 278.1L224.6 297.6M224.6 297.6L253.8 302.3M195.3 257.6L224.6 293.2M224.6 293.2L253.8 296.6M195.3 255.8L224.6 276.9M224.6 276.9L253.8 295.7M195.3 272.5L224.6 290.0M224.6 290.0L253.8 296.1M195.3 281.3L224.6 293.7M224.6 293.7L253.8 299.5M195.3 301.9L224.6 302.3M195.3 281.1L224.6 298.5M195.3 295.4L224.6 298.6M195.3 266.8L224.6 240.0M195.3 249.3L224.6 278.6M195.3 299.8L224.6 297.9M195.3 199.7L224.6 277.6M195.3 212.7L224.6 260.5M195.3 203.6L224.6 264.2M195.3 285.9L224.6 284.7M195.3 271.3L224.6 283.5M195.3 295.3L224.6 302.3M195.3 206.4L224.6 278.7M195.3 281.6L224.6 281.8M195.3 299.5L224.6 300.7M195.3 294.4L224.6 302.3M195.3 275.9L224.6 289.3M195.3 299.1L224.6 298.1M195.3 195.1L224.6 284.0M195.3 298.0L224.6 302.3M195.3 251.2L224.6 293.1M195.3 216.1L224.6 284.2M195.3 282.6L224.6 301.1M195.3 283.0L224.6 283.2M195.3 226.3L224.6 288.4M195.3 255.3L224.6 297.1M195.3 269.9L224.6 293.0M195.3 245.6L224.6 281.7M195.3 294.7L224.6 300.9M195.3 293.9L224.6 291.0M195.3 223.6L224.6 259.5M195.3 290.3L224.6 298.3M195.3 230.8L224.6 270.9M195.3 265.3L224.6 276.2M195.3 260.4L224.6 289.3M195.3 258.9L224.6 295.4M195.3 260.1L224.6 293.7M195.3 220.8L224.6 286.0M195.3 298.0L224.6 302.3M195.3 280.6L224.6 298.1M195.3 235.5L224.6 280.0M195.3 267.2L224.6 297.9M195.3 241.5L224.6 265.7M195.3 293.1L224.6 299.4M195.3 272.0L224.6 276.8M195.3 239.7L224.6 292.9M195.3 250.5L224.6 290.3M195.3 273.3L224.6 296.0M195.3 290.3L224.6 302.3M195.3 280.1L224.6 302.3" fill="none" stroke="#000" stroke-opacity="0.11" stroke-width="0.4"/><g fill="#F8766D" fill-opacity="0.5"><circle cx="192.3" cy="294.0" r=".6"/><circle cx="192.5" cy="264.8" r=".6"/><circle cx="188.0" cy="298.4" r=".6"/><circle cx="190.0" cy="274.1" r=".6"/><circle cx="194.4" cy="250.7" r=".6"/><circle cx="200.3" cy="233.7" r=".6"/><circle cx="188.0" cy="217.0" r=".6"/><circle cx="187.3" cy="217.3" r=".6"/><circle cx="189.4" cy="248.4" r=".6"/><circle cx="188.6" cy="199.2" r=".6"/><circle cx="191.6" cy="252.6" r=".6"/><circle cx="190.6" cy="291.3" r=".6"/><circle cx="196.0" cy="287.9" r=".6"/><circle cx="193.8" cy="299.6" r=".6"/><circle cx="186.6" cy="256.1" r=".6"/><circle cx="200.2" cy="297.6" r=".6"/><circle cx="198.3" cy="264.4" r=".6"/><circle cx="201.3" cy="249.9" r=".6"/><circle cx="195.5" cy="283.4" r=".6"/><circle cx="187.0" cy="204.9" r=".6"/><circle cx="191.0" cy="300.2" r=".6"/><circle cx="203.5" cy="278.3" r=".6"/><circle cx="201.4" cy="268.4" r=".6"/><circle cx="196.2" cy="277.4" r=".6"/><circle cx="193.9" cy="283.6" r=".6"/><circle cx="194.7" cy="298.4" r=".6"/><circle cx="203.5" cy="290.8" r=".6"/><circle cx="196.9" cy="284.3" r=".6"/><circle cx="200.3" cy="277.2" r=".6"/><circle cx="193.2" cy="280.0" r=".6"/><circle cx="190.5" cy="236.2" r=".6"/><circle cx="196.8" cy="219.3" r=".6"/><circle cx="190.3" cy="293.5" r=".6"/><circle cx="191.6" cy="199.7" r=".6"/><circle cx="196.9" cy="292.1" r=".6"/><circle cx="192.4" cy="280.3" r=".6"/><circle cx="193.9" cy="255.5" r=".6"/><circle cx="194.9" cy="291.4" r=".6"/><circle cx="192.1" cy="297.1" r=".6"/><circle cx="194.1" cy="279.1" r=".6"/><circle cx="187.8" cy="259.0" r=".6"/><circle cx="198.2" cy="250.8" r=".6"/><circle cx="196.2" cy="276.7" r=".6"/><circle cx="199.3" cy="268.4" r=".6"/><circle cx="194.1" cy="287.0" r=".6"/><circle cx="203.8" cy="273.7" r=".6"/><circle cx="186.9" cy="250.0" r=".6"/><circle cx="199.4" cy="300.7" r=".6"/><circle cx="199.7" cy="246.4" r=".6"/><circle cx="195.9" cy="265.9" r=".6"/><circle cx="187.6" cy="289.5" r=".6"/><circle cx="198.6" cy="218.3" r=".6"/><circle cx="202.5" cy="199.9" r=".6"/><circle cx="199.3" cy="215.9" r=".6"/><circle cx="189.4" cy="241.2" r=".6"/><circle cx="188.9" cy="278.1" r=".6"/><circle cx="198.7" cy="257.6" r=".6"/><circle cx="193.2" cy="255.8" r=".6"/><circle cx="198.6" cy="272.5" r=".6"/><circle cx="203.4" cy="281.3" r=".6"/><circle cx="202.5" cy="301.9" r=".6"/><circle cx="194.2" cy="281.1" r=".6"/><circle cx="201.4" cy="295.4" r=".6"/><circle cx="194.2" cy="266.8" r=".6"/><circle cx="202.3" cy="249.3" r=".6"/><circle cx="199.5" cy="299.8" r=".6"/><circle cx="200.8" cy="199.7" r=".6"/><circle cx="202.5" cy="212.7" r=".6"/><circle cx="197.9" cy="203.6" r=".6"/><circle cx="203.8" cy="285.9" r=".6"/><circle cx="191.0" cy="271.3" r=".6"/><circle cx="195.7" cy="295.3" r=".6"/><circle cx="191.9" cy="206.4" r=".6"/><circle cx="192.3" cy="281.6" r=".6"/><circle cx="194.8" cy="299.5" r=".6"/><circle cx="200.1" cy="294.4" r=".6"/><circle cx="196.3" cy="275.9" r=".6"/><circle cx="201.6" cy="299.1" r=".6"/><circle cx="198.7" cy="195.1" r=".6"/><circle cx="201.1" cy="298.0" r=".6"/><circle cx="197.6" cy="251.2" r=".6"/><circle cx="188.4" cy="216.1" r=".6"/><circle cx="187.1" cy="282.6" r=".6"/><circle cx="191.7" cy="283.0" r=".6"/><circle cx="202.8" cy="226.3" r=".6"/><circle cx="191.6" cy="255.3" r=".6"/><circle cx="200.0" cy="269.9" r=".6"/><circle cx="199.7" cy="245.6" r=".6"/><circle cx="188.6" cy="294.7" r=".6"/><circle cx="191.4" cy="293.9" r=".6"/><circle cx="189.9" cy="223.6" r=".6"/><circle cx="203.9" cy="290.3" r=".6"/><circle cx="187.6" cy="230.8" r=".6"/><circle cx="198.2" cy="265.3" r=".6"/><circle cx="187.7" cy="260.4" r=".6"/><circle cx="199.4" cy="258.9" r=".6"/><circle cx="201.7" cy="260.1" r=".6"/><circle cx="200.9" cy="220.8" r=".6"/><circle cx="188.0" cy="298.0" r=".6"/><circle cx="197.5" cy="280.6" r=".6"/><circle cx="187.0" cy="235.5" r=".6"/><circle cx="203.6" cy="267.2" r=".6"/><circle cx="189.2" cy="241.5" r=".6"/><circle cx="194.4" cy="293.1" r=".6"/><circle cx="192.7" cy="272.0" r=".6"/><circle cx="187.5" cy="239.7" r=".6"/><circle cx="199.2" cy="250.5" r=".6"/><circle cx="194.5" cy="273.3" r=".6"/><circle cx="196.6" cy="290.3" r=".6"/><circle cx="189.6" cy="280.1" r=".6"/></g><g fill="#00BA38" fill-opacity="0.5"><circle cx="229.3" cy="298.5" r=".6"/><circle cx="223.6" cy="288.7" r=".6"/><circle cx="225.5" cy="302.3" r=".6"/><circle cx="228.1" cy="280.9" r=".6"/><circle cx="221.5" cy="265.2" r=".6"/><circle cx="225.0" cy="280.3" r=".6"/><circle cx="233.0" cy="292.5" r=".6"/><circle cx="227.9" cy="287.1" r=".6"/><circle cx="226.6" cy="288.5" r=".6"/><circle cx="230.1" cy="289.5" r=".6"/><circle cx="232.0" cy="292.3" r=".6"/><circle cx="230.6" cy="292.8" r=".6"/><circle cx="222.8" cy="300.6" r=".6"/><circle cx="227.4" cy="293.8" r=".6"/><circle cx="225.4" cy="266.9" r=".6"/><circle cx="230.9" cy="302.3" r=".6"/><circle cx="228.7" cy="275.4" r=".6"/><circle cx="219.1" cy="291.7" r=".6"/><circle cx="228.6" cy="289.1" r=".6"/><circle cx="230.1" cy="261.9" r=".6"/><circle cx="223.4" cy="302.3" r=".6"/><circle cx="229.9" cy="299.7" r=".6"/><circle cx="229.1" cy="284.0" r=".6"/><circle cx="232.3" cy="295.9" r=".6"/><circle cx="228.1" cy="283.6" r=".6"/><circle cx="230.8" cy="297.7" r=".6"/><circle cx="222.1" cy="295.7" r=".6"/><circle cx="226.7" cy="288.5" r=".6"/><circle cx="227.2" cy="282.1" r=".6"/><circle cx="230.1" cy="300.6" r=".6"/><circle cx="230.5" cy="274.6" r=".6"/><circle cx="220.3" cy="272.7" r=".6"/><circle cx="228.6" cy="299.5" r=".6"/><circle cx="230.1" cy="242.2" r=".6"/><circle cx="223.4" cy="302.3" r=".6"/><circle cx="226.9" cy="301.1" r=".6"/><circle cx="223.7" cy="296.0" r=".6"/><circle cx="231.4" cy="302.1" r=".6"/><circle cx="221.9" cy="299.4" r=".6"/><circle cx="221.7" cy="295.6" r=".6"/><circle cx="215.9" cy="271.8" r=".6"/><circle cx="230.8" cy="275.0" r=".6"/><circle cx="219.8" cy="299.9" r=".6"/><circle cx="233.0" cy="292.9" r=".6"/><circle cx="220.9" cy="290.6" r=".6"/><circle cx="228.2" cy="284.6" r=".6"/><circle cx="225.1" cy="272.8" r=".6"/><circle cx="229.8" cy="294.7" r=".6"/><circle cx="228.0" cy="289.0" r=".6"/><circle cx="225.6" cy="287.1" r=".6"/><circle cx="232.8" cy="293.9" r=".6"/><circle cx="222.3" cy="289.7" r=".6"/><circle cx="231.8" cy="279.0" r=".6"/><circle cx="227.9" cy="250.6" r=".6"/><circle cx="222.8" cy="287.8" r=".6"/><circle cx="228.4" cy="297.6" r=".6"/><circle cx="231.1" cy="293.2" r=".6"/><circle cx="216.3" cy="276.9" r=".6"/><circle cx="218.1" cy="290.0" r=".6"/><circle cx="217.5" cy="293.7" r=".6"/><circle cx="218.0" cy="302.3" r=".6"/><circle cx="222.8" cy="298.5" r=".6"/><circle cx="223.6" cy="298.6" r=".6"/><circle cx="218.0" cy="240.0" r=".6"/><circle cx="232.8" cy="278.6" r=".6"/><circle cx="231.3" cy="297.9" r=".6"/><circle cx="233.2" cy="277.6" r=".6"/><circle cx="222.7" cy="260.5" r=".6"/><circle cx="228.8" cy="264.2" r=".6"/><circle cx="232.1" cy="284.7" r=".6"/><circle cx="222.6" cy="283.5" r=".6"/><circle cx="227.1" cy="302.3" r=".6"/><circle cx="225.5" cy="278.7" r=".6"/><circle cx="226.9" cy="281.8" r=".6"/><circle cx="224.2" cy="300.7" r=".6"/><circle cx="216.9" cy="302.3" r=".6"/><circle cx="233.1" cy="289.3" r=".6"/><circle cx="227.7" cy="298.1" r=".6"/><circle cx="223.6" cy="284.0" r=".6"/><circle cx="230.3" cy="302.3" r=".6"/><circle cx="227.7" cy="293.1" r=".6"/><circle cx="232.8" cy="284.2" r=".6"/><circle cx="231.3" cy="301.1" r=".6"/><circle cx="222.1" cy="283.2" r=".6"/><circle cx="227.4" cy="288.4" r=".6"/><circle cx="229.1" cy="297.1" r=".6"/><circle cx="232.8" cy="293.0" r=".6"/><circle cx="224.3" cy="281.7" r=".6"/><circle cx="220.5" cy="300.9" r=".6"/><circle cx="232.8" cy="291.0" r=".6"/><circle cx="218.9" cy="259.5" r=".6"/><circle cx="220.0" cy="298.3" r=".6"/><circle cx="217.9" cy="270.9" r=".6"/><circle cx="217.5" cy="276.2" r=".6"/><circle cx="231.6" cy="289.3" r=".6"/><circle cx="220.5" cy="295.4" r=".6"/><circle cx="225.0" cy="293.7" r=".6"/><circle cx="228.0" cy="286.0" r=".6"/><circle cx="216.5" cy="302.3" r=".6"/><circle cx="231.1" cy="298.1" r=".6"/><circle cx="230.8" cy="280.0" r=".6"/><circle cx="219.5" cy="297.9" r=".6"/><circle cx="228.5" cy="265.7" r=".6"/><circle cx="217.4" cy="299.4" r=".6"/><circle cx="231.5" cy="276.8" r=".6"/><circle cx="222.3" cy="292.9" r=".6"/><circle cx="226.0" cy="290.3" r=".6"/><circle cx="233.3" cy="296.0" r=".6"/><circle cx="230.4" cy="302.3" r=".6"/><circle cx="227.5" cy="302.3" r=".6"/></g><g fill="#619CFF" fill-opacity="0.5"><circle cx="248.3" cy="301.5" r=".6"/><circle cx="251.3" cy="300.5" r=".6"/><circle cx="254.7" cy="300.4" r=".6"/><circle cx="254.0" cy="298.5" r=".6"/><circle cx="250.7" cy="296.9" r=".6"/><circle cx="262.0" cy="291.0" r=".6"/><circle cx="254.6" cy="296.7" r=".6"/><circle cx="246.2" cy="286.5" r=".6"/><circle cx="262.4" cy="288.2" r=".6"/><circle cx="247.7" cy="287.1" r=".6"/><circle cx="259.2" cy="294.8" r=".6"/><circle cx="252.5" cy="302.3" r=".6"/><circle cx="261.4" cy="300.2" r=".6"/><circle cx="247.1" cy="302.3" r=".6"/><circle cx="253.4" cy="295.4" r=".6"/><circle cx="248.4" cy="301.0" r=".6"/><circle cx="259.8" cy="294.9" r=".6"/><circle cx="249.8" cy="295.0" r=".6"/><circle cx="246.5" cy="240.0" r=".6"/><circle cx="255.6" cy="290.8" r=".6"/><circle cx="251.4" cy="298.8" r=".6"/><circle cx="253.2" cy="301.1" r=".6"/><circle cx="246.3" cy="292.9" r=".6"/><circle cx="255.0" cy="296.5" r=".6"/><circle cx="249.7" cy="295.1" r=".6"/><circle cx="261.0" cy="299.8" r=".6"/><circle cx="262.1" cy="302.3" r=".6"/><circle cx="251.4" cy="295.5" r=".6"/><circle cx="249.5" cy="302.3" r=".6"/><circle cx="261.8" cy="295.1" r=".6"/><circle cx="255.9" cy="296.6" r=".6"/><circle cx="255.5" cy="288.5" r=".6"/><circle cx="249.9" cy="302.3" r=".6"/><circle cx="260.7" cy="285.5" r=".6"/><circle cx="254.4" cy="298.3" r=".6"/><circle cx="261.2" cy="296.1" r=".6"/><circle cx="247.5" cy="297.5" r=".6"/><circle cx="246.3" cy="262.0" r=".6"/><circle cx="251.1" cy="302.3" r=".6"/><circle cx="249.5" cy="302.3" r=".6"/><circle cx="250.6" cy="297.5" r=".6"/><circle cx="260.4" cy="293.6" r=".6"/><circle cx="247.8" cy="293.0" r=".6"/><circle cx="249.7" cy="299.8" r=".6"/><circle cx="247.2" cy="299.2" r=".6"/><circle cx="249.4" cy="297.4" r=".6"/><circle cx="249.2" cy="292.3" r=".6"/><circle cx="255.3" cy="302.3" r=".6"/><circle cx="249.1" cy="298.7" r=".6"/><circle cx="249.3" cy="295.9" r=".6"/><circle cx="260.8" cy="295.6" r=".6"/><circle cx="252.6" cy="293.1" r=".6"/><circle cx="250.9" cy="294.3" r=".6"/><circle cx="250.7" cy="292.2" r=".6"/><circle cx="262.4" cy="258.7" r=".6"/><circle cx="248.8" cy="302.3" r=".6"/><circle cx="257.7" cy="296.6" r=".6"/><circle cx="257.2" cy="295.7" r=".6"/><circle cx="247.7" cy="296.1" r=".6"/><circle cx="250.9" cy="299.5" r=".6"/></g><rect x="184.38" y="249.5" width="21.94" height="40.20" fill="none" stroke="#939393" stroke-width="0.6"/><line x1="184.38" x2="206.32" y1="271.7" y2="271.7" stroke="#4a4a4a" stroke-width="0.8"/><rect x="213.63" y="274.4" width="21.94" height="27.90" fill="none" stroke="#939393" stroke-width="0.6"/><line x1="213.63" x2="235.57" y1="292.5" y2="292.5" stroke="#4a4a4a" stroke-width="0.8"/><rect x="242.88" y="291.3" width="21.94" height="11.00" fill="none" stroke="#939393" stroke-width="0.6"/><line x1="242.88" x2="264.82" y1="297.3" y2="297.3" stroke="#4a4a4a" stroke-width="0.8"/></g><path d="M195.35 202.50V201.60H253.85V202.50" fill="none" stroke="#9a9a9a" stroke-width="0.7"/><text x="224.60" y="201.70" font-size="4" text-anchor="middle" fill="#444" font-family='"Liberation Sans", sans-serif'>**</text><path d="M195.35 208.10V207.20H224.60V208.10" fill="none" stroke="#9a9a9a" stroke-width="0.7"/><text x="209.97" y="207.30" font-size="4" text-anchor="middle" fill="#444" font-family='"Liberation Sans", sans-serif'>**</text><rect x="177.8" y="189.7" width="93.60" height="118.50" fill="none" stroke="#c8c8c8" stroke-width="1.0"/><line x1="177.8" x2="177.8" y1="189.2" y2="308.7" stroke="#959595" stroke-width="0.85"/><line x1="176.3" x2="177.8" y1="283.20" y2="283.20" stroke="#777" stroke-width="0.6"/><text x="174.60" y="285.70" class="ax" text-anchor="end">10</text><line x1="176.3" x2="177.8" y1="253.63" y2="253.63" stroke="#777" stroke-width="0.6"/><text x="174.60" y="256.13" class="ax" text-anchor="end">100</text><line x1="176.3" x2="177.8" y1="224.07" y2="224.07" stroke="#777" stroke-width="0.6"/><text x="174.60" y="226.57" class="ax" text-anchor="end">1,000</text><line x1="176.3" x2="177.8" y1="194.50" y2="194.50" stroke="#777" stroke-width="0.6"/><text x="174.60" y="197.00" class="ax" text-anchor="end">10,000</text><line x1="195.35" x2="195.35" y1="308.2" y2="309.8" stroke="#888" stroke-width="0.6"/><text transform="translate(198.45,315.10) rotate(-45)" class="ax xl" text-anchor="end">Admission</text><line x1="224.60" x2="224.60" y1="308.2" y2="309.8" stroke="#888" stroke-width="0.6"/><text transform="translate(227.70,315.10) rotate(-45)" class="ax xl" text-anchor="end">Discharge</text><line x1="253.85" x2="253.85" y1="308.2" y2="309.8" stroke="#888" stroke-width="0.6"/><text transform="translate(256.95,315.10) rotate(-45)" class="ax xl" text-anchor="end">First follow-up</text><text transform="translate(146.70,249.25) rotate(-90)" class="ax" text-anchor="middle">Troponin (14-42.9 ng/L)</text><clipPath id="c7"><rect x="316.3" y="189.7" width="93.89999999999998" height="118.5"/></clipPath><g clip-path="url(#c7)"><line x1="316.3" x2="410.2" y1="283.70" y2="283.70" stroke="#f6f6f6" stroke-width="0.6"/><line x1="316.3" x2="410.2" y1="244.50" y2="244.50" stroke="#f6f6f6" stroke-width="0.6"/><line x1="316.3" x2="410.2" y1="303.30" y2="303.30" stroke="#eeeeee" stroke-width="0.7"/><line x1="316.3" x2="410.2" y1="264.10" y2="264.10" stroke="#eeeeee" stroke-width="0.7"/><line x1="316.3" x2="410.2" y1="224.90" y2="224.90" stroke="#eeeeee" stroke-width="0.7"/><line x1="333.91" x2="333.91" y1="189.7" y2="308.2" stroke="#eeeeee" stroke-width="0.7"/><line x1="363.25" x2="363.25" y1="189.7" y2="308.2" stroke="#eeeeee" stroke-width="0.7"/><line x1="392.59" x2="392.59" y1="189.7" y2="308.2" stroke="#eeeeee" stroke-width="0.7"/><line x1="316.3" x2="410.2" y1="264.10" y2="264.10" stroke="#c2c2c2" stroke-width="0.6"/><line x1="333.91" x2="333.91" y1="195.5" y2="303.3" stroke="#8a8a8a" stroke-width="0.6"/><rect x="322.90" y="225.1" width="22.01" height="47.50" fill="#fdcfcc" stroke="#777" stroke-width="0.6"/><line x1="363.25" x2="363.25" y1="240" y2="303.3" stroke="#8a8a8a" stroke-width="0.6"/><rect x="352.25" y="271.5" width="22.01" height="30.00" fill="#a6e7b9" stroke="#777" stroke-width="0.6"/><line x1="392.59" x2="392.59" y1="278.8" y2="303.3" stroke="#8a8a8a" stroke-width="0.6"/><rect x="381.59" y="293.5" width="22.01" height="9.80" fill="#c8dcff" stroke="#777" stroke-width="0.6"/><path d="M333.9 297.1L363.2 302.6M363.2 302.6L392.6 302.9M333.9 272.7L363.2 302.1M363.2 302.1L392.6 303.3M333.9 249.5L363.2 287.4M363.2 287.4L392.6 298.5M333.9 265.4L363.2 300.9M363.2 300.9L392.6 301.5M333.9 285.6L363.2 296.0M363.2 296.0L392.6 302.9M333.9 273.6L363.2 301.7M363.2 301.7L392.6 303.2M333.9 288.7L363.2 295.2M363.2 295.2L392.6 303.1M333.9 213.5L363.2 286.0M363.2 286.0L392.6 295.1M333.9 289.6L363.2 286.3M363.2 286.3L392.6 303.1M333.9 262.4L363.2 284.8M363.2 284.8L392.6 302.9M333.9 264.5L363.2 294.3M363.2 294.3L392.6 303.2M333.9 199.8L363.2 271.3M363.2 271.3L392.6 301.7M333.9 231.6L363.2 288.2M363.2 288.2L392.6 295.3M333.9 230.3L363.2 283.8M363.2 283.8L392.6 294.4M333.9 283.4L363.2 299.7M363.2 299.7L392.6 303.3M333.9 262.6L363.2 284.4M363.2 284.4L392.6 303.0M333.9 281.1L363.2 295.3M363.2 295.3L392.6 303.2M333.9 257.1L363.2 290.8M363.2 290.8L392.6 303.0M333.9 210.3L363.2 253.1M363.2 253.1L392.6 295.2M333.9 242.1L363.2 275.5M363.2 275.5L392.6 303.0M333.9 254.7L363.2 299.8M363.2 299.8L392.6 302.3M333.9 265.0L363.2 280.0M363.2 280.0L392.6 303.1M333.9 214.9L363.2 268.2M363.2 268.2L392.6 293.8M333.9 207.9L363.2 252.3M363.2 252.3L392.6 293.8M333.9 297.4L363.2 302.5M363.2 302.5L392.6 303.0M333.9 238.7L363.2 274.7M363.2 274.7L392.6 303.1M333.9 279.1L363.2 283.3M363.2 283.3L392.6 301.8M333.9 261.5L363.2 291.9M363.2 291.9L392.6 303.2M333.9 265.5L363.2 279.8M363.2 279.8L392.6 303.0M333.9 229.2L363.2 280.0M363.2 280.0L392.6 294.8M333.9 282.6L363.2 297.6M363.2 297.6L392.6 301.7M333.9 247.8L363.2 277.2M363.2 277.2L392.6 303.1M333.9 280.2L363.2 301.9M363.2 301.9L392.6 302.8M333.9 201.2L363.2 276.4M363.2 276.4L392.6 299.7M333.9 229.3L363.2 270.6M363.2 270.6L392.6 297.7M333.9 203.5L363.2 282.4M363.2 282.4L392.6 268.0M333.9 296.3L363.2 288.4M363.2 288.4L392.6 303.2M333.9 222.9L363.2 260.1M363.2 260.1L392.6 298.8M333.9 235.1L363.2 274.2M363.2 274.2L392.6 298.0M333.9 278.0L363.2 284.8M363.2 284.8L392.6 302.8M333.9 219.2L363.2 279.3M363.2 279.3L392.6 302.9M333.9 270.3L363.2 290.4M363.2 290.4L392.6 302.9M333.9 212.2L363.2 274.0M363.2 274.0L392.6 285.0M333.9 243.3L363.2 281.0M363.2 281.0L392.6 303.1M333.9 295.0L363.2 292.3M363.2 292.3L392.6 303.3M333.9 268.6L363.2 302.1M363.2 302.1L392.6 302.8M333.9 269.7L363.2 301.6M363.2 301.6L392.6 303.2M333.9 217.0L363.2 254.2M363.2 254.2L392.6 298.4M333.9 271.1L363.2 288.9M363.2 288.9L392.6 302.9M333.9 237.4L363.2 278.4M363.2 278.4L392.6 302.9M333.9 249.7L363.2 282.2M363.2 282.2L392.6 296.3M333.9 221.8L363.2 264.3M363.2 264.3L392.6 295.7M333.9 297.5L363.2 301.8M363.2 301.8L392.6 302.9M333.9 271.9L363.2 282.0M363.2 282.0L392.6 303.3M333.9 210.3L363.2 273.5M363.2 273.5L392.6 265.5M333.9 207.3L363.2 253.8M363.2 253.8L392.6 291.5M333.9 257.6L363.2 285.0M363.2 285.0L392.6 300.8M333.9 249.5L363.2 296.1M363.2 296.1L392.6 302.8M333.9 284.1L363.2 298.9M363.2 298.9L392.6 303.3M333.9 237.1L363.2 285.8M363.2 285.8L392.6 302.9M333.9 209.5L363.2 280.8M363.2 280.8L392.6 299.3M333.9 248.2L363.2 284.1M363.2 284.1L392.6 298.5M333.9 298.8L363.2 302.8M363.2 302.8L392.6 303.3M333.9 246.5L363.2 273.6M363.2 273.6L392.6 294.5M333.9 243.9L363.2 293.0M363.2 293.0L392.6 302.9M333.9 281.9L363.2 290.3M363.2 290.3L392.6 303.3M333.9 265.7L363.2 298.2M363.2 298.2L392.6 302.8M333.9 273.1L363.2 291.7M363.2 291.7L392.6 303.3M333.9 199.5L363.2 281.2M363.2 281.2L392.6 285.9M333.9 275.6L363.2 302.3M363.2 302.3L392.6 302.3M333.9 276.9L363.2 281.8M333.9 260.5L363.2 291.1M333.9 262.9L363.2 293.4M333.9 197.0L363.2 278.7M333.9 202.9L363.2 249.8M333.9 275.7L363.2 298.7M333.9 293.3L363.2 287.8M333.9 267.3L363.2 301.8M333.9 214.4L363.2 275.7M333.9 221.4L363.2 260.9M333.9 241.1L363.2 288.3M333.9 215.0L363.2 287.3M333.9 252.8L363.2 278.9M333.9 286.9L363.2 296.1M333.9 226.9L363.2 280.3M333.9 268.7L363.2 301.9M333.9 213.4L363.2 275.3M333.9 264.6L363.2 298.1M333.9 266.4L363.2 282.2M333.9 199.1L363.2 262.1M333.9 240.6L363.2 282.5M333.9 200.2L363.2 267.1M333.9 226.1L363.2 289.1M333.9 267.4L363.2 289.5M333.9 246.1L363.2 277.4M333.9 299.4L363.2 302.3M333.9 223.0L363.2 280.1M333.9 289.1L363.2 302.8M333.9 280.7L363.2 301.6M333.9 225.2L363.2 289.9M333.9 248.8L363.2 289.9M333.9 223.4L363.2 281.9M333.9 207.3L363.2 284.1M333.9 251.5L363.2 282.6M333.9 266.9L363.2 301.9M333.9 227.4L363.2 284.6M333.9 264.0L363.2 301.9M333.9 248.6L363.2 291.3M333.9 248.2L363.2 297.2M333.9 270.8L363.2 297.9" fill="none" stroke="#000" stroke-opacity="0.11" stroke-width="0.4"/><g fill="#F8766D" fill-opacity="0.5"><circle cx="330.7" cy="297.1" r=".6"/><circle cx="327.0" cy="272.7" r=".6"/><circle cx="327.3" cy="249.5" r=".6"/><circle cx="341.7" cy="265.4" r=".6"/><circle cx="325.8" cy="285.6" r=".6"/><circle cx="337.5" cy="273.6" r=".6"/><circle cx="340.7" cy="288.7" r=".6"/><circle cx="336.3" cy="213.5" r=".6"/><circle cx="337.6" cy="289.6" r=".6"/><circle cx="329.2" cy="262.4" r=".6"/><circle cx="326.4" cy="264.5" r=".6"/><circle cx="341.4" cy="199.8" r=".6"/><circle cx="327.8" cy="231.6" r=".6"/><circle cx="327.7" cy="230.3" r=".6"/><circle cx="326.1" cy="283.4" r=".6"/><circle cx="332.3" cy="262.6" r=".6"/><circle cx="331.9" cy="281.1" r=".6"/><circle cx="330.5" cy="257.1" r=".6"/><circle cx="331.1" cy="210.3" r=".6"/><circle cx="338.1" cy="242.1" r=".6"/><circle cx="331.4" cy="254.7" r=".6"/><circle cx="335.3" cy="265.0" r=".6"/><circle cx="333.5" cy="214.9" r=".6"/><circle cx="340.8" cy="207.9" r=".6"/><circle cx="338.4" cy="297.4" r=".6"/><circle cx="337.6" cy="238.7" r=".6"/><circle cx="328.1" cy="279.1" r=".6"/><circle cx="325.4" cy="261.5" r=".6"/><circle cx="326.6" cy="265.5" r=".6"/><circle cx="327.2" cy="229.2" r=".6"/><circle cx="341.9" cy="282.6" r=".6"/><circle cx="326.9" cy="247.8" r=".6"/><circle cx="337.3" cy="280.2" r=".6"/><circle cx="334.0" cy="201.2" r=".6"/><circle cx="327.1" cy="229.3" r=".6"/><circle cx="333.3" cy="203.5" r=".6"/><circle cx="342.5" cy="296.3" r=".6"/><circle cx="332.0" cy="222.9" r=".6"/><circle cx="342.5" cy="235.1" r=".6"/><circle cx="335.4" cy="278.0" r=".6"/><circle cx="339.6" cy="219.2" r=".6"/><circle cx="341.6" cy="270.3" r=".6"/><circle cx="342.1" cy="212.2" r=".6"/><circle cx="329.9" cy="243.3" r=".6"/><circle cx="338.8" cy="295.0" r=".6"/><circle cx="334.3" cy="268.6" r=".6"/><circle cx="333.8" cy="269.7" r=".6"/><circle cx="336.2" cy="217.0" r=".6"/><circle cx="332.8" cy="271.1" r=".6"/><circle cx="328.2" cy="237.4" r=".6"/><circle cx="335.9" cy="249.7" r=".6"/><circle cx="337.9" cy="221.8" r=".6"/><circle cx="334.3" cy="297.5" r=".6"/><circle cx="335.8" cy="271.9" r=".6"/><circle cx="333.6" cy="210.3" r=".6"/><circle cx="332.3" cy="207.3" r=".6"/><circle cx="337.7" cy="257.6" r=".6"/><circle cx="338.1" cy="249.5" r=".6"/><circle cx="336.3" cy="284.1" r=".6"/><circle cx="329.6" cy="237.1" r=".6"/><circle cx="327.7" cy="209.5" r=".6"/><circle cx="333.2" cy="248.2" r=".6"/><circle cx="331.5" cy="298.8" r=".6"/><circle cx="340.1" cy="246.5" r=".6"/><circle cx="339.0" cy="243.9" r=".6"/><circle cx="332.4" cy="281.9" r=".6"/><circle cx="334.8" cy="265.7" r=".6"/><circle cx="332.3" cy="273.1" r=".6"/><circle cx="337.8" cy="199.5" r=".6"/><circle cx="325.8" cy="275.6" r=".6"/><circle cx="328.1" cy="276.9" r=".6"/><circle cx="340.8" cy="260.5" r=".6"/><circle cx="332.9" cy="262.9" r=".6"/><circle cx="330.2" cy="197.0" r=".6"/><circle cx="325.2" cy="202.9" r=".6"/><circle cx="336.7" cy="275.7" r=".6"/><circle cx="341.4" cy="293.3" r=".6"/><circle cx="327.6" cy="267.3" r=".6"/><circle cx="338.9" cy="214.4" r=".6"/><circle cx="330.3" cy="221.4" r=".6"/><circle cx="328.2" cy="241.1" r=".6"/><circle cx="328.3" cy="215.0" r=".6"/><circle cx="325.3" cy="252.8" r=".6"/><circle cx="338.5" cy="286.9" r=".6"/><circle cx="333.6" cy="226.9" r=".6"/><circle cx="330.1" cy="268.7" r=".6"/><circle cx="332.7" cy="213.4" r=".6"/><circle cx="329.8" cy="264.6" r=".6"/><circle cx="342.4" cy="266.4" r=".6"/><circle cx="338.6" cy="199.1" r=".6"/><circle cx="338.7" cy="240.6" r=".6"/><circle cx="339.4" cy="200.2" r=".6"/><circle cx="325.3" cy="226.1" r=".6"/><circle cx="335.4" cy="267.4" r=".6"/><circle cx="337.3" cy="246.1" r=".6"/><circle cx="340.4" cy="299.4" r=".6"/><circle cx="329.3" cy="223.0" r=".6"/><circle cx="335.2" cy="289.1" r=".6"/><circle cx="328.7" cy="280.7" r=".6"/><circle cx="333.0" cy="225.2" r=".6"/><circle cx="335.2" cy="248.8" r=".6"/><circle cx="333.7" cy="223.4" r=".6"/><circle cx="338.1" cy="207.3" r=".6"/><circle cx="326.3" cy="251.5" r=".6"/><circle cx="329.5" cy="266.9" r=".6"/><circle cx="340.4" cy="227.4" r=".6"/><circle cx="331.7" cy="264.0" r=".6"/><circle cx="336.9" cy="248.6" r=".6"/><circle cx="332.5" cy="248.2" r=".6"/><circle cx="331.4" cy="270.8" r=".6"/></g><g fill="#00BA38" fill-opacity="0.5"><circle cx="360.9" cy="302.6" r=".6"/><circle cx="355.2" cy="302.1" r=".6"/><circle cx="368.4" cy="287.4" r=".6"/><circle cx="362.8" cy="300.9" r=".6"/><circle cx="369.5" cy="296.0" r=".6"/><circle cx="367.1" cy="301.7" r=".6"/><circle cx="359.5" cy="295.2" r=".6"/><circle cx="370.9" cy="286.0" r=".6"/><circle cx="356.3" cy="286.3" r=".6"/><circle cx="365.3" cy="284.8" r=".6"/><circle cx="355.9" cy="294.3" r=".6"/><circle cx="371.4" cy="271.3" r=".6"/><circle cx="369.2" cy="288.2" r=".6"/><circle cx="370.7" cy="283.8" r=".6"/><circle cx="367.0" cy="299.7" r=".6"/><circle cx="360.5" cy="284.4" r=".6"/><circle cx="371.3" cy="295.3" r=".6"/><circle cx="368.2" cy="290.8" r=".6"/><circle cx="370.6" cy="253.1" r=".6"/><circle cx="357.1" cy="275.5" r=".6"/><circle cx="356.5" cy="299.8" r=".6"/><circle cx="363.5" cy="280.0" r=".6"/><circle cx="358.2" cy="268.2" r=".6"/><circle cx="356.6" cy="252.3" r=".6"/><circle cx="360.4" cy="302.5" r=".6"/><circle cx="359.1" cy="274.7" r=".6"/><circle cx="369.4" cy="283.3" r=".6"/><circle cx="365.6" cy="291.9" r=".6"/><circle cx="367.6" cy="279.8" r=".6"/><circle cx="361.5" cy="280.0" r=".6"/><circle cx="363.2" cy="297.6" r=".6"/><circle cx="356.8" cy="277.2" r=".6"/><circle cx="366.1" cy="301.9" r=".6"/><circle cx="360.8" cy="276.4" r=".6"/><circle cx="366.2" cy="270.6" r=".6"/><circle cx="364.0" cy="282.4" r=".6"/><circle cx="362.6" cy="288.4" r=".6"/><circle cx="367.4" cy="260.1" r=".6"/><circle cx="369.0" cy="274.2" r=".6"/><circle cx="356.5" cy="284.8" r=".6"/><circle cx="367.1" cy="279.3" r=".6"/><circle cx="358.2" cy="290.4" r=".6"/><circle cx="363.7" cy="274.0" r=".6"/><circle cx="355.0" cy="281.0" r=".6"/><circle cx="367.3" cy="292.3" r=".6"/><circle cx="364.9" cy="302.1" r=".6"/><circle cx="369.7" cy="301.6" r=".6"/><circle cx="360.2" cy="254.2" r=".6"/><circle cx="357.5" cy="288.9" r=".6"/><circle cx="363.4" cy="278.4" r=".6"/><circle cx="368.5" cy="282.2" r=".6"/><circle cx="364.2" cy="264.3" r=".6"/><circle cx="363.5" cy="301.8" r=".6"/><circle cx="360.1" cy="282.0" r=".6"/><circle cx="361.2" cy="273.5" r=".6"/><circle cx="356.6" cy="253.8" r=".6"/><circle cx="364.3" cy="285.0" r=".6"/><circle cx="362.0" cy="296.1" r=".6"/><circle cx="368.9" cy="298.9" r=".6"/><circle cx="371.2" cy="285.8" r=".6"/><circle cx="366.6" cy="280.8" r=".6"/><circle cx="370.3" cy="284.1" r=".6"/><circle cx="370.8" cy="302.8" r=".6"/><circle cx="360.8" cy="273.6" r=".6"/><circle cx="369.1" cy="293.0" r=".6"/><circle cx="366.4" cy="290.3" r=".6"/><circle cx="355.2" cy="298.2" r=".6"/><circle cx="368.2" cy="291.7" r=".6"/><circle cx="366.4" cy="281.2" r=".6"/><circle cx="368.6" cy="302.3" r=".6"/><circle cx="357.5" cy="281.8" r=".6"/><circle cx="357.0" cy="291.1" r=".6"/><circle cx="360.5" cy="293.4" r=".6"/><circle cx="359.6" cy="278.7" r=".6"/><circle cx="360.4" cy="249.8" r=".6"/><circle cx="359.7" cy="298.7" r=".6"/><circle cx="361.6" cy="287.8" r=".6"/><circle cx="363.8" cy="301.8" r=".6"/><circle cx="357.4" cy="275.7" r=".6"/><circle cx="363.0" cy="260.9" r=".6"/><circle cx="367.7" cy="288.3" r=".6"/><circle cx="366.8" cy="287.3" r=".6"/><circle cx="371.6" cy="278.9" r=".6"/><circle cx="371.9" cy="296.1" r=".6"/><circle cx="358.5" cy="280.3" r=".6"/><circle cx="362.4" cy="301.9" r=".6"/><circle cx="371.0" cy="275.3" r=".6"/><circle cx="363.2" cy="298.1" r=".6"/><circle cx="360.0" cy="282.2" r=".6"/><circle cx="365.7" cy="262.1" r=".6"/><circle cx="356.5" cy="282.5" r=".6"/><circle cx="357.7" cy="267.1" r=".6"/><circle cx="356.7" cy="289.1" r=".6"/><circle cx="368.0" cy="289.5" r=".6"/><circle cx="354.7" cy="277.4" r=".6"/><circle cx="363.0" cy="302.3" r=".6"/><circle cx="358.8" cy="280.1" r=".6"/><circle cx="356.0" cy="302.8" r=".6"/><circle cx="365.5" cy="301.6" r=".6"/><circle cx="361.1" cy="289.9" r=".6"/><circle cx="369.0" cy="289.9" r=".6"/><circle cx="368.8" cy="281.9" r=".6"/><circle cx="367.0" cy="284.1" r=".6"/><circle cx="371.8" cy="282.6" r=".6"/><circle cx="367.1" cy="301.9" r=".6"/><circle cx="358.2" cy="284.6" r=".6"/><circle cx="371.3" cy="301.9" r=".6"/><circle cx="370.0" cy="291.3" r=".6"/><circle cx="364.7" cy="297.2" r=".6"/><circle cx="363.4" cy="297.9" r=".6"/></g><g fill="#619CFF" fill-opacity="0.5"><circle cx="400.0" cy="302.9" r=".6"/><circle cx="400.7" cy="303.3" r=".6"/><circle cx="391.5" cy="298.5" r=".6"/><circle cx="398.1" cy="301.5" r=".6"/><circle cx="394.2" cy="302.9" r=".6"/><circle cx="388.6" cy="303.2" r=".6"/><circle cx="398.7" cy="303.1" r=".6"/><circle cx="397.9" cy="295.1" r=".6"/><circle cx="388.6" cy="303.1" r=".6"/><circle cx="388.9" cy="302.9" r=".6"/><circle cx="386.4" cy="303.2" r=".6"/><circle cx="386.5" cy="301.7" r=".6"/><circle cx="390.4" cy="295.3" r=".6"/><circle cx="388.7" cy="294.4" r=".6"/><circle cx="384.2" cy="303.3" r=".6"/><circle cx="391.0" cy="303.0" r=".6"/><circle cx="398.0" cy="303.2" r=".6"/><circle cx="400.8" cy="303.0" r=".6"/><circle cx="385.8" cy="295.2" r=".6"/><circle cx="387.3" cy="303.0" r=".6"/><circle cx="398.3" cy="302.3" r=".6"/><circle cx="395.3" cy="303.1" r=".6"/><circle cx="385.0" cy="293.8" r=".6"/><circle cx="389.4" cy="293.8" r=".6"/><circle cx="392.6" cy="303.0" r=".6"/><circle cx="398.5" cy="303.1" r=".6"/><circle cx="391.8" cy="301.8" r=".6"/><circle cx="384.3" cy="303.2" r=".6"/><circle cx="389.4" cy="303.0" r=".6"/><circle cx="392.1" cy="294.8" r=".6"/><circle cx="395.0" cy="301.7" r=".6"/><circle cx="399.8" cy="303.1" r=".6"/><circle cx="396.0" cy="302.8" r=".6"/><circle cx="384.7" cy="299.7" r=".6"/><circle cx="387.6" cy="297.7" r=".6"/><circle cx="387.1" cy="268.0" r=".6"/><circle cx="388.9" cy="303.2" r=".6"/><circle cx="393.8" cy="298.8" r=".6"/><circle cx="391.1" cy="298.0" r=".6"/><circle cx="396.8" cy="302.8" r=".6"/><circle cx="398.3" cy="302.9" r=".6"/><circle cx="390.4" cy="302.9" r=".6"/><circle cx="385.5" cy="285.0" r=".6"/><circle cx="399.3" cy="303.1" r=".6"/><circle cx="399.7" cy="303.3" r=".6"/><circle cx="395.7" cy="302.8" r=".6"/><circle cx="398.9" cy="303.2" r=".6"/><circle cx="400.3" cy="298.4" r=".6"/><circle cx="392.2" cy="302.9" r=".6"/><circle cx="401.1" cy="302.9" r=".6"/><circle cx="390.3" cy="296.3" r=".6"/><circle cx="398.8" cy="295.7" r=".6"/><circle cx="395.4" cy="302.9" r=".6"/><circle cx="390.6" cy="303.3" r=".6"/><circle cx="395.0" cy="265.5" r=".6"/><circle cx="388.4" cy="291.5" r=".6"/><circle cx="393.5" cy="300.8" r=".6"/><circle cx="389.0" cy="302.8" r=".6"/><circle cx="395.2" cy="303.3" r=".6"/><circle cx="397.8" cy="302.9" r=".6"/><circle cx="388.2" cy="299.3" r=".6"/><circle cx="385.7" cy="298.5" r=".6"/><circle cx="392.2" cy="303.3" r=".6"/><circle cx="398.5" cy="294.5" r=".6"/><circle cx="391.5" cy="302.9" r=".6"/><circle cx="396.5" cy="303.3" r=".6"/><circle cx="389.2" cy="302.8" r=".6"/><circle cx="397.2" cy="303.3" r=".6"/><circle cx="393.9" cy="285.9" r=".6"/><circle cx="384.7" cy="302.3" r=".6"/></g><rect x="322.90" y="225.1" width="22.01" height="47.50" fill="none" stroke="#939393" stroke-width="0.6"/><line x1="322.90" x2="344.91" y1="252.4" y2="252.4" stroke="#4a4a4a" stroke-width="0.8"/><rect x="352.25" y="271.5" width="22.01" height="30.00" fill="none" stroke="#939393" stroke-width="0.6"/><line x1="352.25" x2="374.25" y1="285.2" y2="285.2" stroke="#4a4a4a" stroke-width="0.8"/><rect x="381.59" y="293.5" width="22.01" height="9.80" fill="none" stroke="#939393" stroke-width="0.6"/><line x1="381.59" x2="403.60" y1="302.8" y2="302.8" stroke="#4a4a4a" stroke-width="0.8"/></g><path d="M333.91 204.30V203.40H392.59V204.30" fill="none" stroke="#9a9a9a" stroke-width="0.7"/><text x="363.25" y="203.50" font-size="4" text-anchor="middle" fill="#444" font-family='"Liberation Sans", sans-serif'>***</text><path d="M333.91 210.70V209.80H363.25V210.70" fill="none" stroke="#9a9a9a" stroke-width="0.7"/><text x="348.58" y="209.90" font-size="4" text-anchor="middle" fill="#444" font-family='"Liberation Sans", sans-serif'>****</text><rect x="316.3" y="189.7" width="93.90" height="118.50" fill="none" stroke="#c8c8c8" stroke-width="1.0"/><line x1="316.3" x2="316.3" y1="189.2" y2="308.7" stroke="#959595" stroke-width="0.85"/><line x1="314.8" x2="316.3" y1="303.30" y2="303.30" stroke="#777" stroke-width="0.6"/><text x="313.10" y="305.80" class="ax" text-anchor="end">10</text><line x1="314.8" x2="316.3" y1="264.10" y2="264.10" stroke="#777" stroke-width="0.6"/><text x="313.10" y="266.60" class="ax" text-anchor="end">100</text><line x1="314.8" x2="316.3" y1="224.90" y2="224.90" stroke="#777" stroke-width="0.6"/><text x="313.10" y="227.40" class="ax" text-anchor="end">1,000</text><line x1="333.91" x2="333.91" y1="308.2" y2="309.8" stroke="#888" stroke-width="0.6"/><text transform="translate(337.01,315.10) rotate(-45)" class="ax xl" text-anchor="end">Admission</text><line x1="363.25" x2="363.25" y1="308.2" y2="309.8" stroke="#888" stroke-width="0.6"/><text transform="translate(366.35,315.10) rotate(-45)" class="ax xl" text-anchor="end">Discharge</text><line x1="392.59" x2="392.59" y1="308.2" y2="309.8" stroke="#888" stroke-width="0.6"/><text transform="translate(395.69,315.10) rotate(-45)" class="ax xl" text-anchor="end">First follow-up</text><text transform="translate(291.20,249.25) rotate(-90)" class="ax" text-anchor="middle">BNP (<100 pg/mL)</text><clipPath id="c8"><rect x="452.6" y="189.7" width="93.60000000000002" height="118.5"/></clipPath><g clip-path="url(#c8)"><line x1="452.6" x2="546.2" y1="292.75" y2="292.75" stroke="#f6f6f6" stroke-width="0.6"/><line x1="452.6" x2="546.2" y1="266.45" y2="266.45" stroke="#f6f6f6" stroke-width="0.6"/><line x1="452.6" x2="546.2" y1="240.15" y2="240.15" stroke="#f6f6f6" stroke-width="0.6"/><line x1="452.6" x2="546.2" y1="213.85" y2="213.85" stroke="#f6f6f6" stroke-width="0.6"/><line x1="452.6" x2="546.2" y1="305.90" y2="305.90" stroke="#eeeeee" stroke-width="0.7"/><line x1="452.6" x2="546.2" y1="279.60" y2="279.60" stroke="#eeeeee" stroke-width="0.7"/><line x1="452.6" x2="546.2" y1="253.30" y2="253.30" stroke="#eeeeee" stroke-width="0.7"/><line x1="452.6" x2="546.2" y1="227.00" y2="227.00" stroke="#eeeeee" stroke-width="0.7"/><line x1="452.6" x2="546.2" y1="200.70" y2="200.70" stroke="#eeeeee" stroke-width="0.7"/><line x1="465.97" x2="465.97" y1="189.7" y2="308.2" stroke="#eeeeee" stroke-width="0.7"/><line x1="488.26" x2="488.26" y1="189.7" y2="308.2" stroke="#eeeeee" stroke-width="0.7"/><line x1="510.54" x2="510.54" y1="189.7" y2="308.2" stroke="#eeeeee" stroke-width="0.7"/><line x1="532.83" x2="532.83" y1="189.7" y2="308.2" stroke="#eeeeee" stroke-width="0.7"/><line x1="452.6" x2="546.2" y1="259.88" y2="259.88" stroke="#7a7a7a" stroke-width="0.65" stroke-dasharray="1 0.95"/><line x1="465.97" x2="465.97" y1="220.3" y2="285.3" stroke="#8a8a8a" stroke-width="0.6"/><rect x="457.61" y="239.5" width="16.71" height="19.10" fill="#fdcfcc" stroke="#777" stroke-width="0.6"/><line x1="488.26" x2="488.26" y1="218.3" y2="263.2" stroke="#8a8a8a" stroke-width="0.6"/><rect x="479.90" y="232.4" width="16.71" height="12.90" fill="#d1e3a6" stroke="#777" stroke-width="0.6"/><line x1="510.54" x2="510.54" y1="216.6" y2="259.2" stroke="#8a8a8a" stroke-width="0.6"/><rect x="502.19" y="233.2" width="16.71" height="13.30" fill="#a6e9ea" stroke="#777" stroke-width="0.6"/><line x1="532.83" x2="532.83" y1="228.3" y2="250" stroke="#8a8a8a" stroke-width="0.6"/><rect x="524.47" y="236" width="16.71" height="6.50" fill="#ebd1ff" stroke="#777" stroke-width="0.6"/><path d="M466.0 273.6L488.3 244.6M488.3 244.6L510.5 246.8M510.5 246.8L532.8 244.9M466.0 221.7L488.3 235.1M488.3 235.1L510.5 229.2M510.5 229.2L532.8 238.6M466.0 284.0L488.3 260.8M488.3 260.8L510.5 255.4M510.5 255.4L532.8 247.9M466.0 282.6L488.3 241.7M488.3 241.7L510.5 244.2M510.5 244.2L532.8 246.9M466.0 249.0L488.3 237.3M488.3 237.3L510.5 235.9M510.5 235.9L532.8 238.8M466.0 250.0L488.3 242.7M488.3 242.7L510.5 241.5M510.5 241.5L532.8 239.0M466.0 256.0L488.3 236.3M488.3 236.3L510.5 244.6M510.5 244.6L532.8 244.2M466.0 273.0L488.3 244.9M488.3 244.9L510.5 246.4M510.5 246.4L532.8 244.1M466.0 240.1L488.3 240.2M488.3 240.2L510.5 238.0M510.5 238.0L532.8 236.8M466.0 231.2L488.3 236.0M488.3 236.0L510.5 239.8M510.5 239.8L532.8 239.0M466.0 245.6L488.3 232.9M488.3 232.9L510.5 243.6M510.5 243.6L532.8 238.2M466.0 255.5L488.3 243.1M488.3 243.1L510.5 243.0M510.5 243.0L532.8 242.0M466.0 257.2L488.3 244.1M488.3 244.1L510.5 246.0M510.5 246.0L532.8 242.8M466.0 255.8L488.3 239.5M488.3 239.5L510.5 241.7M510.5 241.7L532.8 241.5M466.0 242.1L488.3 234.8M488.3 234.8L510.5 239.7M510.5 239.7L532.8 236.7M466.0 236.9L488.3 225.6M488.3 225.6L510.5 229.0M510.5 229.0L532.8 235.9M466.0 226.6L488.3 235.3M488.3 235.3L510.5 227.5M510.5 227.5L532.8 238.9M466.0 273.7L488.3 256.8M488.3 256.8L510.5 241.7M510.5 241.7L532.8 242.9M466.0 225.0L488.3 225.4M488.3 225.4L510.5 236.5M510.5 236.5L532.8 239.0M466.0 280.7L488.3 250.5M488.3 250.5L510.5 243.3M510.5 243.3L532.8 242.1M466.0 263.5L488.3 240.3M488.3 240.3L510.5 240.9M510.5 240.9L532.8 242.2M466.0 246.9L488.3 241.9M488.3 241.9L510.5 236.8M510.5 236.8L532.8 240.2M466.0 255.1L488.3 238.2M488.3 238.2L510.5 242.0M510.5 242.0L532.8 240.2M466.0 277.7L488.3 239.5M488.3 239.5L510.5 250.7M510.5 250.7L532.8 244.4M466.0 245.1L488.3 239.9M488.3 239.9L510.5 238.9M510.5 238.9L532.8 236.3M466.0 221.8L488.3 223.4M488.3 223.4L510.5 225.4M510.5 225.4L532.8 238.3M466.0 245.3L488.3 238.3M488.3 238.3L510.5 232.5M510.5 232.5L532.8 239.6M466.0 256.6L488.3 237.5M488.3 237.5L510.5 238.0M510.5 238.0L532.8 243.8M466.0 239.8L488.3 240.2M488.3 240.2L510.5 237.4M510.5 237.4L532.8 236.4M466.0 270.8L488.3 245.8M488.3 245.8L510.5 241.0M510.5 241.0L532.8 241.9M466.0 257.1L488.3 244.5M488.3 244.5L510.5 240.7M510.5 240.7L532.8 239.9M466.0 236.3L488.3 234.3M488.3 234.3L510.5 241.7M510.5 241.7L532.8 240.5M466.0 222.0L488.3 234.2M488.3 234.2L510.5 223.6M510.5 223.6L532.8 236.2M466.0 228.8L488.3 235.6M488.3 235.6L510.5 239.9M510.5 239.9L532.8 237.7M466.0 261.8L488.3 241.6M488.3 241.6L510.5 247.9M510.5 247.9L532.8 244.8M466.0 278.2L488.3 252.0M488.3 252.0L510.5 242.4M510.5 242.4L532.8 246.8M466.0 242.2L488.3 242.1M488.3 242.1L510.5 236.8M510.5 236.8L532.8 237.4M466.0 241.9L488.3 242.0M488.3 242.0L510.5 239.6M510.5 239.6L532.8 238.3M466.0 244.3L488.3 239.7M488.3 239.7L510.5 235.3M510.5 235.3L532.8 240.2M466.0 249.4L488.3 241.7M488.3 241.7L510.5 242.9M510.5 242.9L532.8 240.5M466.0 248.7L488.3 235.5M488.3 235.5L510.5 237.4M510.5 237.4L532.8 240.5M466.0 268.3L488.3 242.2M488.3 242.2L510.5 248.5M510.5 248.5L532.8 241.7M466.0 244.5L488.3 232.5M488.3 232.5L510.5 244.5M510.5 244.5L532.8 241.7M466.0 230.3L488.3 237.2M488.3 237.2L510.5 236.3M510.5 236.3L532.8 240.2M466.0 222.9L488.3 221.5M488.3 221.5L510.5 231.9M510.5 231.9L532.8 236.4M466.0 240.7L488.3 238.2M488.3 238.2L510.5 228.6M510.5 228.6L532.8 240.3M466.0 256.6L488.3 237.2M488.3 237.2L510.5 246.5M510.5 246.5L532.8 242.7M466.0 234.0L488.3 234.4M488.3 234.4L510.5 239.4M510.5 239.4L532.8 236.2M466.0 225.4L488.3 220.4M488.3 220.4L510.5 223.9M510.5 223.9L532.8 236.3M466.0 294.4L488.3 233.9M488.3 233.9L510.5 238.5M510.5 238.5L532.8 241.4M466.0 275.3L488.3 240.0M488.3 240.0L510.5 244.7M510.5 244.7L532.8 246.5M466.0 246.2L488.3 236.4M488.3 236.4L510.5 243.5M510.5 243.5L532.8 241.7M466.0 232.5L488.3 224.9M488.3 224.9L510.5 238.7M510.5 238.7L532.8 239.8M466.0 247.3L488.3 235.4M488.3 235.4L510.5 244.2M510.5 244.2L532.8 241.9M466.0 222.4L488.3 222.8M488.3 222.8L510.5 233.4M510.5 233.4L532.8 236.9M466.0 254.9L488.3 236.3M488.3 236.3L510.5 240.9M510.5 240.9L532.8 240.1M466.0 243.4L488.3 240.4M488.3 240.4L510.5 232.8M510.5 232.8L532.8 239.3M466.0 243.7L488.3 230.4M488.3 230.4L510.5 239.6M510.5 239.6L532.8 237.6M466.0 276.5L488.3 244.5M488.3 244.5L510.5 242.2M510.5 242.2L532.8 241.5M466.0 243.5L488.3 241.8M488.3 241.8L510.5 231.6M510.5 231.6L532.8 236.7M466.0 258.5L488.3 249.4M488.3 249.4L510.5 239.5M510.5 239.5L532.8 241.4M466.0 254.5L488.3 239.2M488.3 239.2L510.5 245.0M510.5 245.0L532.8 241.5M466.0 271.9L488.3 250.6M488.3 250.6L510.5 239.8M510.5 239.8L532.8 244.1M466.0 239.1L488.3 233.9M488.3 233.9L510.5 235.3M510.5 235.3L532.8 240.8M466.0 254.8L488.3 244.2M488.3 244.2L510.5 241.4M510.5 241.4L532.8 243.7M466.0 275.5L488.3 240.0M488.3 240.0L510.5 248.1M510.5 248.1L532.8 240.7M466.0 301.0L488.3 237.3M488.3 237.3L510.5 243.0M510.5 243.0L532.8 243.1M466.0 281.7L488.3 242.8M488.3 242.8L510.5 244.8M510.5 244.8L532.8 249.1M466.0 236.3L488.3 235.9M488.3 235.9L510.5 240.7M510.5 240.7L532.8 234.0M466.0 238.8L488.3 227.2M488.3 227.2L510.5 226.6M510.5 226.6L532.8 237.2M466.0 252.9L488.3 240.8M488.3 240.8L510.5 236.4M510.5 236.4L532.8 240.3M466.0 241.7L488.3 240.5M488.3 240.5L510.5 236.9M510.5 236.9L532.8 237.4M466.0 241.7L488.3 239.4M488.3 239.4L510.5 236.4M510.5 236.4L532.8 237.8M466.0 226.6L488.3 238.0M488.3 238.0L510.5 237.1M510.5 237.1L532.8 233.0M466.0 232.6L488.3 227.4M488.3 227.4L510.5 232.1M510.5 232.1L532.8 240.7M466.0 241.2L488.3 236.7M488.3 236.7L510.5 238.1M510.5 238.1L532.8 241.1M466.0 241.9L488.3 236.4M488.3 236.4L510.5 233.8M510.5 233.8L532.8 234.3M466.0 250.0L488.3 240.1M488.3 240.1L510.5 235.9M510.5 235.9L532.8 241.5M466.0 239.9L488.3 233.4M488.3 233.4L510.5 238.7M510.5 238.7L532.8 234.9M466.0 282.9L488.3 245.1M488.3 245.1L510.5 249.2M510.5 249.2L532.8 242.1M466.0 252.3L488.3 239.4M488.3 239.4L510.5 242.0M466.0 258.3L488.3 248.1M488.3 248.1L510.5 247.1M466.0 275.6L488.3 248.0M488.3 248.0L510.5 244.9M466.0 280.7L488.3 259.0M488.3 259.0L510.5 245.7M466.0 245.1L488.3 241.1M488.3 241.1L510.5 238.9M466.0 255.4L488.3 241.6M488.3 241.6L510.5 238.9M466.0 223.3L488.3 237.4M488.3 237.4L510.5 236.6M466.0 254.1L488.3 243.6M488.3 243.6L510.5 239.7M466.0 224.4L488.3 228.4M488.3 228.4L510.5 234.8M466.0 282.0L488.3 244.8M488.3 244.8L510.5 250.2M466.0 279.5L488.3 244.4M488.3 244.4L510.5 242.6M466.0 249.6L488.3 236.8M488.3 236.8L510.5 240.4M466.0 238.4L488.3 226.5M488.3 226.5L510.5 227.2M466.0 247.6L488.3 244.3M488.3 244.3L510.5 235.1M466.0 252.3L488.3 235.3M488.3 235.3L510.5 244.6M466.0 279.6L488.3 259.8M488.3 259.8L510.5 250.8M466.0 276.0L488.3 253.4M488.3 253.4L510.5 246.7M466.0 241.3L488.3 238.3M488.3 238.3L510.5 240.2M466.0 260.9L488.3 239.1M488.3 239.1L510.5 248.7M466.0 228.1L488.3 234.5M488.3 234.5L510.5 228.3M466.0 244.5L488.3 233.4M466.0 249.5L488.3 240.9M466.0 271.5L488.3 245.0M466.0 242.2L488.3 236.7M466.0 227.8L488.3 231.6M466.0 254.3L488.3 244.5M466.0 260.5L488.3 245.0M466.0 225.2L488.3 234.0M466.0 251.5L488.3 244.2M466.0 272.4L488.3 244.8" fill="none" stroke="#000" stroke-opacity="0.11" stroke-width="0.4"/><g fill="#F8766D" fill-opacity="0.5"><circle cx="469.9" cy="273.6" r=".6"/><circle cx="467.1" cy="221.7" r=".6"/><circle cx="462.1" cy="284.0" r=".6"/><circle cx="464.2" cy="282.6" r=".6"/><circle cx="461.0" cy="249.0" r=".6"/><circle cx="464.7" cy="250.0" r=".6"/><circle cx="461.5" cy="256.0" r=".6"/><circle cx="466.4" cy="273.0" r=".6"/><circle cx="469.0" cy="240.1" r=".6"/><circle cx="467.1" cy="231.2" r=".6"/><circle cx="459.3" cy="245.6" r=".6"/><circle cx="470.0" cy="255.5" r=".6"/><circle cx="463.7" cy="257.2" r=".6"/><circle cx="467.5" cy="255.8" r=".6"/><circle cx="460.1" cy="242.1" r=".6"/><circle cx="471.0" cy="236.9" r=".6"/><circle cx="469.3" cy="226.6" r=".6"/><circle cx="466.3" cy="273.7" r=".6"/><circle cx="464.0" cy="225.0" r=".6"/><circle cx="462.6" cy="280.7" r=".6"/><circle cx="468.9" cy="263.5" r=".6"/><circle cx="462.2" cy="246.9" r=".6"/><circle cx="459.7" cy="255.1" r=".6"/><circle cx="471.5" cy="277.7" r=".6"/><circle cx="467.0" cy="245.1" r=".6"/><circle cx="465.9" cy="221.8" r=".6"/><circle cx="460.7" cy="245.3" r=".6"/><circle cx="460.1" cy="256.6" r=".6"/><circle cx="461.8" cy="239.8" r=".6"/><circle cx="465.6" cy="270.8" r=".6"/><circle cx="463.6" cy="257.1" r=".6"/><circle cx="464.5" cy="236.3" r=".6"/><circle cx="472.1" cy="222.0" r=".6"/><circle cx="467.2" cy="228.8" r=".6"/><circle cx="461.3" cy="261.8" r=".6"/><circle cx="464.0" cy="278.2" r=".6"/><circle cx="462.4" cy="242.2" r=".6"/><circle cx="463.5" cy="241.9" r=".6"/><circle cx="469.5" cy="244.3" r=".6"/><circle cx="462.2" cy="249.4" r=".6"/><circle cx="470.7" cy="248.7" r=".6"/><circle cx="463.1" cy="268.3" r=".6"/><circle cx="467.4" cy="244.5" r=".6"/><circle cx="468.5" cy="230.3" r=".6"/><circle cx="464.6" cy="222.9" r=".6"/><circle cx="462.7" cy="240.7" r=".6"/><circle cx="468.9" cy="256.6" r=".6"/><circle cx="459.9" cy="234.0" r=".6"/><circle cx="461.1" cy="225.4" r=".6"/><circle cx="465.0" cy="294.4" r=".6"/><circle cx="466.1" cy="275.3" r=".6"/><circle cx="467.6" cy="246.2" r=".6"/><circle cx="469.8" cy="232.5" r=".6"/><circle cx="471.1" cy="247.3" r=".6"/><circle cx="471.3" cy="222.4" r=".6"/><circle cx="461.6" cy="254.9" r=".6"/><circle cx="466.8" cy="243.4" r=".6"/><circle cx="471.6" cy="243.7" r=".6"/><circle cx="462.4" cy="276.5" r=".6"/><circle cx="470.0" cy="243.5" r=".6"/><circle cx="471.9" cy="258.5" r=".6"/><circle cx="466.2" cy="254.5" r=".6"/><circle cx="468.5" cy="271.9" r=".6"/><circle cx="464.9" cy="239.1" r=".6"/><circle cx="464.6" cy="254.8" r=".6"/><circle cx="469.9" cy="275.5" r=".6"/><circle cx="472.0" cy="301.0" r=".6"/><circle cx="460.5" cy="281.7" r=".6"/><circle cx="463.2" cy="236.3" r=".6"/><circle cx="470.3" cy="238.8" r=".6"/><circle cx="467.8" cy="252.9" r=".6"/><circle cx="461.4" cy="241.7" r=".6"/><circle cx="467.4" cy="241.7" r=".6"/><circle cx="470.0" cy="226.6" r=".6"/><circle cx="466.5" cy="232.6" r=".6"/><circle cx="466.3" cy="241.2" r=".6"/><circle cx="471.2" cy="241.9" r=".6"/><circle cx="466.9" cy="250.0" r=".6"/><circle cx="462.6" cy="239.9" r=".6"/><circle cx="466.4" cy="282.9" r=".6"/><circle cx="463.9" cy="252.3" r=".6"/><circle cx="467.7" cy="258.3" r=".6"/><circle cx="470.2" cy="275.6" r=".6"/><circle cx="465.5" cy="280.7" r=".6"/><circle cx="471.4" cy="245.1" r=".6"/><circle cx="461.8" cy="255.4" r=".6"/><circle cx="464.4" cy="223.3" r=".6"/><circle cx="472.0" cy="254.1" r=".6"/><circle cx="459.8" cy="224.4" r=".6"/><circle cx="462.2" cy="282.0" r=".6"/><circle cx="461.7" cy="279.5" r=".6"/><circle cx="465.0" cy="249.6" r=".6"/><circle cx="466.1" cy="238.4" r=".6"/><circle cx="470.8" cy="247.6" r=".6"/><circle cx="472.0" cy="252.3" r=".6"/><circle cx="463.4" cy="279.6" r=".6"/><circle cx="459.3" cy="276.0" r=".6"/><circle cx="462.2" cy="241.3" r=".6"/><circle cx="464.6" cy="260.9" r=".6"/><circle cx="465.0" cy="228.1" r=".6"/><circle cx="472.6" cy="244.5" r=".6"/><circle cx="470.7" cy="249.5" r=".6"/><circle cx="467.0" cy="271.5" r=".6"/><circle cx="463.1" cy="242.2" r=".6"/><circle cx="459.7" cy="227.8" r=".6"/><circle cx="471.1" cy="254.3" r=".6"/><circle cx="463.7" cy="260.5" r=".6"/><circle cx="469.5" cy="225.2" r=".6"/><circle cx="468.8" cy="251.5" r=".6"/><circle cx="467.5" cy="272.4" r=".6"/></g><g fill="#7CAE00" fill-opacity="0.5"><circle cx="483.0" cy="244.6" r=".6"/><circle cx="492.0" cy="235.1" r=".6"/><circle cx="493.4" cy="260.8" r=".6"/><circle cx="494.0" cy="241.7" r=".6"/><circle cx="483.0" cy="237.3" r=".6"/><circle cx="493.2" cy="242.7" r=".6"/><circle cx="482.3" cy="236.3" r=".6"/><circle cx="491.5" cy="244.9" r=".6"/><circle cx="485.2" cy="240.2" r=".6"/><circle cx="483.5" cy="236.0" r=".6"/><circle cx="483.7" cy="232.9" r=".6"/><circle cx="492.6" cy="243.1" r=".6"/><circle cx="484.1" cy="244.1" r=".6"/><circle cx="487.0" cy="239.5" r=".6"/><circle cx="487.0" cy="234.8" r=".6"/><circle cx="491.3" cy="225.6" r=".6"/><circle cx="493.9" cy="235.3" r=".6"/><circle cx="493.5" cy="256.8" r=".6"/><circle cx="485.3" cy="225.4" r=".6"/><circle cx="490.5" cy="250.5" r=".6"/><circle cx="486.9" cy="240.3" r=".6"/><circle cx="487.4" cy="241.9" r=".6"/><circle cx="493.7" cy="238.2" r=".6"/><circle cx="486.0" cy="239.5" r=".6"/><circle cx="482.1" cy="239.9" r=".6"/><circle cx="494.9" cy="223.4" r=".6"/><circle cx="492.1" cy="238.3" r=".6"/><circle cx="483.6" cy="237.5" r=".6"/><circle cx="487.1" cy="240.2" r=".6"/><circle cx="486.2" cy="245.8" r=".6"/><circle cx="493.8" cy="244.5" r=".6"/><circle cx="491.8" cy="234.3" r=".6"/><circle cx="486.5" cy="234.2" r=".6"/><circle cx="487.2" cy="235.6" r=".6"/><circle cx="481.7" cy="241.6" r=".6"/><circle cx="493.1" cy="252.0" r=".6"/><circle cx="491.4" cy="242.1" r=".6"/><circle cx="482.6" cy="242.0" r=".6"/><circle cx="488.4" cy="239.7" r=".6"/><circle cx="491.1" cy="241.7" r=".6"/><circle cx="489.5" cy="235.5" r=".6"/><circle cx="490.1" cy="242.2" r=".6"/><circle cx="494.1" cy="232.5" r=".6"/><circle cx="490.1" cy="237.2" r=".6"/><circle cx="484.0" cy="221.5" r=".6"/><circle cx="482.6" cy="238.2" r=".6"/><circle cx="493.8" cy="237.2" r=".6"/><circle cx="486.7" cy="234.4" r=".6"/><circle cx="483.5" cy="220.4" r=".6"/><circle cx="486.2" cy="233.9" r=".6"/><circle cx="487.5" cy="240.0" r=".6"/><circle cx="488.3" cy="236.4" r=".6"/><circle cx="488.7" cy="224.9" r=".6"/><circle cx="488.6" cy="235.4" r=".6"/><circle cx="489.1" cy="222.8" r=".6"/><circle cx="481.6" cy="236.3" r=".6"/><circle cx="488.9" cy="240.4" r=".6"/><circle cx="489.0" cy="230.4" r=".6"/><circle cx="483.5" cy="244.5" r=".6"/><circle cx="493.2" cy="241.8" r=".6"/><circle cx="484.5" cy="249.4" r=".6"/><circle cx="493.4" cy="239.2" r=".6"/><circle cx="488.2" cy="250.6" r=".6"/><circle cx="481.8" cy="233.9" r=".6"/><circle cx="493.9" cy="244.2" r=".6"/><circle cx="482.2" cy="240.0" r=".6"/><circle cx="485.5" cy="237.3" r=".6"/><circle cx="481.9" cy="242.8" r=".6"/><circle cx="493.8" cy="235.9" r=".6"/><circle cx="487.3" cy="227.2" r=".6"/><circle cx="483.4" cy="240.8" r=".6"/><circle cx="485.1" cy="240.5" r=".6"/><circle cx="488.4" cy="239.4" r=".6"/><circle cx="490.3" cy="238.0" r=".6"/><circle cx="492.7" cy="227.4" r=".6"/><circle cx="485.7" cy="236.7" r=".6"/><circle cx="483.0" cy="236.4" r=".6"/><circle cx="493.3" cy="240.1" r=".6"/><circle cx="493.7" cy="233.4" r=".6"/><circle cx="493.2" cy="245.1" r=".6"/><circle cx="489.1" cy="239.4" r=".6"/><circle cx="493.8" cy="248.1" r=".6"/><circle cx="482.9" cy="248.0" r=".6"/><circle cx="486.0" cy="259.0" r=".6"/><circle cx="493.4" cy="241.1" r=".6"/><circle cx="484.9" cy="241.6" r=".6"/><circle cx="485.2" cy="237.4" r=".6"/><circle cx="487.9" cy="243.6" r=".6"/><circle cx="482.8" cy="228.4" r=".6"/><circle cx="482.2" cy="244.8" r=".6"/><circle cx="488.8" cy="244.4" r=".6"/><circle cx="492.6" cy="236.8" r=".6"/><circle cx="490.3" cy="226.5" r=".6"/><circle cx="494.8" cy="244.3" r=".6"/><circle cx="481.9" cy="235.3" r=".6"/><circle cx="488.2" cy="259.8" r=".6"/><circle cx="491.9" cy="253.4" r=".6"/><circle cx="484.3" cy="238.3" r=".6"/><circle cx="482.6" cy="239.1" r=".6"/><circle cx="489.1" cy="234.5" r=".6"/><circle cx="485.6" cy="233.4" r=".6"/><circle cx="489.8" cy="240.9" r=".6"/><circle cx="488.8" cy="245.0" r=".6"/><circle cx="488.6" cy="236.7" r=".6"/><circle cx="485.5" cy="231.6" r=".6"/><circle cx="490.5" cy="244.5" r=".6"/><circle cx="483.9" cy="245.0" r=".6"/><circle cx="487.4" cy="234.0" r=".6"/><circle cx="485.7" cy="244.2" r=".6"/><circle cx="492.6" cy="244.8" r=".6"/></g><g fill="#00BFC4" fill-opacity="0.5"><circle cx="515.3" cy="246.8" r=".6"/><circle cx="504.9" cy="229.2" r=".6"/><circle cx="509.8" cy="255.4" r=".6"/><circle cx="504.7" cy="244.2" r=".6"/><circle cx="514.9" cy="235.9" r=".6"/><circle cx="505.2" cy="241.5" r=".6"/><circle cx="509.7" cy="244.6" r=".6"/><circle cx="510.4" cy="246.4" r=".6"/><circle cx="517.1" cy="238.0" r=".6"/><circle cx="508.7" cy="239.8" r=".6"/><circle cx="505.4" cy="243.6" r=".6"/><circle cx="513.6" cy="243.0" r=".6"/><circle cx="504.8" cy="246.0" r=".6"/><circle cx="505.1" cy="241.7" r=".6"/><circle cx="504.6" cy="239.7" r=".6"/><circle cx="507.5" cy="229.0" r=".6"/><circle cx="514.9" cy="227.5" r=".6"/><circle cx="506.6" cy="241.7" r=".6"/><circle cx="505.8" cy="236.5" r=".6"/><circle cx="512.0" cy="243.3" r=".6"/><circle cx="513.3" cy="240.9" r=".6"/><circle cx="515.7" cy="236.8" r=".6"/><circle cx="516.6" cy="242.0" r=".6"/><circle cx="505.9" cy="250.7" r=".6"/><circle cx="514.7" cy="238.9" r=".6"/><circle cx="512.1" cy="225.4" r=".6"/><circle cx="506.5" cy="232.5" r=".6"/><circle cx="507.6" cy="238.0" r=".6"/><circle cx="510.8" cy="237.4" r=".6"/><circle cx="506.2" cy="241.0" r=".6"/><circle cx="511.7" cy="240.7" r=".6"/><circle cx="505.7" cy="241.7" r=".6"/><circle cx="512.3" cy="223.6" r=".6"/><circle cx="507.6" cy="239.9" r=".6"/><circle cx="509.7" cy="247.9" r=".6"/><circle cx="511.1" cy="242.4" r=".6"/><circle cx="505.6" cy="236.8" r=".6"/><circle cx="506.3" cy="239.6" r=".6"/><circle cx="509.6" cy="235.3" r=".6"/><circle cx="506.1" cy="242.9" r=".6"/><circle cx="508.5" cy="237.4" r=".6"/><circle cx="509.7" cy="248.5" r=".6"/><circle cx="512.7" cy="244.5" r=".6"/><circle cx="508.8" cy="236.3" r=".6"/><circle cx="509.1" cy="231.9" r=".6"/><circle cx="508.6" cy="228.6" r=".6"/><circle cx="517.0" cy="246.5" r=".6"/><circle cx="513.9" cy="239.4" r=".6"/><circle cx="509.0" cy="223.9" r=".6"/><circle cx="506.1" cy="238.5" r=".6"/><circle cx="517.0" cy="244.7" r=".6"/><circle cx="510.3" cy="243.5" r=".6"/><circle cx="505.6" cy="238.7" r=".6"/><circle cx="515.8" cy="244.2" r=".6"/><circle cx="506.6" cy="233.4" r=".6"/><circle cx="514.7" cy="240.9" r=".6"/><circle cx="511.4" cy="232.8" r=".6"/><circle cx="508.9" cy="239.6" r=".6"/><circle cx="510.9" cy="242.2" r=".6"/><circle cx="513.6" cy="231.6" r=".6"/><circle cx="517.2" cy="239.5" r=".6"/><circle cx="516.0" cy="245.0" r=".6"/><circle cx="513.2" cy="239.8" r=".6"/><circle cx="505.4" cy="235.3" r=".6"/><circle cx="505.8" cy="241.4" r=".6"/><circle cx="514.7" cy="248.1" r=".6"/><circle cx="503.9" cy="243.0" r=".6"/><circle cx="514.2" cy="244.8" r=".6"/><circle cx="508.5" cy="240.7" r=".6"/><circle cx="504.9" cy="226.6" r=".6"/><circle cx="514.1" cy="236.4" r=".6"/><circle cx="508.1" cy="236.9" r=".6"/><circle cx="513.0" cy="236.4" r=".6"/><circle cx="515.7" cy="237.1" r=".6"/><circle cx="512.0" cy="232.1" r=".6"/><circle cx="505.4" cy="238.1" r=".6"/><circle cx="511.2" cy="233.8" r=".6"/><circle cx="510.7" cy="235.9" r=".6"/><circle cx="505.3" cy="238.7" r=".6"/><circle cx="516.5" cy="249.2" r=".6"/><circle cx="514.0" cy="242.0" r=".6"/><circle cx="514.5" cy="247.1" r=".6"/><circle cx="505.1" cy="244.9" r=".6"/><circle cx="514.1" cy="245.7" r=".6"/><circle cx="509.5" cy="238.9" r=".6"/><circle cx="505.9" cy="238.9" r=".6"/><circle cx="504.1" cy="236.6" r=".6"/><circle cx="505.8" cy="239.7" r=".6"/><circle cx="517.0" cy="234.8" r=".6"/><circle cx="510.4" cy="250.2" r=".6"/><circle cx="507.0" cy="242.6" r=".6"/><circle cx="514.9" cy="240.4" r=".6"/><circle cx="514.0" cy="227.2" r=".6"/><circle cx="513.1" cy="235.1" r=".6"/><circle cx="511.2" cy="244.6" r=".6"/><circle cx="511.6" cy="250.8" r=".6"/><circle cx="515.2" cy="246.7" r=".6"/><circle cx="508.3" cy="240.2" r=".6"/><circle cx="516.9" cy="248.7" r=".6"/><circle cx="512.0" cy="228.3" r=".6"/></g><g fill="#C77CFF" fill-opacity="0.5"><circle cx="530.4" cy="244.9" r=".6"/><circle cx="527.9" cy="238.6" r=".6"/><circle cx="533.0" cy="247.9" r=".6"/><circle cx="537.9" cy="246.9" r=".6"/><circle cx="538.0" cy="238.8" r=".6"/><circle cx="537.6" cy="239.0" r=".6"/><circle cx="528.8" cy="244.2" r=".6"/><circle cx="534.7" cy="244.1" r=".6"/><circle cx="526.2" cy="236.8" r=".6"/><circle cx="527.7" cy="239.0" r=".6"/><circle cx="531.8" cy="238.2" r=".6"/><circle cx="530.0" cy="242.0" r=".6"/><circle cx="529.2" cy="242.8" r=".6"/><circle cx="535.4" cy="241.5" r=".6"/><circle cx="526.2" cy="236.7" r=".6"/><circle cx="534.2" cy="235.9" r=".6"/><circle cx="535.1" cy="238.9" r=".6"/><circle cx="539.0" cy="242.9" r=".6"/><circle cx="529.4" cy="239.0" r=".6"/><circle cx="535.1" cy="242.1" r=".6"/><circle cx="530.4" cy="242.2" r=".6"/><circle cx="539.0" cy="240.2" r=".6"/><circle cx="527.1" cy="240.2" r=".6"/><circle cx="528.3" cy="244.4" r=".6"/><circle cx="527.4" cy="236.3" r=".6"/><circle cx="535.6" cy="238.3" r=".6"/><circle cx="536.0" cy="239.6" r=".6"/><circle cx="534.7" cy="243.8" r=".6"/><circle cx="536.3" cy="236.4" r=".6"/><circle cx="538.3" cy="241.9" r=".6"/><circle cx="533.1" cy="239.9" r=".6"/><circle cx="526.5" cy="240.5" r=".6"/><circle cx="535.0" cy="236.2" r=".6"/><circle cx="535.7" cy="237.7" r=".6"/><circle cx="527.1" cy="244.8" r=".6"/><circle cx="529.0" cy="246.8" r=".6"/><circle cx="528.0" cy="237.4" r=".6"/><circle cx="527.6" cy="238.3" r=".6"/><circle cx="530.2" cy="240.2" r=".6"/><circle cx="538.0" cy="240.5" r=".6"/><circle cx="533.4" cy="240.5" r=".6"/><circle cx="537.4" cy="241.7" r=".6"/><circle cx="527.1" cy="241.7" r=".6"/><circle cx="527.6" cy="240.2" r=".6"/><circle cx="534.5" cy="236.4" r=".6"/><circle cx="532.3" cy="240.3" r=".6"/><circle cx="530.7" cy="242.7" r=".6"/><circle cx="535.1" cy="236.2" r=".6"/><circle cx="533.3" cy="236.3" r=".6"/><circle cx="529.7" cy="241.4" r=".6"/><circle cx="537.0" cy="246.5" r=".6"/><circle cx="527.6" cy="241.7" r=".6"/><circle cx="527.7" cy="239.8" r=".6"/><circle cx="534.3" cy="241.9" r=".6"/><circle cx="533.8" cy="236.9" r=".6"/><circle cx="538.2" cy="240.1" r=".6"/><circle cx="539.2" cy="239.3" r=".6"/><circle cx="537.1" cy="237.6" r=".6"/><circle cx="531.9" cy="241.5" r=".6"/><circle cx="527.3" cy="236.7" r=".6"/><circle cx="528.1" cy="241.4" r=".6"/><circle cx="533.8" cy="241.5" r=".6"/><circle cx="536.5" cy="244.1" r=".6"/><circle cx="528.9" cy="240.8" r=".6"/><circle cx="528.5" cy="243.7" r=".6"/><circle cx="529.5" cy="240.7" r=".6"/><circle cx="537.1" cy="243.1" r=".6"/><circle cx="530.7" cy="249.1" r=".6"/><circle cx="537.0" cy="234.0" r=".6"/><circle cx="532.6" cy="237.2" r=".6"/><circle cx="532.3" cy="240.3" r=".6"/><circle cx="538.7" cy="237.4" r=".6"/><circle cx="535.6" cy="237.8" r=".6"/><circle cx="537.4" cy="233.0" r=".6"/><circle cx="533.0" cy="240.7" r=".6"/><circle cx="531.3" cy="241.1" r=".6"/><circle cx="536.8" cy="234.3" r=".6"/><circle cx="537.6" cy="241.5" r=".6"/><circle cx="536.3" cy="234.9" r=".6"/><circle cx="535.5" cy="242.1" r=".6"/></g><rect x="457.61" y="239.5" width="16.71" height="19.10" fill="none" stroke="#939393" stroke-width="0.6"/><line x1="457.61" x2="474.33" y1="247.5" y2="247.5" stroke="#4a4a4a" stroke-width="0.8"/><rect x="479.90" y="232.4" width="16.71" height="12.90" fill="none" stroke="#939393" stroke-width="0.6"/><line x1="479.90" x2="496.61" y1="239.1" y2="239.1" stroke="#4a4a4a" stroke-width="0.8"/><rect x="502.19" y="233.2" width="16.71" height="13.30" fill="none" stroke="#939393" stroke-width="0.6"/><line x1="502.19" x2="518.90" y1="240.3" y2="240.3" stroke="#4a4a4a" stroke-width="0.8"/><rect x="524.47" y="236" width="16.71" height="6.50" fill="none" stroke="#939393" stroke-width="0.6"/><line x1="524.47" x2="541.19" y1="240.5" y2="240.5" stroke="#4a4a4a" stroke-width="0.8"/></g><path d="M465.97 196.40V195.50H532.83V196.40" fill="none" stroke="#9a9a9a" stroke-width="0.7"/><text x="499.40" y="195.60" font-size="4" text-anchor="middle" fill="#444" font-family='"Liberation Sans", sans-serif'>****</text><path d="M465.97 201.20V200.30H510.54V201.20" fill="none" stroke="#9a9a9a" stroke-width="0.7"/><text x="488.26" y="200.40" font-size="4" text-anchor="middle" fill="#444" font-family='"Liberation Sans", sans-serif'>****</text><path d="M465.97 205.90V205.00H488.26V205.90" fill="none" stroke="#9a9a9a" stroke-width="0.7"/><text x="477.11" y="205.10" font-size="4" text-anchor="middle" fill="#444" font-family='"Liberation Sans", sans-serif'>****</text><rect x="452.6" y="189.7" width="93.60" height="118.50" fill="none" stroke="#c8c8c8" stroke-width="1.0"/><line x1="452.6" x2="452.6" y1="189.2" y2="308.7" stroke="#959595" stroke-width="0.85"/><line x1="451.1" x2="452.6" y1="305.90" y2="305.90" stroke="#777" stroke-width="0.6"/><text x="449.40" y="308.40" class="ax" text-anchor="end">20</text><line x1="451.1" x2="452.6" y1="279.60" y2="279.60" stroke="#777" stroke-width="0.6"/><text x="449.40" y="282.10" class="ax" text-anchor="end">40</text><line x1="451.1" x2="452.6" y1="253.30" y2="253.30" stroke="#777" stroke-width="0.6"/><text x="449.40" y="255.80" class="ax" text-anchor="end">60</text><line x1="451.1" x2="452.6" y1="227.00" y2="227.00" stroke="#777" stroke-width="0.6"/><text x="449.40" y="229.50" class="ax" text-anchor="end">80</text><line x1="451.1" x2="452.6" y1="200.70" y2="200.70" stroke="#777" stroke-width="0.6"/><text x="449.40" y="203.20" class="ax" text-anchor="end">100</text><line x1="465.97" x2="465.97" y1="308.2" y2="309.8" stroke="#888" stroke-width="0.6"/><text transform="translate(469.07,315.10) rotate(-45)" class="ax xl" text-anchor="end">Admission</text><line x1="488.26" x2="488.26" y1="308.2" y2="309.8" stroke="#888" stroke-width="0.6"/><text transform="translate(491.36,315.10) rotate(-45)" class="ax xl" text-anchor="end">First follow-up</text><line x1="510.54" x2="510.54" y1="308.2" y2="309.8" stroke="#888" stroke-width="0.6"/><text transform="translate(513.64,315.10) rotate(-45)" class="ax xl" text-anchor="end">Second follow-up</text><line x1="532.83" x2="532.83" y1="308.2" y2="309.8" stroke="#888" stroke-width="0.6"/><text transform="translate(535.93,315.10) rotate(-45)" class="ax xl" text-anchor="end">Third follow-up</text><text transform="translate(430.00,249.25) rotate(-90)" class="ax" text-anchor="middle">EF (%)</text><text x="-0.9" y="9.9" font-size="15.5" font-weight="bold" fill="#000" font-family='"Liberation Sans", sans-serif'>d</text><text x="-0.8" y="192.7" font-size="15.5" font-weight="bold" fill="#000" font-family='"Liberation Sans", sans-serif'>e</text></svg>
</body></html>
